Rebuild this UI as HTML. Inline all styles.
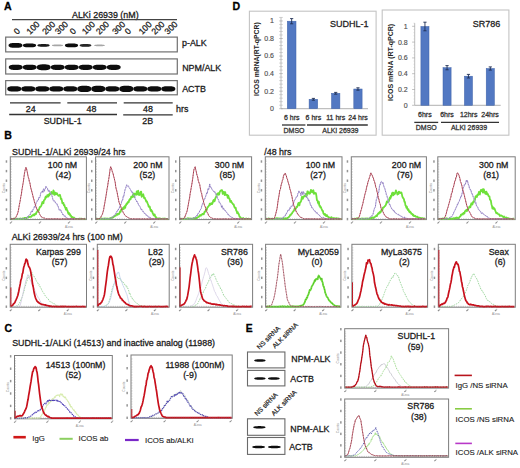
<!DOCTYPE html>
<html><head><meta charset="utf-8"><style>
html,body{margin:0;padding:0;background:#fff;width:520px;height:468px;overflow:hidden}
svg{display:block}
text{font-family:"Liberation Sans",sans-serif}
</style></head><body>
<svg width="520" height="468" viewBox="0 0 520 468">
<defs><filter id="bl" x="-20%" y="-60%" width="140%" height="220%"><feGaussianBlur stdDeviation="0.45"/></filter></defs>
<rect width="520" height="468" fill="#fff"/>
<text x="4.00" y="9.80" font-size="10.6" fill="#000" text-anchor="start" font-weight="bold" stroke="#000" stroke-width="0.28" >A</text>
<text x="72.00" y="17.50" font-size="8.9" fill="#1a1a1a" text-anchor="start" stroke="#1a1a1a" stroke-width="0.28" >ALKi 26939 (nM)</text>
<line x1="12.00" y1="19.60" x2="177.00" y2="19.60" stroke="#444" stroke-width="1.1" />
<text x="17.20" y="35.00" font-size="8.6" fill="#1a1a1a" stroke="#1a1a1a" stroke-width="0.25" transform="rotate(-45 17.20 35.00)">0</text>
<text x="30.00" y="35.00" font-size="8.6" fill="#1a1a1a" stroke="#1a1a1a" stroke-width="0.25" transform="rotate(-45 30.00 35.00)">100</text>
<text x="45.70" y="35.00" font-size="8.6" fill="#1a1a1a" stroke="#1a1a1a" stroke-width="0.25" transform="rotate(-45 45.70 35.00)">200</text>
<text x="58.60" y="35.00" font-size="8.6" fill="#1a1a1a" stroke="#1a1a1a" stroke-width="0.25" transform="rotate(-45 58.60 35.00)">300</text>
<text x="73.30" y="35.00" font-size="8.6" fill="#1a1a1a" stroke="#1a1a1a" stroke-width="0.25" transform="rotate(-45 73.30 35.00)">0</text>
<text x="85.40" y="35.00" font-size="8.6" fill="#1a1a1a" stroke="#1a1a1a" stroke-width="0.25" transform="rotate(-45 85.40 35.00)">100</text>
<text x="99.50" y="35.00" font-size="8.6" fill="#1a1a1a" stroke="#1a1a1a" stroke-width="0.25" transform="rotate(-45 99.50 35.00)">200</text>
<text x="115.70" y="35.00" font-size="8.6" fill="#1a1a1a" stroke="#1a1a1a" stroke-width="0.25" transform="rotate(-45 115.70 35.00)">300</text>
<text x="128.20" y="35.00" font-size="8.6" fill="#1a1a1a" stroke="#1a1a1a" stroke-width="0.25" transform="rotate(-45 128.20 35.00)">0</text>
<text x="142.20" y="35.00" font-size="8.6" fill="#1a1a1a" stroke="#1a1a1a" stroke-width="0.25" transform="rotate(-45 142.20 35.00)">100</text>
<text x="155.00" y="35.00" font-size="8.6" fill="#1a1a1a" stroke="#1a1a1a" stroke-width="0.25" transform="rotate(-45 155.00 35.00)">200</text>
<text x="168.00" y="35.00" font-size="8.6" fill="#1a1a1a" stroke="#1a1a1a" stroke-width="0.25" transform="rotate(-45 168.00 35.00)">300</text>
<rect x="5.70" y="37.10" width="171.60" height="14.80" fill="none" stroke="#707070" stroke-width="1.2" />
<rect x="5.70" y="58.90" width="171.60" height="15.10" fill="none" stroke="#707070" stroke-width="1.2" />
<rect x="5.70" y="80.60" width="171.60" height="14.20" fill="none" stroke="#707070" stroke-width="1.2" />
<polygon points="22.40,45.40 22.35,45.91 22.22,46.27 21.99,46.57 21.68,46.84 21.27,47.07 20.79,47.28 20.21,47.45 19.55,47.59 18.80,47.71 17.94,47.79 16.94,47.83 15.50,47.85 14.06,47.83 13.06,47.79 12.20,47.71 11.45,47.59 10.79,47.45 10.21,47.28 9.73,47.07 9.32,46.84 9.01,46.57 8.78,46.27 8.65,45.91 8.60,45.40 8.65,44.89 8.78,44.53 9.01,44.23 9.32,43.96 9.73,43.73 10.21,43.52 10.79,43.35 11.45,43.21 12.20,43.09 13.06,43.01 14.06,42.97 15.50,42.95 16.94,42.97 17.94,43.01 18.80,43.09 19.55,43.21 20.21,43.35 20.79,43.52 21.27,43.73 21.68,43.96 21.99,44.23 22.22,44.53 22.35,44.89" fill="#0a0a0a" fill-opacity="1.0" filter="url(#bl)"/>
<polygon points="36.05,45.40 36.01,45.81 35.88,46.09 35.66,46.33 35.36,46.54 34.98,46.73 34.52,46.89 33.97,47.03 33.34,47.15 32.63,47.23 31.82,47.30 30.87,47.34 29.50,47.35 28.13,47.34 27.18,47.30 26.37,47.23 25.66,47.15 25.03,47.03 24.48,46.89 24.02,46.73 23.64,46.54 23.34,46.33 23.12,46.09 22.99,45.81 22.95,45.40 22.99,44.99 23.12,44.71 23.34,44.47 23.64,44.26 24.02,44.07 24.48,43.91 25.03,43.77 25.66,43.65 26.37,43.57 27.18,43.50 28.13,43.46 29.50,43.45 30.87,43.46 31.82,43.50 32.63,43.57 33.34,43.65 33.97,43.77 34.52,43.91 34.98,44.07 35.36,44.26 35.66,44.47 35.88,44.71 36.01,44.99" fill="#0a0a0a" fill-opacity="1.0" filter="url(#bl)"/>
<polygon points="49.55,45.40 49.51,45.68 49.39,45.88 49.19,46.04 48.92,46.19 48.56,46.32 48.13,46.43 47.63,46.53 47.05,46.61 46.39,46.67 45.64,46.71 44.76,46.74 43.50,46.75 42.24,46.74 41.36,46.71 40.61,46.67 39.95,46.61 39.37,46.53 38.87,46.43 38.44,46.32 38.08,46.19 37.81,46.04 37.61,45.88 37.49,45.68 37.45,45.40 37.49,45.12 37.61,44.92 37.81,44.76 38.08,44.61 38.44,44.48 38.87,44.37 39.37,44.27 39.95,44.19 40.61,44.13 41.36,44.09 42.24,44.06 43.50,44.05 44.76,44.06 45.64,44.09 46.39,44.13 47.05,44.19 47.63,44.27 48.13,44.37 48.56,44.48 48.92,44.61 49.19,44.76 49.39,44.92 49.51,45.12" fill="#0a0a0a" fill-opacity="0.95" filter="url(#bl)"/>
<polygon points="63.05,45.40 63.01,45.59 62.90,45.72 62.72,45.83 62.47,45.93 62.14,46.01 61.75,46.09 61.29,46.15 60.76,46.21 60.15,46.25 59.46,46.28 58.66,46.29 57.50,46.30 56.34,46.29 55.54,46.28 54.85,46.25 54.24,46.21 53.71,46.15 53.25,46.09 52.86,46.01 52.53,45.93 52.28,45.83 52.10,45.72 51.99,45.59 51.95,45.40 51.99,45.21 52.10,45.08 52.28,44.97 52.53,44.87 52.86,44.79 53.25,44.71 53.71,44.65 54.24,44.59 54.85,44.55 55.54,44.52 56.34,44.51 57.50,44.50 58.66,44.51 59.46,44.52 60.15,44.55 60.76,44.59 61.29,44.65 61.75,44.71 62.14,44.79 62.47,44.87 62.72,44.97 62.90,45.08 63.01,45.21" fill="#0a0a0a" fill-opacity="0.35" filter="url(#bl)"/>
<polygon points="78.05,45.40 78.01,45.81 77.88,46.09 77.66,46.33 77.36,46.54 76.98,46.73 76.52,46.89 75.97,47.03 75.34,47.15 74.63,47.23 73.82,47.30 72.87,47.34 71.50,47.35 70.13,47.34 69.18,47.30 68.37,47.23 67.66,47.15 67.03,47.03 66.48,46.89 66.02,46.73 65.64,46.54 65.34,46.33 65.12,46.09 64.99,45.81 64.95,45.40 64.99,44.99 65.12,44.71 65.34,44.47 65.64,44.26 66.02,44.07 66.48,43.91 67.03,43.77 67.66,43.65 68.37,43.57 69.18,43.50 70.13,43.46 71.50,43.45 72.87,43.46 73.82,43.50 74.63,43.57 75.34,43.65 75.97,43.77 76.52,43.91 76.98,44.07 77.36,44.26 77.66,44.47 77.88,44.71 78.01,44.99" fill="#0a0a0a" fill-opacity="1.0" filter="url(#bl)"/>
<polygon points="91.30,45.40 91.26,45.69 91.15,45.89 90.96,46.07 90.69,46.22 90.35,46.36 89.94,46.47 89.46,46.57 88.90,46.65 88.27,46.72 87.55,46.76 86.71,46.79 85.50,46.80 84.29,46.79 83.45,46.76 82.73,46.72 82.10,46.65 81.54,46.57 81.06,46.47 80.65,46.36 80.31,46.22 80.04,46.07 79.85,45.89 79.74,45.69 79.70,45.40 79.74,45.11 79.85,44.91 80.04,44.73 80.31,44.58 80.65,44.44 81.06,44.33 81.54,44.23 82.10,44.15 82.73,44.08 83.45,44.04 84.29,44.01 85.50,44.00 86.71,44.01 87.55,44.04 88.27,44.08 88.90,44.15 89.46,44.23 89.94,44.33 90.35,44.44 90.69,44.58 90.96,44.73 91.15,44.91 91.26,45.11" fill="#0a0a0a" fill-opacity="0.9" filter="url(#bl)"/>
<polygon points="104.80,45.40 104.77,45.58 104.66,45.70 104.49,45.81 104.24,45.90 103.94,45.98 103.56,46.05 103.12,46.11 102.61,46.16 102.03,46.20 101.37,46.23 100.61,46.24 99.50,46.25 98.39,46.24 97.63,46.23 96.97,46.20 96.39,46.16 95.88,46.11 95.44,46.05 95.06,45.98 94.76,45.90 94.51,45.81 94.34,45.70 94.23,45.58 94.20,45.40 94.23,45.22 94.34,45.10 94.51,44.99 94.76,44.90 95.06,44.82 95.44,44.75 95.88,44.69 96.39,44.64 96.97,44.60 97.63,44.57 98.39,44.56 99.50,44.55 100.61,44.56 101.37,44.57 102.03,44.60 102.61,44.64 103.12,44.69 103.56,44.75 103.94,44.82 104.24,44.90 104.49,44.99 104.66,45.10 104.77,45.22" fill="#0a0a0a" fill-opacity="0.35" filter="url(#bl)"/>
<polygon points="22.60,67.30 22.55,67.85 22.42,68.24 22.19,68.57 21.88,68.85 21.47,69.11 20.99,69.33 20.41,69.52 19.75,69.67 19.00,69.79 18.14,69.88 17.14,69.93 15.70,69.95 14.26,69.93 13.26,69.88 12.40,69.79 11.65,69.67 10.99,69.52 10.41,69.33 9.93,69.11 9.52,68.85 9.21,68.57 8.98,68.24 8.85,67.85 8.80,67.30 8.85,66.75 8.98,66.36 9.21,66.03 9.52,65.75 9.93,65.49 10.41,65.27 10.99,65.08 11.65,64.93 12.40,64.81 13.26,64.72 14.26,64.67 15.70,64.65 17.14,64.67 18.14,64.72 19.00,64.81 19.75,64.93 20.41,65.08 20.99,65.27 21.47,65.49 21.88,65.75 22.19,66.03 22.42,66.36 22.55,66.75" fill="#0a0a0a" fill-opacity="1.0" filter="url(#bl)"/>
<polygon points="36.60,67.30 36.55,67.85 36.42,68.24 36.19,68.57 35.88,68.85 35.47,69.11 34.99,69.33 34.41,69.52 33.75,69.67 33.00,69.79 32.14,69.88 31.14,69.93 29.70,69.95 28.26,69.93 27.26,69.88 26.40,69.79 25.65,69.67 24.99,69.52 24.41,69.33 23.93,69.11 23.52,68.85 23.21,68.57 22.98,68.24 22.85,67.85 22.80,67.30 22.85,66.75 22.98,66.36 23.21,66.03 23.52,65.75 23.93,65.49 24.41,65.27 24.99,65.08 25.65,64.93 26.40,64.81 27.26,64.72 28.26,64.67 29.70,64.65 31.14,64.67 32.14,64.72 33.00,64.81 33.75,64.93 34.41,65.08 34.99,65.27 35.47,65.49 35.88,65.75 36.19,66.03 36.42,66.36 36.55,66.75" fill="#0a0a0a" fill-opacity="1.0" filter="url(#bl)"/>
<polygon points="50.60,67.30 50.55,67.92 50.42,68.34 50.19,68.71 49.88,69.03 49.47,69.31 48.99,69.56 48.41,69.77 47.75,69.94 47.00,70.08 46.14,70.17 45.14,70.23 43.70,70.25 42.26,70.23 41.26,70.17 40.40,70.08 39.65,69.94 38.99,69.77 38.41,69.56 37.93,69.31 37.52,69.03 37.21,68.71 36.98,68.34 36.85,67.92 36.80,67.30 36.85,66.68 36.98,66.26 37.21,65.89 37.52,65.57 37.93,65.29 38.41,65.04 38.99,64.83 39.65,64.66 40.40,64.52 41.26,64.43 42.26,64.37 43.70,64.35 45.14,64.37 46.14,64.43 47.00,64.52 47.75,64.66 48.41,64.83 48.99,65.04 49.47,65.29 49.88,65.57 50.19,65.89 50.42,66.26 50.55,66.68" fill="#0a0a0a" fill-opacity="1.0" filter="url(#bl)"/>
<polygon points="64.60,67.30 64.55,67.85 64.42,68.24 64.19,68.57 63.88,68.85 63.47,69.11 62.99,69.33 62.41,69.52 61.75,69.67 61.00,69.79 60.14,69.88 59.14,69.93 57.70,69.95 56.26,69.93 55.26,69.88 54.40,69.79 53.65,69.67 52.99,69.52 52.41,69.33 51.93,69.11 51.52,68.85 51.21,68.57 50.98,68.24 50.85,67.85 50.80,67.30 50.85,66.75 50.98,66.36 51.21,66.03 51.52,65.75 51.93,65.49 52.41,65.27 52.99,65.08 53.65,64.93 54.40,64.81 55.26,64.72 56.26,64.67 57.70,64.65 59.14,64.67 60.14,64.72 61.00,64.81 61.75,64.93 62.41,65.08 62.99,65.27 63.47,65.49 63.88,65.75 64.19,66.03 64.42,66.36 64.55,66.75" fill="#0a0a0a" fill-opacity="1.0" filter="url(#bl)"/>
<polygon points="78.60,67.30 78.55,67.85 78.42,68.24 78.19,68.57 77.88,68.85 77.47,69.11 76.99,69.33 76.41,69.52 75.75,69.67 75.00,69.79 74.14,69.88 73.14,69.93 71.70,69.95 70.26,69.93 69.26,69.88 68.40,69.79 67.65,69.67 66.99,69.52 66.41,69.33 65.93,69.11 65.52,68.85 65.21,68.57 64.98,68.24 64.85,67.85 64.80,67.30 64.85,66.75 64.98,66.36 65.21,66.03 65.52,65.75 65.93,65.49 66.41,65.27 66.99,65.08 67.65,64.93 68.40,64.81 69.26,64.72 70.26,64.67 71.70,64.65 73.14,64.67 74.14,64.72 75.00,64.81 75.75,64.93 76.41,65.08 76.99,65.27 77.47,65.49 77.88,65.75 78.19,66.03 78.42,66.36 78.55,66.75" fill="#0a0a0a" fill-opacity="1.0" filter="url(#bl)"/>
<polygon points="92.60,67.30 92.55,67.85 92.42,68.24 92.19,68.57 91.88,68.85 91.47,69.11 90.99,69.33 90.41,69.52 89.75,69.67 89.00,69.79 88.14,69.88 87.14,69.93 85.70,69.95 84.26,69.93 83.26,69.88 82.40,69.79 81.65,69.67 80.99,69.52 80.41,69.33 79.93,69.11 79.52,68.85 79.21,68.57 78.98,68.24 78.85,67.85 78.80,67.30 78.85,66.75 78.98,66.36 79.21,66.03 79.52,65.75 79.93,65.49 80.41,65.27 80.99,65.08 81.65,64.93 82.40,64.81 83.26,64.72 84.26,64.67 85.70,64.65 87.14,64.67 88.14,64.72 89.00,64.81 89.75,64.93 90.41,65.08 90.99,65.27 91.47,65.49 91.88,65.75 92.19,66.03 92.42,66.36 92.55,66.75" fill="#0a0a0a" fill-opacity="1.0" filter="url(#bl)"/>
<polygon points="106.60,67.30 106.55,67.85 106.42,68.24 106.19,68.57 105.88,68.85 105.47,69.11 104.99,69.33 104.41,69.52 103.75,69.67 103.00,69.79 102.14,69.88 101.14,69.93 99.70,69.95 98.26,69.93 97.26,69.88 96.40,69.79 95.65,69.67 94.99,69.52 94.41,69.33 93.93,69.11 93.52,68.85 93.21,68.57 92.98,68.24 92.85,67.85 92.80,67.30 92.85,66.75 92.98,66.36 93.21,66.03 93.52,65.75 93.93,65.49 94.41,65.27 94.99,65.08 95.65,64.93 96.40,64.81 97.26,64.72 98.26,64.67 99.70,64.65 101.14,64.67 102.14,64.72 103.00,64.81 103.75,64.93 104.41,65.08 104.99,65.27 105.47,65.49 105.88,65.75 106.19,66.03 106.42,66.36 106.55,66.75" fill="#0a0a0a" fill-opacity="1.0" filter="url(#bl)"/>
<polygon points="120.60,67.30 120.55,67.85 120.42,68.24 120.19,68.57 119.88,68.85 119.47,69.11 118.99,69.33 118.41,69.52 117.75,69.67 117.00,69.79 116.14,69.88 115.14,69.93 113.70,69.95 112.26,69.93 111.26,69.88 110.40,69.79 109.65,69.67 108.99,69.52 108.41,69.33 107.93,69.11 107.52,68.85 107.21,68.57 106.98,68.24 106.85,67.85 106.80,67.30 106.85,66.75 106.98,66.36 107.21,66.03 107.52,65.75 107.93,65.49 108.41,65.27 108.99,65.08 109.65,64.93 110.40,64.81 111.26,64.72 112.26,64.67 113.70,64.65 115.14,64.67 116.14,64.72 117.00,64.81 117.75,64.93 118.41,65.08 118.99,65.27 119.47,65.49 119.88,65.75 120.19,66.03 120.42,66.36 120.55,66.75" fill="#0a0a0a" fill-opacity="1.0" filter="url(#bl)"/>
<polygon points="21.30,88.90 21.25,89.46 21.12,89.85 20.89,90.19 20.57,90.48 20.16,90.74 19.66,90.97 19.08,91.16 18.41,91.32 17.64,91.44 16.77,91.53 15.76,91.58 14.30,91.60 12.84,91.58 11.83,91.53 10.96,91.44 10.19,91.32 9.52,91.16 8.94,90.97 8.44,90.74 8.03,90.48 7.71,90.19 7.48,89.85 7.35,89.46 7.30,88.90 7.35,88.34 7.48,87.95 7.71,87.61 8.03,87.32 8.44,87.06 8.94,86.83 9.52,86.64 10.19,86.48 10.96,86.36 11.83,86.27 12.84,86.22 14.30,86.20 15.76,86.22 16.77,86.27 17.64,86.36 18.41,86.48 19.08,86.64 19.66,86.83 20.16,87.06 20.57,87.32 20.89,87.61 21.12,87.95 21.25,88.34" fill="#0a0a0a" fill-opacity="1.0" filter="url(#bl)"/>
<polygon points="35.30,88.90 35.25,89.46 35.12,89.85 34.89,90.19 34.57,90.48 34.16,90.74 33.66,90.97 33.08,91.16 32.41,91.32 31.64,91.44 30.77,91.53 29.76,91.58 28.30,91.60 26.84,91.58 25.83,91.53 24.96,91.44 24.19,91.32 23.52,91.16 22.94,90.97 22.44,90.74 22.03,90.48 21.71,90.19 21.48,89.85 21.35,89.46 21.30,88.90 21.35,88.34 21.48,87.95 21.71,87.61 22.03,87.32 22.44,87.06 22.94,86.83 23.52,86.64 24.19,86.48 24.96,86.36 25.83,86.27 26.84,86.22 28.30,86.20 29.76,86.22 30.77,86.27 31.64,86.36 32.41,86.48 33.08,86.64 33.66,86.83 34.16,87.06 34.57,87.32 34.89,87.61 35.12,87.95 35.25,88.34" fill="#0a0a0a" fill-opacity="1.0" filter="url(#bl)"/>
<polygon points="49.30,88.90 49.25,89.46 49.12,89.85 48.89,90.19 48.57,90.48 48.16,90.74 47.66,90.97 47.08,91.16 46.41,91.32 45.64,91.44 44.77,91.53 43.76,91.58 42.30,91.60 40.84,91.58 39.83,91.53 38.96,91.44 38.19,91.32 37.52,91.16 36.94,90.97 36.44,90.74 36.03,90.48 35.71,90.19 35.48,89.85 35.35,89.46 35.30,88.90 35.35,88.34 35.48,87.95 35.71,87.61 36.03,87.32 36.44,87.06 36.94,86.83 37.52,86.64 38.19,86.48 38.96,86.36 39.83,86.27 40.84,86.22 42.30,86.20 43.76,86.22 44.77,86.27 45.64,86.36 46.41,86.48 47.08,86.64 47.66,86.83 48.16,87.06 48.57,87.32 48.89,87.61 49.12,87.95 49.25,88.34" fill="#0a0a0a" fill-opacity="1.0" filter="url(#bl)"/>
<polygon points="63.30,88.90 63.25,89.46 63.12,89.85 62.89,90.19 62.57,90.48 62.16,90.74 61.66,90.97 61.08,91.16 60.41,91.32 59.64,91.44 58.77,91.53 57.76,91.58 56.30,91.60 54.84,91.58 53.83,91.53 52.96,91.44 52.19,91.32 51.52,91.16 50.94,90.97 50.44,90.74 50.03,90.48 49.71,90.19 49.48,89.85 49.35,89.46 49.30,88.90 49.35,88.34 49.48,87.95 49.71,87.61 50.03,87.32 50.44,87.06 50.94,86.83 51.52,86.64 52.19,86.48 52.96,86.36 53.83,86.27 54.84,86.22 56.30,86.20 57.76,86.22 58.77,86.27 59.64,86.36 60.41,86.48 61.08,86.64 61.66,86.83 62.16,87.06 62.57,87.32 62.89,87.61 63.12,87.95 63.25,88.34" fill="#0a0a0a" fill-opacity="1.0" filter="url(#bl)"/>
<polygon points="77.30,88.90 77.25,89.46 77.12,89.85 76.89,90.19 76.57,90.48 76.16,90.74 75.66,90.97 75.08,91.16 74.41,91.32 73.64,91.44 72.77,91.53 71.76,91.58 70.30,91.60 68.84,91.58 67.83,91.53 66.96,91.44 66.19,91.32 65.52,91.16 64.94,90.97 64.44,90.74 64.03,90.48 63.71,90.19 63.48,89.85 63.35,89.46 63.30,88.90 63.35,88.34 63.48,87.95 63.71,87.61 64.03,87.32 64.44,87.06 64.94,86.83 65.52,86.64 66.19,86.48 66.96,86.36 67.83,86.27 68.84,86.22 70.30,86.20 71.76,86.22 72.77,86.27 73.64,86.36 74.41,86.48 75.08,86.64 75.66,86.83 76.16,87.06 76.57,87.32 76.89,87.61 77.12,87.95 77.25,88.34" fill="#0a0a0a" fill-opacity="1.0" filter="url(#bl)"/>
<polygon points="91.30,88.90 91.25,89.57 91.12,90.03 90.89,90.43 90.57,90.78 90.16,91.08 89.66,91.35 89.08,91.58 88.41,91.76 87.64,91.91 86.77,92.02 85.76,92.08 84.30,92.10 82.84,92.08 81.83,92.02 80.96,91.91 80.19,91.76 79.52,91.58 78.94,91.35 78.44,91.08 78.03,90.78 77.71,90.43 77.48,90.03 77.35,89.57 77.30,88.90 77.35,88.23 77.48,87.77 77.71,87.37 78.03,87.02 78.44,86.72 78.94,86.45 79.52,86.22 80.19,86.04 80.96,85.89 81.83,85.78 82.84,85.72 84.30,85.70 85.76,85.72 86.77,85.78 87.64,85.89 88.41,86.04 89.08,86.22 89.66,86.45 90.16,86.72 90.57,87.02 90.89,87.37 91.12,87.77 91.25,88.23" fill="#0a0a0a" fill-opacity="1.0" filter="url(#bl)"/>
<polygon points="105.30,88.90 105.25,89.57 105.12,90.03 104.89,90.43 104.57,90.78 104.16,91.08 103.66,91.35 103.08,91.58 102.41,91.76 101.64,91.91 100.77,92.02 99.76,92.08 98.30,92.10 96.84,92.08 95.83,92.02 94.96,91.91 94.19,91.76 93.52,91.58 92.94,91.35 92.44,91.08 92.03,90.78 91.71,90.43 91.48,90.03 91.35,89.57 91.30,88.90 91.35,88.23 91.48,87.77 91.71,87.37 92.03,87.02 92.44,86.72 92.94,86.45 93.52,86.22 94.19,86.04 94.96,85.89 95.83,85.78 96.84,85.72 98.30,85.70 99.76,85.72 100.77,85.78 101.64,85.89 102.41,86.04 103.08,86.22 103.66,86.45 104.16,86.72 104.57,87.02 104.89,87.37 105.12,87.77 105.25,88.23" fill="#0a0a0a" fill-opacity="1.0" filter="url(#bl)"/>
<polygon points="119.30,88.90 119.25,89.46 119.12,89.85 118.89,90.19 118.57,90.48 118.16,90.74 117.66,90.97 117.08,91.16 116.41,91.32 115.64,91.44 114.77,91.53 113.76,91.58 112.30,91.60 110.84,91.58 109.83,91.53 108.96,91.44 108.19,91.32 107.52,91.16 106.94,90.97 106.44,90.74 106.03,90.48 105.71,90.19 105.48,89.85 105.35,89.46 105.30,88.90 105.35,88.34 105.48,87.95 105.71,87.61 106.03,87.32 106.44,87.06 106.94,86.83 107.52,86.64 108.19,86.48 108.96,86.36 109.83,86.27 110.84,86.22 112.30,86.20 113.76,86.22 114.77,86.27 115.64,86.36 116.41,86.48 117.08,86.64 117.66,86.83 118.16,87.06 118.57,87.32 118.89,87.61 119.12,87.95 119.25,88.34" fill="#0a0a0a" fill-opacity="1.0" filter="url(#bl)"/>
<polygon points="133.30,88.90 133.25,89.57 133.12,90.03 132.89,90.43 132.57,90.78 132.16,91.08 131.66,91.35 131.08,91.58 130.41,91.76 129.64,91.91 128.77,92.02 127.76,92.08 126.30,92.10 124.84,92.08 123.83,92.02 122.96,91.91 122.19,91.76 121.52,91.58 120.94,91.35 120.44,91.08 120.03,90.78 119.71,90.43 119.48,90.03 119.35,89.57 119.30,88.90 119.35,88.23 119.48,87.77 119.71,87.37 120.03,87.02 120.44,86.72 120.94,86.45 121.52,86.22 122.19,86.04 122.96,85.89 123.83,85.78 124.84,85.72 126.30,85.70 127.76,85.72 128.77,85.78 129.64,85.89 130.41,86.04 131.08,86.22 131.66,86.45 132.16,86.72 132.57,87.02 132.89,87.37 133.12,87.77 133.25,88.23" fill="#0a0a0a" fill-opacity="1.0" filter="url(#bl)"/>
<polygon points="147.30,88.90 147.25,89.46 147.12,89.85 146.89,90.19 146.57,90.48 146.16,90.74 145.66,90.97 145.08,91.16 144.41,91.32 143.64,91.44 142.77,91.53 141.76,91.58 140.30,91.60 138.84,91.58 137.83,91.53 136.96,91.44 136.19,91.32 135.52,91.16 134.94,90.97 134.44,90.74 134.03,90.48 133.71,90.19 133.48,89.85 133.35,89.46 133.30,88.90 133.35,88.34 133.48,87.95 133.71,87.61 134.03,87.32 134.44,87.06 134.94,86.83 135.52,86.64 136.19,86.48 136.96,86.36 137.83,86.27 138.84,86.22 140.30,86.20 141.76,86.22 142.77,86.27 143.64,86.36 144.41,86.48 145.08,86.64 145.66,86.83 146.16,87.06 146.57,87.32 146.89,87.61 147.12,87.95 147.25,88.34" fill="#0a0a0a" fill-opacity="1.0" filter="url(#bl)"/>
<polygon points="161.30,88.90 161.25,89.46 161.12,89.85 160.89,90.19 160.57,90.48 160.16,90.74 159.66,90.97 159.08,91.16 158.41,91.32 157.64,91.44 156.77,91.53 155.76,91.58 154.30,91.60 152.84,91.58 151.83,91.53 150.96,91.44 150.19,91.32 149.52,91.16 148.94,90.97 148.44,90.74 148.03,90.48 147.71,90.19 147.48,89.85 147.35,89.46 147.30,88.90 147.35,88.34 147.48,87.95 147.71,87.61 148.03,87.32 148.44,87.06 148.94,86.83 149.52,86.64 150.19,86.48 150.96,86.36 151.83,86.27 152.84,86.22 154.30,86.20 155.76,86.22 156.77,86.27 157.64,86.36 158.41,86.48 159.08,86.64 159.66,86.83 160.16,87.06 160.57,87.32 160.89,87.61 161.12,87.95 161.25,88.34" fill="#0a0a0a" fill-opacity="1.0" filter="url(#bl)"/>
<polygon points="175.30,88.90 175.25,89.46 175.12,89.85 174.89,90.19 174.57,90.48 174.16,90.74 173.66,90.97 173.08,91.16 172.41,91.32 171.64,91.44 170.77,91.53 169.76,91.58 168.30,91.60 166.84,91.58 165.83,91.53 164.96,91.44 164.19,91.32 163.52,91.16 162.94,90.97 162.44,90.74 162.03,90.48 161.71,90.19 161.48,89.85 161.35,89.46 161.30,88.90 161.35,88.34 161.48,87.95 161.71,87.61 162.03,87.32 162.44,87.06 162.94,86.83 163.52,86.64 164.19,86.48 164.96,86.36 165.83,86.27 166.84,86.22 168.30,86.20 169.76,86.22 170.77,86.27 171.64,86.36 172.41,86.48 173.08,86.64 173.66,86.83 174.16,87.06 174.57,87.32 174.89,87.61 175.12,87.95 175.25,88.34" fill="#0a0a0a" fill-opacity="1.0" filter="url(#bl)"/>
<text x="182.00" y="46.30" font-size="8.9" fill="#1a1a1a" text-anchor="start" stroke="#1a1a1a" stroke-width="0.28" >p-ALK</text>
<text x="182.20" y="71.30" font-size="8.9" fill="#1a1a1a" text-anchor="start" stroke="#1a1a1a" stroke-width="0.28" >NPM/ALK</text>
<text x="182.20" y="91.90" font-size="8.9" fill="#1a1a1a" text-anchor="start" stroke="#1a1a1a" stroke-width="0.28" >ACTB</text>
<line x1="10.00" y1="102.80" x2="60.60" y2="102.80" stroke="#333" stroke-width="1.3" />
<line x1="67.30" y1="102.80" x2="117.00" y2="102.80" stroke="#333" stroke-width="1.3" />
<line x1="123.70" y1="102.80" x2="172.70" y2="102.80" stroke="#333" stroke-width="1.3" />
<line x1="9.20" y1="114.50" x2="117.00" y2="114.50" stroke="#333" stroke-width="1.3" />
<line x1="123.20" y1="114.80" x2="172.70" y2="114.80" stroke="#333" stroke-width="1.3" />
<text x="30.80" y="112.20" font-size="8.9" fill="#1a1a1a" text-anchor="middle" stroke="#1a1a1a" stroke-width="0.28" >24</text>
<text x="91.50" y="112.20" font-size="8.9" fill="#1a1a1a" text-anchor="middle" stroke="#1a1a1a" stroke-width="0.28" >48</text>
<text x="148.00" y="112.20" font-size="8.9" fill="#1a1a1a" text-anchor="middle" stroke="#1a1a1a" stroke-width="0.28" >48</text>
<text x="176.00" y="112.20" font-size="8.9" fill="#1a1a1a" text-anchor="start" stroke="#1a1a1a" stroke-width="0.28" >hrs</text>
<text x="62.70" y="123.80" font-size="8.9" fill="#1a1a1a" text-anchor="middle" stroke="#1a1a1a" stroke-width="0.28" >SUDHL-1</text>
<text x="147.70" y="123.60" font-size="8.9" fill="#1a1a1a" text-anchor="middle" stroke="#1a1a1a" stroke-width="0.28" >2B</text>
<text x="232.60" y="10.00" font-size="10.6" fill="#000" text-anchor="start" font-weight="bold" stroke="#000" stroke-width="0.28" >D</text>
<rect x="249.40" y="11.20" width="126.70" height="124.00" fill="none" stroke="#c4c4c4" stroke-width="1.1" />
<line x1="281.00" y1="17.44" x2="281.00" y2="108.70" stroke="#a0a0a0" stroke-width="0.7" />
<line x1="279.20" y1="108.70" x2="282.80" y2="108.70" stroke="#9a9a9a" stroke-width="0.6" />
<line x1="279.20" y1="105.19" x2="282.80" y2="105.19" stroke="#b4b4b4" stroke-width="0.6" />
<line x1="279.20" y1="101.68" x2="282.80" y2="101.68" stroke="#b4b4b4" stroke-width="0.6" />
<line x1="279.20" y1="98.17" x2="282.80" y2="98.17" stroke="#b4b4b4" stroke-width="0.6" />
<line x1="279.20" y1="94.66" x2="282.80" y2="94.66" stroke="#b4b4b4" stroke-width="0.6" />
<line x1="279.20" y1="91.15" x2="282.80" y2="91.15" stroke="#9a9a9a" stroke-width="0.6" />
<line x1="279.20" y1="87.64" x2="282.80" y2="87.64" stroke="#b4b4b4" stroke-width="0.6" />
<line x1="279.20" y1="84.13" x2="282.80" y2="84.13" stroke="#b4b4b4" stroke-width="0.6" />
<line x1="279.20" y1="80.62" x2="282.80" y2="80.62" stroke="#b4b4b4" stroke-width="0.6" />
<line x1="279.20" y1="77.11" x2="282.80" y2="77.11" stroke="#b4b4b4" stroke-width="0.6" />
<line x1="279.20" y1="73.60" x2="282.80" y2="73.60" stroke="#9a9a9a" stroke-width="0.6" />
<line x1="279.20" y1="70.09" x2="282.80" y2="70.09" stroke="#b4b4b4" stroke-width="0.6" />
<line x1="279.20" y1="66.58" x2="282.80" y2="66.58" stroke="#b4b4b4" stroke-width="0.6" />
<line x1="279.20" y1="63.07" x2="282.80" y2="63.07" stroke="#b4b4b4" stroke-width="0.6" />
<line x1="279.20" y1="59.56" x2="282.80" y2="59.56" stroke="#b4b4b4" stroke-width="0.6" />
<line x1="279.20" y1="56.05" x2="282.80" y2="56.05" stroke="#9a9a9a" stroke-width="0.6" />
<line x1="279.20" y1="52.54" x2="282.80" y2="52.54" stroke="#b4b4b4" stroke-width="0.6" />
<line x1="279.20" y1="49.03" x2="282.80" y2="49.03" stroke="#b4b4b4" stroke-width="0.6" />
<line x1="279.20" y1="45.52" x2="282.80" y2="45.52" stroke="#b4b4b4" stroke-width="0.6" />
<line x1="279.20" y1="42.01" x2="282.80" y2="42.01" stroke="#b4b4b4" stroke-width="0.6" />
<line x1="279.20" y1="38.50" x2="282.80" y2="38.50" stroke="#9a9a9a" stroke-width="0.6" />
<line x1="279.20" y1="34.99" x2="282.80" y2="34.99" stroke="#b4b4b4" stroke-width="0.6" />
<line x1="279.20" y1="31.48" x2="282.80" y2="31.48" stroke="#b4b4b4" stroke-width="0.6" />
<line x1="279.20" y1="27.97" x2="282.80" y2="27.97" stroke="#b4b4b4" stroke-width="0.6" />
<line x1="279.20" y1="24.46" x2="282.80" y2="24.46" stroke="#b4b4b4" stroke-width="0.6" />
<line x1="279.20" y1="20.95" x2="282.80" y2="20.95" stroke="#9a9a9a" stroke-width="0.6" />
<line x1="279.20" y1="17.44" x2="282.80" y2="17.44" stroke="#b4b4b4" stroke-width="0.6" />
<text x="274.00" y="111.10" font-size="7.0" fill="#505050" text-anchor="end" stroke="#505050" stroke-width="0.15" >0</text>
<text x="274.00" y="93.55" font-size="7.0" fill="#505050" text-anchor="end" stroke="#505050" stroke-width="0.15" >0.2</text>
<text x="274.00" y="76.00" font-size="7.0" fill="#505050" text-anchor="end" stroke="#505050" stroke-width="0.15" >0.4</text>
<text x="274.00" y="58.45" font-size="7.0" fill="#505050" text-anchor="end" stroke="#505050" stroke-width="0.15" >0.6</text>
<text x="274.00" y="40.90" font-size="7.0" fill="#505050" text-anchor="end" stroke="#505050" stroke-width="0.15" >0.8</text>
<text x="274.00" y="23.35" font-size="7.0" fill="#505050" text-anchor="end" stroke="#505050" stroke-width="0.15" >1</text>
<line x1="281.00" y1="108.70" x2="368.00" y2="108.70" stroke="#a8a8a8" stroke-width="0.9" />
<rect x="287.30" y="21.20" width="8.70" height="87.50" fill="#5278c2" stroke="#3f62a8" stroke-width="0.5" />
<line x1="291.65" y1="18.60" x2="291.65" y2="23.80" stroke="#1f2f55" stroke-width="0.9" />
<line x1="290.05" y1="18.60" x2="293.25" y2="18.60" stroke="#1f2f55" stroke-width="0.9" />
<line x1="290.05" y1="23.80" x2="293.25" y2="23.80" stroke="#1f2f55" stroke-width="0.9" />
<rect x="309.10" y="99.30" width="8.60" height="9.40" fill="#5278c2" stroke="#3f62a8" stroke-width="0.5" />
<line x1="313.40" y1="98.40" x2="313.40" y2="100.20" stroke="#1f2f55" stroke-width="0.9" />
<line x1="311.80" y1="98.40" x2="315.00" y2="98.40" stroke="#1f2f55" stroke-width="0.9" />
<line x1="311.80" y1="100.20" x2="315.00" y2="100.20" stroke="#1f2f55" stroke-width="0.9" />
<rect x="331.50" y="93.30" width="8.40" height="15.40" fill="#5278c2" stroke="#3f62a8" stroke-width="0.5" />
<line x1="335.70" y1="92.40" x2="335.70" y2="94.20" stroke="#1f2f55" stroke-width="0.9" />
<line x1="334.10" y1="92.40" x2="337.30" y2="92.40" stroke="#1f2f55" stroke-width="0.9" />
<line x1="334.10" y1="94.20" x2="337.30" y2="94.20" stroke="#1f2f55" stroke-width="0.9" />
<rect x="353.80" y="89.00" width="8.30" height="19.70" fill="#5278c2" stroke="#3f62a8" stroke-width="0.5" />
<line x1="357.95" y1="87.80" x2="357.95" y2="90.20" stroke="#1f2f55" stroke-width="0.9" />
<line x1="356.35" y1="87.80" x2="359.55" y2="87.80" stroke="#1f2f55" stroke-width="0.9" />
<line x1="356.35" y1="90.20" x2="359.55" y2="90.20" stroke="#1f2f55" stroke-width="0.9" />
<text x="291.70" y="119.80" font-size="7.0" fill="#333" text-anchor="middle" stroke="#333" stroke-width="0.28" >6 hrs</text>
<text x="313.40" y="119.80" font-size="7.0" fill="#333" text-anchor="middle" stroke="#333" stroke-width="0.28" >6 hrs</text>
<text x="335.70" y="119.80" font-size="7.0" fill="#333" text-anchor="middle" stroke="#333" stroke-width="0.28" >11 hrs</text>
<text x="358.00" y="119.80" font-size="7.0" fill="#333" text-anchor="middle" stroke="#333" stroke-width="0.28" >24 hrs</text>
<line x1="282.00" y1="125.00" x2="305.40" y2="125.00" stroke="#333" stroke-width="1.3" />
<line x1="307.00" y1="125.00" x2="367.80" y2="125.00" stroke="#333" stroke-width="1.3" />
<text x="294.00" y="132.60" font-size="7.0" fill="#333" text-anchor="middle" stroke="#333" stroke-width="0.28" >DMSO</text>
<text x="340.40" y="132.60" font-size="7.0" fill="#333" text-anchor="middle" stroke="#333" stroke-width="0.28" >ALKi 26939</text>
<text x="259.30" y="96.00" font-size="6.85" font-weight="bold" fill="#222" transform="rotate(-90 259.30 96.00)">ICOS mRNA(RT-qPCR)</text>
<text x="368.40" y="27.30" font-size="9.0" fill="#222" text-anchor="end" stroke="#222" stroke-width="0.28" >SUDHL-1</text>
<rect x="382.20" y="10.00" width="126.70" height="125.20" fill="none" stroke="#c4c4c4" stroke-width="1.1" />
<line x1="414.70" y1="23.14" x2="414.70" y2="105.30" stroke="#a0a0a0" stroke-width="0.7" />
<line x1="412.10" y1="105.30" x2="414.70" y2="105.30" stroke="#999" stroke-width="0.6" />
<line x1="413.50" y1="102.14" x2="414.70" y2="102.14" stroke="#c0c0c0" stroke-width="0.5" />
<line x1="413.50" y1="98.98" x2="414.70" y2="98.98" stroke="#c0c0c0" stroke-width="0.5" />
<line x1="413.50" y1="95.82" x2="414.70" y2="95.82" stroke="#c0c0c0" stroke-width="0.5" />
<line x1="413.50" y1="92.66" x2="414.70" y2="92.66" stroke="#c0c0c0" stroke-width="0.5" />
<line x1="412.10" y1="89.50" x2="414.70" y2="89.50" stroke="#999" stroke-width="0.6" />
<line x1="413.50" y1="86.34" x2="414.70" y2="86.34" stroke="#c0c0c0" stroke-width="0.5" />
<line x1="413.50" y1="83.18" x2="414.70" y2="83.18" stroke="#c0c0c0" stroke-width="0.5" />
<line x1="413.50" y1="80.02" x2="414.70" y2="80.02" stroke="#c0c0c0" stroke-width="0.5" />
<line x1="413.50" y1="76.86" x2="414.70" y2="76.86" stroke="#c0c0c0" stroke-width="0.5" />
<line x1="412.10" y1="73.70" x2="414.70" y2="73.70" stroke="#999" stroke-width="0.6" />
<line x1="413.50" y1="70.54" x2="414.70" y2="70.54" stroke="#c0c0c0" stroke-width="0.5" />
<line x1="413.50" y1="67.38" x2="414.70" y2="67.38" stroke="#c0c0c0" stroke-width="0.5" />
<line x1="413.50" y1="64.22" x2="414.70" y2="64.22" stroke="#c0c0c0" stroke-width="0.5" />
<line x1="413.50" y1="61.06" x2="414.70" y2="61.06" stroke="#c0c0c0" stroke-width="0.5" />
<line x1="412.10" y1="57.90" x2="414.70" y2="57.90" stroke="#999" stroke-width="0.6" />
<line x1="413.50" y1="54.74" x2="414.70" y2="54.74" stroke="#c0c0c0" stroke-width="0.5" />
<line x1="413.50" y1="51.58" x2="414.70" y2="51.58" stroke="#c0c0c0" stroke-width="0.5" />
<line x1="413.50" y1="48.42" x2="414.70" y2="48.42" stroke="#c0c0c0" stroke-width="0.5" />
<line x1="413.50" y1="45.26" x2="414.70" y2="45.26" stroke="#c0c0c0" stroke-width="0.5" />
<line x1="412.10" y1="42.10" x2="414.70" y2="42.10" stroke="#999" stroke-width="0.6" />
<line x1="413.50" y1="38.94" x2="414.70" y2="38.94" stroke="#c0c0c0" stroke-width="0.5" />
<line x1="413.50" y1="35.78" x2="414.70" y2="35.78" stroke="#c0c0c0" stroke-width="0.5" />
<line x1="413.50" y1="32.62" x2="414.70" y2="32.62" stroke="#c0c0c0" stroke-width="0.5" />
<line x1="413.50" y1="29.46" x2="414.70" y2="29.46" stroke="#c0c0c0" stroke-width="0.5" />
<line x1="412.10" y1="26.30" x2="414.70" y2="26.30" stroke="#999" stroke-width="0.6" />
<line x1="413.50" y1="23.14" x2="414.70" y2="23.14" stroke="#c0c0c0" stroke-width="0.5" />
<text x="407.70" y="107.70" font-size="7.0" fill="#505050" text-anchor="end" stroke="#505050" stroke-width="0.15" >0</text>
<text x="407.70" y="91.90" font-size="7.0" fill="#505050" text-anchor="end" stroke="#505050" stroke-width="0.15" >0.2</text>
<text x="407.70" y="76.10" font-size="7.0" fill="#505050" text-anchor="end" stroke="#505050" stroke-width="0.15" >0.4</text>
<text x="407.70" y="60.30" font-size="7.0" fill="#505050" text-anchor="end" stroke="#505050" stroke-width="0.15" >0.6</text>
<text x="407.70" y="44.50" font-size="7.0" fill="#505050" text-anchor="end" stroke="#505050" stroke-width="0.15" >0.8</text>
<text x="407.70" y="28.70" font-size="7.0" fill="#505050" text-anchor="end" stroke="#505050" stroke-width="0.15" >1</text>
<line x1="414.70" y1="105.30" x2="500.70" y2="105.30" stroke="#a8a8a8" stroke-width="0.9" />
<rect x="420.90" y="26.50" width="8.10" height="78.80" fill="#5278c2" stroke="#3f62a8" stroke-width="0.5" />
<line x1="424.95" y1="22.20" x2="424.95" y2="30.80" stroke="#1f2f55" stroke-width="0.9" />
<line x1="423.35" y1="22.20" x2="426.55" y2="22.20" stroke="#1f2f55" stroke-width="0.9" />
<line x1="423.35" y1="30.80" x2="426.55" y2="30.80" stroke="#1f2f55" stroke-width="0.9" />
<rect x="443.00" y="67.70" width="8.10" height="37.60" fill="#5278c2" stroke="#3f62a8" stroke-width="0.5" />
<line x1="447.05" y1="65.60" x2="447.05" y2="69.80" stroke="#1f2f55" stroke-width="0.9" />
<line x1="445.45" y1="65.60" x2="448.65" y2="65.60" stroke="#1f2f55" stroke-width="0.9" />
<line x1="445.45" y1="69.80" x2="448.65" y2="69.80" stroke="#1f2f55" stroke-width="0.9" />
<rect x="464.40" y="76.20" width="8.10" height="29.10" fill="#5278c2" stroke="#3f62a8" stroke-width="0.5" />
<line x1="468.45" y1="74.40" x2="468.45" y2="78.00" stroke="#1f2f55" stroke-width="0.9" />
<line x1="466.85" y1="74.40" x2="470.05" y2="74.40" stroke="#1f2f55" stroke-width="0.9" />
<line x1="466.85" y1="78.00" x2="470.05" y2="78.00" stroke="#1f2f55" stroke-width="0.9" />
<rect x="486.20" y="68.50" width="8.20" height="36.80" fill="#5278c2" stroke="#3f62a8" stroke-width="0.5" />
<line x1="490.30" y1="66.90" x2="490.30" y2="70.10" stroke="#1f2f55" stroke-width="0.9" />
<line x1="488.70" y1="66.90" x2="491.90" y2="66.90" stroke="#1f2f55" stroke-width="0.9" />
<line x1="488.70" y1="70.10" x2="491.90" y2="70.10" stroke="#1f2f55" stroke-width="0.9" />
<text x="424.90" y="117.30" font-size="7.0" fill="#333" text-anchor="middle" stroke="#333" stroke-width="0.28" >6hrs</text>
<text x="447.00" y="117.30" font-size="7.0" fill="#333" text-anchor="middle" stroke="#333" stroke-width="0.28" >6hrs</text>
<text x="468.70" y="117.30" font-size="7.0" fill="#333" text-anchor="middle" stroke="#333" stroke-width="0.28" >12hrs</text>
<text x="490.00" y="117.30" font-size="7.0" fill="#333" text-anchor="middle" stroke="#333" stroke-width="0.28" >24hrs</text>
<line x1="414.30" y1="122.40" x2="438.20" y2="122.40" stroke="#333" stroke-width="1.3" />
<line x1="441.00" y1="122.40" x2="499.00" y2="122.40" stroke="#333" stroke-width="1.3" />
<text x="426.30" y="130.00" font-size="7.0" fill="#333" text-anchor="middle" stroke="#333" stroke-width="0.28" >DMSO</text>
<text x="469.00" y="130.00" font-size="7.0" fill="#333" text-anchor="middle" stroke="#333" stroke-width="0.28" >ALKi 26939</text>
<text x="393.00" y="101.00" font-size="7.0" font-weight="bold" fill="#222" transform="rotate(-90 393.00 101.00)">ICOS  mRNA (RT-qPCR)</text>
<text x="500.30" y="26.90" font-size="9.0" fill="#222" text-anchor="end" stroke="#222" stroke-width="0.28" >SR786</text>
<text x="4.30" y="138.80" font-size="10.6" fill="#000" text-anchor="start" font-weight="bold" stroke="#000" stroke-width="0.28" >B</text>
<text x="12.10" y="154.70" font-size="8.9" fill="#1a1a1a" text-anchor="start" stroke="#1a1a1a" stroke-width="0.28" >SUDHL-1/ALKi 26939/24 hrs</text>
<text x="264.30" y="155.00" font-size="8.9" fill="#1a1a1a" text-anchor="start" stroke="#1a1a1a" stroke-width="0.28" >/48 hrs</text>
<rect x="10.30" y="156.80" width="76.10" height="62.80" fill="#fff" stroke="#7c7c7c" stroke-width="1.0" />
<polyline points="10.90,219.00 11.40,219.00 11.90,219.00 12.40,218.88 12.90,218.98 13.40,218.87 13.90,218.68 14.40,218.65 14.90,218.72 15.40,218.93 15.90,218.99 16.40,218.99 16.90,218.85 17.40,218.76 17.90,218.98 18.40,219.00 18.90,218.60 19.40,219.00 19.90,218.69 20.40,218.51 20.90,218.87 21.40,218.89 21.90,218.78 22.40,218.36 22.90,218.56 23.40,219.00 23.90,218.52 24.40,217.98 24.90,217.86 25.40,217.85 25.90,218.03 26.40,218.48 26.90,217.65 27.40,217.67 27.90,217.46 28.40,216.76 28.90,217.18 29.40,217.02 29.90,216.73 30.40,216.88 30.90,216.81 31.40,216.59 31.90,215.59 32.40,215.43 32.90,215.68 33.40,214.52 33.90,214.77 34.40,215.37 34.90,213.95 35.40,214.01 35.90,214.18 36.40,212.25 36.90,212.07 37.40,211.34 37.90,209.81 38.40,211.26 38.90,209.78 39.40,208.30 39.90,206.90 40.40,206.89 40.90,206.35 41.40,205.55 41.90,203.74 42.40,202.03 42.90,203.39 43.40,203.23 43.90,200.41 44.40,199.70 44.90,199.63 45.40,197.25 45.90,196.44 46.40,197.51 46.90,196.68 47.40,194.99 47.90,195.71 48.40,196.51 48.90,194.46 49.40,195.18 49.90,193.25 50.40,193.97 50.90,193.22 51.40,191.95 51.90,192.57 52.40,193.22 52.90,193.82 53.40,190.40 53.90,191.37 54.40,194.94 54.90,194.51 55.40,192.55 55.90,194.28 56.40,193.79 56.90,193.11 57.40,194.34 57.90,195.02 58.40,195.81 58.90,195.70 59.40,195.62 59.90,194.77 60.40,196.55 60.90,199.03 61.40,198.77 61.90,200.67 62.40,203.38 62.90,202.91 63.40,202.80 63.90,205.38 64.40,204.92 64.90,207.07 65.40,207.73 65.90,209.65 66.40,207.82 66.90,209.98 67.40,210.42 67.90,212.31 68.40,213.77 68.90,212.75 69.40,214.62 69.90,213.94 70.40,215.62 70.90,215.41 71.40,217.06 71.90,217.83 72.40,217.04 72.90,217.52 73.40,217.68 73.90,217.48 74.40,218.33 74.90,218.62 75.40,218.73 75.90,219.00 76.40,219.00 76.90,218.98 77.40,218.92 77.90,218.80 78.40,219.00 78.90,218.76 79.40,218.55 79.90,218.82 80.40,218.68 80.90,219.00 81.40,218.76 81.90,218.74 82.40,219.00 82.90,219.00 83.40,218.97 83.90,218.95 84.40,218.64 84.90,219.00 85.40,218.64" fill="none" stroke="#6ee03a" stroke-width="1.8" stroke-opacity="1.0" stroke-linejoin="round"/>
<polyline points="10.90,219.00 11.40,218.78 11.90,218.74 12.40,218.92 12.90,218.90 13.40,219.00 13.90,219.00 14.40,219.00 14.90,219.00 15.40,218.76 15.90,218.93 16.40,218.89 16.90,219.00 17.40,219.00 17.90,219.00 18.40,219.00 18.90,218.77 19.40,218.87 19.90,218.95 20.40,218.90 20.90,219.00 21.40,218.61 21.90,219.00 22.40,218.82 22.90,218.41 23.40,219.00 23.90,219.00 24.40,218.75 24.90,218.37 25.40,218.58 25.90,218.00 26.40,217.73 26.90,217.45 27.40,217.95 27.90,216.71 28.40,215.81 28.90,215.48 29.40,215.19 29.90,214.41 30.40,214.60 30.90,212.42 31.40,211.14 31.90,210.81 32.40,212.04 32.90,209.89 33.40,208.95 33.90,208.38 34.40,206.52 34.90,207.35 35.40,205.69 35.90,203.78 36.40,202.48 36.90,202.07 37.40,200.39 37.90,199.79 38.40,200.06 38.90,197.13 39.40,197.63 39.90,197.61 40.40,194.81 40.90,192.56 41.40,192.32 41.90,191.27 42.40,191.03 42.90,192.72 43.40,188.98 43.90,188.95 44.40,191.23 44.90,188.76 45.40,188.52 45.90,186.29 46.40,187.37 46.90,187.61 47.40,188.16 47.90,190.22 48.40,191.35 48.90,189.98 49.40,191.13 49.90,191.82 50.40,192.95 50.90,194.25 51.40,194.30 51.90,195.63 52.40,197.33 52.90,199.39 53.40,200.92 53.90,200.95 54.40,200.91 54.90,201.06 55.40,202.93 55.90,202.95 56.40,203.42 56.90,203.41 57.40,205.65 57.90,205.67 58.40,207.29 58.90,208.99 59.40,210.37 59.90,209.64 60.40,210.05 60.90,209.94 61.40,212.26 61.90,212.38 62.40,213.35 62.90,215.02 63.40,214.51 63.90,215.41 64.40,216.27 64.90,215.66 65.40,216.85 65.90,216.93 66.40,217.55 66.90,218.07 67.40,218.33 67.90,218.45 68.40,218.90 68.90,219.00 69.40,218.48 69.90,218.74 70.40,219.00 70.90,218.85 71.40,219.00 71.90,218.86 72.40,218.69 72.90,219.00 73.40,218.70 73.90,218.72 74.40,218.92 74.90,218.86 75.40,218.94 75.90,218.97 76.40,219.00 76.90,218.60 77.40,219.00 77.90,218.89 78.40,218.96 78.90,218.84 79.40,218.83 79.90,219.00 80.40,218.87 80.90,218.99 81.40,219.00 81.90,218.73 82.40,218.75 82.90,219.00 83.40,219.00 83.90,219.00 84.40,219.00 84.90,219.00 85.40,218.90" fill="none" stroke="#b0a0de" stroke-width="1.0" stroke-opacity="1.0" stroke-linejoin="round"/>
<polyline points="10.90,219.00 11.40,218.78 11.90,218.74 12.40,218.92 12.90,218.90 13.40,219.00 13.90,219.00 14.40,219.00 14.90,219.00 15.40,218.76 15.90,218.93 16.40,218.89 16.90,219.00 17.40,219.00 17.90,219.00 18.40,219.00 18.90,218.77 19.40,218.87 19.90,218.95 20.40,218.90 20.90,219.00 21.40,218.61 21.90,219.00 22.40,218.82 22.90,218.41 23.40,219.00 23.90,219.00 24.40,218.75 24.90,218.37 25.40,218.58 25.90,218.00 26.40,217.73 26.90,217.45 27.40,217.95 27.90,216.71 28.40,215.81 28.90,215.48 29.40,215.19 29.90,214.41 30.40,214.60 30.90,212.42 31.40,211.14 31.90,210.81 32.40,212.04 32.90,209.89 33.40,208.95 33.90,208.38 34.40,206.52 34.90,207.35 35.40,205.69 35.90,203.78 36.40,202.48 36.90,202.07 37.40,200.39 37.90,199.79 38.40,200.06 38.90,197.13 39.40,197.63 39.90,197.61 40.40,194.81 40.90,192.56 41.40,192.32 41.90,191.27 42.40,191.03 42.90,192.72 43.40,188.98 43.90,188.95 44.40,191.23 44.90,188.76 45.40,188.52 45.90,186.29 46.40,187.37 46.90,187.61 47.40,188.16 47.90,190.22 48.40,191.35 48.90,189.98 49.40,191.13 49.90,191.82 50.40,192.95 50.90,194.25 51.40,194.30 51.90,195.63 52.40,197.33 52.90,199.39 53.40,200.92 53.90,200.95 54.40,200.91 54.90,201.06 55.40,202.93 55.90,202.95 56.40,203.42 56.90,203.41 57.40,205.65 57.90,205.67 58.40,207.29 58.90,208.99 59.40,210.37 59.90,209.64 60.40,210.05 60.90,209.94 61.40,212.26 61.90,212.38 62.40,213.35 62.90,215.02 63.40,214.51 63.90,215.41 64.40,216.27 64.90,215.66 65.40,216.85 65.90,216.93 66.40,217.55 66.90,218.07 67.40,218.33 67.90,218.45 68.40,218.90 68.90,219.00 69.40,218.48 69.90,218.74 70.40,219.00 70.90,218.85 71.40,219.00 71.90,218.86 72.40,218.69 72.90,219.00 73.40,218.70 73.90,218.72 74.40,218.92 74.90,218.86 75.40,218.94 75.90,218.97 76.40,219.00 76.90,218.60 77.40,219.00 77.90,218.89 78.40,218.96 78.90,218.84 79.40,218.83 79.90,219.00 80.40,218.87 80.90,218.99 81.40,219.00 81.90,218.73 82.40,218.75 82.90,219.00 83.40,219.00 83.90,219.00 84.40,219.00 84.90,219.00 85.40,218.90" fill="none" stroke="#5e5080" stroke-width="0.7" stroke-opacity="0.55" stroke-dasharray="1.3 1.5"/>
<polyline points="10.90,218.82 11.40,218.86 11.90,218.99 12.40,218.85 12.90,218.80 13.40,218.45 13.90,218.77 14.40,218.43 14.90,218.44 15.40,217.91 15.90,217.25 16.40,216.19 16.90,215.14 17.40,214.14 17.90,212.57 18.40,210.47 18.90,207.52 19.40,204.47 19.90,202.26 20.40,199.46 20.90,196.30 21.40,194.12 21.90,190.10 22.40,187.29 22.90,184.25 23.40,181.45 23.90,177.50 24.40,173.83 24.90,171.23 25.40,168.78 25.90,167.42 26.40,168.01 26.90,170.54 27.40,172.56 27.90,175.49 28.40,177.56 28.90,178.93 29.40,181.80 29.90,182.77 30.40,186.04 30.90,188.27 31.40,189.96 31.90,191.90 32.40,193.86 32.90,195.84 33.40,198.04 33.90,199.48 34.40,201.73 34.90,203.24 35.40,204.90 35.90,206.39 36.40,207.77 36.90,209.29 37.40,209.97 37.90,210.85 38.40,211.95 38.90,212.07 39.40,213.46 39.90,214.60 40.40,215.47 40.90,216.13 41.40,217.03 41.90,217.04 42.40,217.51 42.90,217.50 43.40,217.95 43.90,217.93 44.40,218.02 44.90,218.29 45.40,218.76 45.90,218.70 46.40,218.82 46.90,218.67 47.40,218.76 47.90,218.60 48.40,218.79 48.90,218.93 49.40,218.91 49.90,218.68 50.40,218.93 50.90,218.80 51.40,218.59 51.90,218.83 52.40,218.92 52.90,218.74 53.40,218.79 53.90,218.96 54.40,218.75 54.90,218.82 55.40,218.77 55.90,218.92 56.40,218.72 56.90,218.91 57.40,218.72 57.90,218.98 58.40,218.82 58.90,218.82 59.40,219.00 59.90,219.00 60.40,218.94 60.90,218.96 61.40,218.94 61.90,218.89 62.40,218.64 62.90,218.86 63.40,218.71 63.90,218.85 64.40,218.77 64.90,218.83 65.40,218.89 65.90,218.84 66.40,218.66 66.90,219.00 67.40,218.88 67.90,218.84 68.40,219.00 68.90,218.85 69.40,218.89 69.90,218.78 70.40,218.85 70.90,218.92 71.40,218.89 71.90,219.00 72.40,218.71 72.90,218.91 73.40,219.00 73.90,219.00 74.40,218.96 74.90,219.00 75.40,218.93 75.90,219.00 76.40,218.90 76.90,219.00 77.40,218.97 77.90,219.00 78.40,219.00 78.90,218.98 79.40,219.00 79.90,219.00 80.40,219.00 80.90,219.00 81.40,218.87 81.90,219.00 82.40,218.81 82.90,218.89 83.40,218.94 83.90,219.00 84.40,219.00 84.90,218.83 85.40,218.79" fill="none" stroke="#c85a6c" stroke-width="1.0" stroke-opacity="1.0" stroke-linejoin="round"/>
<polyline points="10.90,218.82 11.40,218.86 11.90,218.99 12.40,218.85 12.90,218.80 13.40,218.45 13.90,218.77 14.40,218.43 14.90,218.44 15.40,217.91 15.90,217.25 16.40,216.19 16.90,215.14 17.40,214.14 17.90,212.57 18.40,210.47 18.90,207.52 19.40,204.47 19.90,202.26 20.40,199.46 20.90,196.30 21.40,194.12 21.90,190.10 22.40,187.29 22.90,184.25 23.40,181.45 23.90,177.50 24.40,173.83 24.90,171.23 25.40,168.78 25.90,167.42 26.40,168.01 26.90,170.54 27.40,172.56 27.90,175.49 28.40,177.56 28.90,178.93 29.40,181.80 29.90,182.77 30.40,186.04 30.90,188.27 31.40,189.96 31.90,191.90 32.40,193.86 32.90,195.84 33.40,198.04 33.90,199.48 34.40,201.73 34.90,203.24 35.40,204.90 35.90,206.39 36.40,207.77 36.90,209.29 37.40,209.97 37.90,210.85 38.40,211.95 38.90,212.07 39.40,213.46 39.90,214.60 40.40,215.47 40.90,216.13 41.40,217.03 41.90,217.04 42.40,217.51 42.90,217.50 43.40,217.95 43.90,217.93 44.40,218.02 44.90,218.29 45.40,218.76 45.90,218.70 46.40,218.82 46.90,218.67 47.40,218.76 47.90,218.60 48.40,218.79 48.90,218.93 49.40,218.91 49.90,218.68 50.40,218.93 50.90,218.80 51.40,218.59 51.90,218.83 52.40,218.92 52.90,218.74 53.40,218.79 53.90,218.96 54.40,218.75 54.90,218.82 55.40,218.77 55.90,218.92 56.40,218.72 56.90,218.91 57.40,218.72 57.90,218.98 58.40,218.82 58.90,218.82 59.40,219.00 59.90,219.00 60.40,218.94 60.90,218.96 61.40,218.94 61.90,218.89 62.40,218.64 62.90,218.86 63.40,218.71 63.90,218.85 64.40,218.77 64.90,218.83 65.40,218.89 65.90,218.84 66.40,218.66 66.90,219.00 67.40,218.88 67.90,218.84 68.40,219.00 68.90,218.85 69.40,218.89 69.90,218.78 70.40,218.85 70.90,218.92 71.40,218.89 71.90,219.00 72.40,218.71 72.90,218.91 73.40,219.00 73.90,219.00 74.40,218.96 74.90,219.00 75.40,218.93 75.90,219.00 76.40,218.90 76.90,219.00 77.40,218.97 77.90,219.00 78.40,219.00 78.90,218.98 79.40,219.00 79.90,219.00 80.40,219.00 80.90,219.00 81.40,218.87 81.90,219.00 82.40,218.81 82.90,218.89 83.40,218.94 83.90,219.00 84.40,219.00 84.90,218.83 85.40,218.79" fill="none" stroke="#5a2a34" stroke-width="0.7" stroke-opacity="0.65" stroke-dasharray="1.3 1.5"/>
<line x1="11.20" y1="159.80" x2="11.20" y2="219.60" stroke="#808080" stroke-width="0.6" stroke-dasharray="0.5 1.1"/>
<line x1="10.30" y1="218.70" x2="86.40" y2="218.70" stroke="#777" stroke-width="0.6" stroke-dasharray="0.5 1.3"/>
<rect x="5.70" y="160.30" width="1.50" height="2.40" fill="#959595" stroke="none" stroke-width="1.0" />
<rect x="5.70" y="169.90" width="1.50" height="2.40" fill="#959595" stroke="none" stroke-width="1.0" />
<rect x="5.70" y="179.50" width="1.50" height="2.40" fill="#959595" stroke="none" stroke-width="1.0" />
<rect x="5.70" y="189.10" width="1.50" height="2.40" fill="#959595" stroke="none" stroke-width="1.0" />
<rect x="5.70" y="198.70" width="1.50" height="2.40" fill="#959595" stroke="none" stroke-width="1.0" />
<rect x="5.70" y="208.30" width="1.50" height="2.40" fill="#959595" stroke="none" stroke-width="1.0" />
<rect x="5.70" y="217.90" width="1.50" height="2.40" fill="#959595" stroke="none" stroke-width="1.0" />
<text x="4.70" y="193.20" font-size="3.2" fill="#8a8a8a" transform="rotate(-90 4.70 193.20)">Counts</text>
<line x1="9.90" y1="223.40" x2="11.50" y2="222.20" stroke="#8c8c8c" stroke-width="1.1" />
<rect x="11.30" y="221.20" width="0.90" height="0.90" fill="#a0a0a0" stroke="none" stroke-width="1.0" />
<line x1="38.90" y1="223.40" x2="40.50" y2="222.20" stroke="#8c8c8c" stroke-width="1.1" />
<rect x="40.30" y="221.20" width="0.90" height="0.90" fill="#a0a0a0" stroke="none" stroke-width="1.0" />
<line x1="67.90" y1="223.40" x2="69.50" y2="222.20" stroke="#8c8c8c" stroke-width="1.1" />
<rect x="69.30" y="221.20" width="0.90" height="0.90" fill="#a0a0a0" stroke="none" stroke-width="1.0" />
<text x="68.90" y="227.60" font-size="2.8" fill="#8a8a8a" text-anchor="middle">ALexa</text>
<text x="77.20" y="168.30" font-size="8.8" fill="#1a1a1a" text-anchor="end" stroke="#1a1a1a" stroke-width="0.28" >100 nM</text>
<text x="63.40" y="177.80" font-size="8.8" fill="#1a1a1a" text-anchor="middle" stroke="#1a1a1a" stroke-width="0.28" >(42)</text>
<rect x="95.60" y="156.80" width="73.40" height="62.80" fill="#fff" stroke="#7c7c7c" stroke-width="1.0" />
<polyline points="96.20,218.99 96.70,218.67 97.20,218.68 97.70,219.00 98.20,219.00 98.70,219.00 99.20,218.76 99.70,218.89 100.20,218.68 100.70,219.00 101.20,218.44 101.70,218.84 102.20,218.62 102.70,218.81 103.20,218.86 103.70,218.63 104.20,218.51 104.70,218.77 105.20,218.74 105.70,218.50 106.20,218.90 106.70,219.00 107.20,218.52 107.70,218.78 108.20,219.00 108.70,218.68 109.20,218.48 109.70,218.60 110.20,218.60 110.70,217.99 111.20,217.58 111.70,217.87 112.20,217.94 112.70,217.38 113.20,217.01 113.70,217.10 114.20,216.35 114.70,215.73 115.20,215.95 115.70,215.90 116.20,214.91 116.70,214.58 117.20,213.70 117.70,214.76 118.20,214.01 118.70,213.74 119.20,213.91 119.70,212.15 120.20,211.32 120.70,211.71 121.20,209.56 121.70,209.43 122.20,209.03 122.70,208.66 123.20,207.64 123.70,209.07 124.20,206.82 124.70,206.25 125.20,207.83 125.70,205.17 126.20,205.04 126.70,203.31 127.20,203.83 127.70,202.69 128.20,201.60 128.70,202.21 129.20,199.89 129.70,199.96 130.20,198.57 130.70,199.08 131.20,196.60 131.70,196.68 132.20,197.18 132.70,195.77 133.20,194.56 133.70,193.46 134.20,197.22 134.70,193.71 135.20,193.80 135.70,194.08 136.20,194.83 136.70,191.46 137.20,194.36 137.70,191.70 138.20,190.78 138.70,194.83 139.20,193.40 139.70,194.98 140.20,193.25 140.70,191.92 141.20,191.67 141.70,196.95 142.20,195.92 142.70,194.83 143.20,194.26 143.70,196.20 144.20,198.16 144.70,197.62 145.20,198.84 145.70,199.98 146.20,201.50 146.70,201.21 147.20,202.24 147.70,203.60 148.20,204.68 148.70,206.68 149.20,206.95 149.70,206.51 150.20,208.80 150.70,210.87 151.20,209.77 151.70,211.40 152.20,211.21 152.70,213.26 153.20,214.18 153.70,215.32 154.20,214.33 154.70,214.32 155.20,216.61 155.70,217.08 156.20,217.15 156.70,218.23 157.20,218.46 157.70,218.67 158.20,218.58 158.70,218.36 159.20,218.66 159.70,218.44 160.20,218.82 160.70,218.64 161.20,219.00 161.70,219.00 162.20,218.57 162.70,218.94 163.20,218.67 163.70,218.70 164.20,218.52 164.70,218.67 165.20,218.64 165.70,218.93 166.20,219.00 166.70,219.00 167.20,219.00 167.70,219.00 168.20,219.00" fill="none" stroke="#6ee03a" stroke-width="1.8" stroke-opacity="1.0" stroke-linejoin="round"/>
<polyline points="96.20,218.94 96.70,218.73 97.20,219.00 97.70,218.68 98.20,218.98 98.70,219.00 99.20,219.00 99.70,219.00 100.20,218.98 100.70,218.79 101.20,218.82 101.70,218.81 102.20,219.00 102.70,219.00 103.20,218.62 103.70,218.71 104.20,218.49 104.70,218.66 105.20,219.00 105.70,218.63 106.20,218.74 106.70,218.81 107.20,218.99 107.70,218.83 108.20,218.85 108.70,218.65 109.20,218.78 109.70,218.44 110.20,218.74 110.70,218.17 111.20,217.80 111.70,217.79 112.20,217.53 112.70,216.51 113.20,216.29 113.70,216.13 114.20,215.52 114.70,215.36 115.20,214.29 115.70,213.88 116.20,212.74 116.70,211.57 117.20,211.43 117.70,209.99 118.20,210.13 118.70,208.76 119.20,208.42 119.70,206.66 120.20,205.55 120.70,204.73 121.20,203.77 121.70,201.49 122.20,199.93 122.70,200.12 123.20,196.24 123.70,196.67 124.20,193.85 124.70,191.36 125.20,189.10 125.70,188.27 126.20,186.34 126.70,184.79 127.20,185.82 127.70,186.44 128.20,185.87 128.70,186.30 129.20,187.89 129.70,188.42 130.20,189.07 130.70,190.13 131.20,190.96 131.70,192.36 132.20,191.82 132.70,193.47 133.20,194.52 133.70,195.23 134.20,195.96 134.70,196.24 135.20,198.62 135.70,199.71 136.20,200.25 136.70,202.02 137.20,201.49 137.70,202.75 138.20,203.89 138.70,205.31 139.20,205.53 139.70,206.08 140.20,207.15 140.70,208.34 141.20,209.86 141.70,209.10 142.20,210.53 142.70,211.47 143.20,211.21 143.70,212.03 144.20,213.36 144.70,213.24 145.20,213.82 145.70,213.79 146.20,215.45 146.70,215.34 147.20,215.72 147.70,215.60 148.20,216.78 148.70,217.66 149.20,217.47 149.70,217.30 150.20,217.47 150.70,217.57 151.20,218.21 151.70,218.73 152.20,218.57 152.70,218.80 153.20,218.85 153.70,218.82 154.20,218.59 154.70,219.00 155.20,219.00 155.70,218.86 156.20,218.86 156.70,219.00 157.20,219.00 157.70,218.80 158.20,218.63 158.70,218.75 159.20,218.76 159.70,218.67 160.20,219.00 160.70,219.00 161.20,219.00 161.70,219.00 162.20,219.00 162.70,218.92 163.20,219.00 163.70,219.00 164.20,219.00 164.70,219.00 165.20,218.72 165.70,219.00 166.20,218.92 166.70,218.86 167.20,219.00 167.70,218.89 168.20,218.96" fill="none" stroke="#b0a0de" stroke-width="1.0" stroke-opacity="1.0" stroke-linejoin="round"/>
<polyline points="96.20,218.94 96.70,218.73 97.20,219.00 97.70,218.68 98.20,218.98 98.70,219.00 99.20,219.00 99.70,219.00 100.20,218.98 100.70,218.79 101.20,218.82 101.70,218.81 102.20,219.00 102.70,219.00 103.20,218.62 103.70,218.71 104.20,218.49 104.70,218.66 105.20,219.00 105.70,218.63 106.20,218.74 106.70,218.81 107.20,218.99 107.70,218.83 108.20,218.85 108.70,218.65 109.20,218.78 109.70,218.44 110.20,218.74 110.70,218.17 111.20,217.80 111.70,217.79 112.20,217.53 112.70,216.51 113.20,216.29 113.70,216.13 114.20,215.52 114.70,215.36 115.20,214.29 115.70,213.88 116.20,212.74 116.70,211.57 117.20,211.43 117.70,209.99 118.20,210.13 118.70,208.76 119.20,208.42 119.70,206.66 120.20,205.55 120.70,204.73 121.20,203.77 121.70,201.49 122.20,199.93 122.70,200.12 123.20,196.24 123.70,196.67 124.20,193.85 124.70,191.36 125.20,189.10 125.70,188.27 126.20,186.34 126.70,184.79 127.20,185.82 127.70,186.44 128.20,185.87 128.70,186.30 129.20,187.89 129.70,188.42 130.20,189.07 130.70,190.13 131.20,190.96 131.70,192.36 132.20,191.82 132.70,193.47 133.20,194.52 133.70,195.23 134.20,195.96 134.70,196.24 135.20,198.62 135.70,199.71 136.20,200.25 136.70,202.02 137.20,201.49 137.70,202.75 138.20,203.89 138.70,205.31 139.20,205.53 139.70,206.08 140.20,207.15 140.70,208.34 141.20,209.86 141.70,209.10 142.20,210.53 142.70,211.47 143.20,211.21 143.70,212.03 144.20,213.36 144.70,213.24 145.20,213.82 145.70,213.79 146.20,215.45 146.70,215.34 147.20,215.72 147.70,215.60 148.20,216.78 148.70,217.66 149.20,217.47 149.70,217.30 150.20,217.47 150.70,217.57 151.20,218.21 151.70,218.73 152.20,218.57 152.70,218.80 153.20,218.85 153.70,218.82 154.20,218.59 154.70,219.00 155.20,219.00 155.70,218.86 156.20,218.86 156.70,219.00 157.20,219.00 157.70,218.80 158.20,218.63 158.70,218.75 159.20,218.76 159.70,218.67 160.20,219.00 160.70,219.00 161.20,219.00 161.70,219.00 162.20,219.00 162.70,218.92 163.20,219.00 163.70,219.00 164.20,219.00 164.70,219.00 165.20,218.72 165.70,219.00 166.20,218.92 166.70,218.86 167.20,219.00 167.70,218.89 168.20,218.96" fill="none" stroke="#5e5080" stroke-width="0.7" stroke-opacity="0.55" stroke-dasharray="1.3 1.5"/>
<polyline points="96.20,219.00 96.70,218.91 97.20,218.81 97.70,218.92 98.20,218.67 98.70,218.66 99.20,218.54 99.70,218.50 100.20,218.09 100.70,217.67 101.20,216.30 101.70,215.38 102.20,214.69 102.70,213.17 103.20,211.37 103.70,209.48 104.20,206.01 104.70,203.57 105.20,200.62 105.70,197.88 106.20,194.83 106.70,191.48 107.20,188.27 107.70,185.89 108.20,182.05 108.70,179.40 109.20,176.14 109.70,172.37 110.20,168.57 110.70,166.74 111.20,167.71 111.70,169.33 112.20,171.25 112.70,172.58 113.20,174.03 113.70,176.46 114.20,178.08 114.70,180.46 115.20,182.25 115.70,186.49 116.20,189.01 116.70,190.59 117.20,192.72 117.70,195.67 118.20,197.81 118.70,200.76 119.20,202.74 119.70,204.08 120.20,204.92 120.70,206.32 121.20,208.07 121.70,209.09 122.20,210.45 122.70,211.27 123.20,212.47 123.70,213.13 124.20,214.18 124.70,214.87 125.20,215.63 125.70,216.09 126.20,216.27 126.70,216.68 127.20,216.95 127.70,217.35 128.20,217.52 128.70,218.05 129.20,218.17 129.70,218.40 130.20,218.76 130.70,218.60 131.20,218.58 131.70,218.76 132.20,218.96 132.70,218.99 133.20,218.84 133.70,218.62 134.20,218.76 134.70,218.74 135.20,218.85 135.70,218.91 136.20,218.79 136.70,218.96 137.20,218.86 137.70,218.78 138.20,218.84 138.70,218.79 139.20,218.90 139.70,218.79 140.20,218.81 140.70,219.00 141.20,218.97 141.70,218.94 142.20,218.79 142.70,218.83 143.20,218.84 143.70,218.85 144.20,218.81 144.70,218.77 145.20,218.94 145.70,219.00 146.20,218.81 146.70,218.91 147.20,218.88 147.70,218.91 148.20,219.00 148.70,219.00 149.20,218.80 149.70,218.79 150.20,218.81 150.70,218.89 151.20,218.88 151.70,218.96 152.20,218.91 152.70,218.96 153.20,218.98 153.70,218.90 154.20,218.75 154.70,219.00 155.20,218.87 155.70,218.86 156.20,219.00 156.70,218.91 157.20,218.93 157.70,218.99 158.20,219.00 158.70,219.00 159.20,218.77 159.70,218.71 160.20,218.79 160.70,218.99 161.20,218.93 161.70,218.93 162.20,219.00 162.70,219.00 163.20,218.92 163.70,219.00 164.20,219.00 164.70,219.00 165.20,218.96 165.70,219.00 166.20,219.00 166.70,218.85 167.20,218.98 167.70,219.00 168.20,219.00" fill="none" stroke="#c85a6c" stroke-width="1.0" stroke-opacity="1.0" stroke-linejoin="round"/>
<polyline points="96.20,219.00 96.70,218.91 97.20,218.81 97.70,218.92 98.20,218.67 98.70,218.66 99.20,218.54 99.70,218.50 100.20,218.09 100.70,217.67 101.20,216.30 101.70,215.38 102.20,214.69 102.70,213.17 103.20,211.37 103.70,209.48 104.20,206.01 104.70,203.57 105.20,200.62 105.70,197.88 106.20,194.83 106.70,191.48 107.20,188.27 107.70,185.89 108.20,182.05 108.70,179.40 109.20,176.14 109.70,172.37 110.20,168.57 110.70,166.74 111.20,167.71 111.70,169.33 112.20,171.25 112.70,172.58 113.20,174.03 113.70,176.46 114.20,178.08 114.70,180.46 115.20,182.25 115.70,186.49 116.20,189.01 116.70,190.59 117.20,192.72 117.70,195.67 118.20,197.81 118.70,200.76 119.20,202.74 119.70,204.08 120.20,204.92 120.70,206.32 121.20,208.07 121.70,209.09 122.20,210.45 122.70,211.27 123.20,212.47 123.70,213.13 124.20,214.18 124.70,214.87 125.20,215.63 125.70,216.09 126.20,216.27 126.70,216.68 127.20,216.95 127.70,217.35 128.20,217.52 128.70,218.05 129.20,218.17 129.70,218.40 130.20,218.76 130.70,218.60 131.20,218.58 131.70,218.76 132.20,218.96 132.70,218.99 133.20,218.84 133.70,218.62 134.20,218.76 134.70,218.74 135.20,218.85 135.70,218.91 136.20,218.79 136.70,218.96 137.20,218.86 137.70,218.78 138.20,218.84 138.70,218.79 139.20,218.90 139.70,218.79 140.20,218.81 140.70,219.00 141.20,218.97 141.70,218.94 142.20,218.79 142.70,218.83 143.20,218.84 143.70,218.85 144.20,218.81 144.70,218.77 145.20,218.94 145.70,219.00 146.20,218.81 146.70,218.91 147.20,218.88 147.70,218.91 148.20,219.00 148.70,219.00 149.20,218.80 149.70,218.79 150.20,218.81 150.70,218.89 151.20,218.88 151.70,218.96 152.20,218.91 152.70,218.96 153.20,218.98 153.70,218.90 154.20,218.75 154.70,219.00 155.20,218.87 155.70,218.86 156.20,219.00 156.70,218.91 157.20,218.93 157.70,218.99 158.20,219.00 158.70,219.00 159.20,218.77 159.70,218.71 160.20,218.79 160.70,218.99 161.20,218.93 161.70,218.93 162.20,219.00 162.70,219.00 163.20,218.92 163.70,219.00 164.20,219.00 164.70,219.00 165.20,218.96 165.70,219.00 166.20,219.00 166.70,218.85 167.20,218.98 167.70,219.00 168.20,219.00" fill="none" stroke="#5a2a34" stroke-width="0.7" stroke-opacity="0.65" stroke-dasharray="1.3 1.5"/>
<line x1="96.50" y1="159.80" x2="96.50" y2="219.60" stroke="#808080" stroke-width="0.6" stroke-dasharray="0.5 1.1"/>
<line x1="95.60" y1="218.70" x2="169.00" y2="218.70" stroke="#777" stroke-width="0.6" stroke-dasharray="0.5 1.3"/>
<rect x="91.00" y="160.30" width="1.50" height="2.40" fill="#959595" stroke="none" stroke-width="1.0" />
<rect x="91.00" y="169.90" width="1.50" height="2.40" fill="#959595" stroke="none" stroke-width="1.0" />
<rect x="91.00" y="179.50" width="1.50" height="2.40" fill="#959595" stroke="none" stroke-width="1.0" />
<rect x="91.00" y="189.10" width="1.50" height="2.40" fill="#959595" stroke="none" stroke-width="1.0" />
<rect x="91.00" y="198.70" width="1.50" height="2.40" fill="#959595" stroke="none" stroke-width="1.0" />
<rect x="91.00" y="208.30" width="1.50" height="2.40" fill="#959595" stroke="none" stroke-width="1.0" />
<rect x="91.00" y="217.90" width="1.50" height="2.40" fill="#959595" stroke="none" stroke-width="1.0" />
<text x="90.00" y="193.20" font-size="3.2" fill="#8a8a8a" transform="rotate(-90 90.00 193.20)">Counts</text>
<line x1="95.20" y1="223.40" x2="96.80" y2="222.20" stroke="#8c8c8c" stroke-width="1.1" />
<rect x="96.60" y="221.20" width="0.90" height="0.90" fill="#a0a0a0" stroke="none" stroke-width="1.0" />
<line x1="124.20" y1="223.40" x2="125.80" y2="222.20" stroke="#8c8c8c" stroke-width="1.1" />
<rect x="125.60" y="221.20" width="0.90" height="0.90" fill="#a0a0a0" stroke="none" stroke-width="1.0" />
<line x1="153.20" y1="223.40" x2="154.80" y2="222.20" stroke="#8c8c8c" stroke-width="1.1" />
<rect x="154.60" y="221.20" width="0.90" height="0.90" fill="#a0a0a0" stroke="none" stroke-width="1.0" />
<text x="154.20" y="227.60" font-size="2.8" fill="#8a8a8a" text-anchor="middle">ALexa</text>
<text x="162.60" y="168.30" font-size="8.8" fill="#1a1a1a" text-anchor="end" stroke="#1a1a1a" stroke-width="0.28" >200 nM</text>
<text x="147.40" y="177.80" font-size="8.8" fill="#1a1a1a" text-anchor="middle" stroke="#1a1a1a" stroke-width="0.28" >(52)</text>
<rect x="179.60" y="156.80" width="72.00" height="62.80" fill="#fff" stroke="#7c7c7c" stroke-width="1.0" />
<polyline points="180.20,219.00 180.70,218.74 181.20,218.80 181.70,218.78 182.20,218.55 182.70,219.00 183.20,219.00 183.70,219.00 184.20,218.89 184.70,218.60 185.20,218.84 185.70,218.69 186.20,219.00 186.70,218.74 187.20,218.99 187.70,218.29 188.20,218.50 188.70,218.46 189.20,218.71 189.70,218.52 190.20,218.49 190.70,218.74 191.20,218.76 191.70,218.63 192.20,218.71 192.70,218.63 193.20,218.44 193.70,218.49 194.20,217.92 194.70,218.58 195.20,217.68 195.70,218.08 196.20,217.95 196.70,218.15 197.20,217.58 197.70,217.42 198.20,216.97 198.70,216.97 199.20,216.38 199.70,215.23 200.20,215.58 200.70,215.76 201.20,214.64 201.70,214.90 202.20,214.17 202.70,213.79 203.20,213.94 203.70,214.38 204.20,212.79 204.70,211.58 205.20,211.63 205.70,210.43 206.20,209.41 206.70,209.99 207.20,207.96 207.70,207.00 208.20,206.80 208.70,206.04 209.20,205.41 209.70,203.65 210.20,204.89 210.70,204.40 211.20,203.14 211.70,203.98 212.20,204.00 212.70,202.66 213.20,200.67 213.70,199.87 214.20,201.38 214.70,201.07 215.20,198.56 215.70,197.67 216.20,196.76 216.70,195.14 217.20,193.70 217.70,194.21 218.20,193.11 218.70,194.74 219.20,194.39 219.70,192.12 220.20,191.09 220.70,190.56 221.20,190.38 221.70,190.05 222.20,190.26 222.70,193.98 223.20,193.04 223.70,191.89 224.20,192.11 224.70,195.20 225.20,192.25 225.70,194.75 226.20,194.99 226.70,194.87 227.20,194.79 227.70,197.91 228.20,195.53 228.70,197.16 229.20,198.78 229.70,198.96 230.20,201.88 230.70,200.97 231.20,200.88 231.70,202.63 232.20,203.04 232.70,203.69 233.20,204.39 233.70,204.45 234.20,206.42 234.70,207.63 235.20,207.95 235.70,207.75 236.20,210.64 236.70,210.94 237.20,213.25 237.70,212.16 238.20,213.47 238.70,213.97 239.20,215.59 239.70,216.88 240.20,216.88 240.70,217.71 241.20,218.69 241.70,219.00 242.20,218.53 242.70,218.71 243.20,218.00 243.70,218.87 244.20,218.86 244.70,218.78 245.20,219.00 245.70,219.00 246.20,218.40 246.70,218.86 247.20,219.00 247.70,219.00 248.20,218.75 248.70,218.75 249.20,218.87 249.70,219.00 250.20,218.90 250.70,218.89" fill="none" stroke="#6ee03a" stroke-width="1.8" stroke-opacity="1.0" stroke-linejoin="round"/>
<polyline points="180.20,219.00 180.70,219.00 181.20,219.00 181.70,219.00 182.20,218.71 182.70,219.00 183.20,218.78 183.70,218.72 184.20,219.00 184.70,219.00 185.20,218.83 185.70,218.69 186.20,218.51 186.70,218.73 187.20,218.59 187.70,218.96 188.20,219.00 188.70,219.00 189.20,219.00 189.70,218.91 190.20,218.79 190.70,219.00 191.20,218.66 191.70,218.79 192.20,218.79 192.70,218.64 193.20,217.80 193.70,217.99 194.20,218.04 194.70,217.84 195.20,216.83 195.70,217.22 196.20,216.19 196.70,215.40 197.20,216.02 197.70,213.80 198.20,213.67 198.70,213.30 199.20,212.29 199.70,210.95 200.20,210.20 200.70,209.18 201.20,208.71 201.70,206.27 202.20,204.87 202.70,203.38 203.20,202.69 203.70,200.79 204.20,199.37 204.70,199.13 205.20,197.57 205.70,196.26 206.20,194.68 206.70,192.79 207.20,193.53 207.70,190.69 208.20,188.34 208.70,189.38 209.20,187.50 209.70,183.96 210.20,187.02 210.70,187.16 211.20,187.13 211.70,188.72 212.20,189.81 212.70,190.17 213.20,190.79 213.70,191.65 214.20,191.74 214.70,191.34 215.20,193.38 215.70,193.20 216.20,194.90 216.70,195.77 217.20,196.99 217.70,198.76 218.20,199.27 218.70,200.45 219.20,202.58 219.70,202.26 220.20,203.31 220.70,204.25 221.20,205.60 221.70,207.66 222.20,205.75 222.70,207.44 223.20,209.42 223.70,208.47 224.20,209.94 224.70,209.85 225.20,210.91 225.70,210.89 226.20,211.96 226.70,212.56 227.20,213.23 227.70,213.39 228.20,215.04 228.70,214.64 229.20,215.32 229.70,216.15 230.20,216.29 230.70,216.76 231.20,216.93 231.70,217.01 232.20,217.79 232.70,217.76 233.20,218.05 233.70,218.42 234.20,218.43 234.70,218.81 235.20,218.68 235.70,218.35 236.20,218.82 236.70,218.86 237.20,218.84 237.70,218.73 238.20,218.96 238.70,218.90 239.20,219.00 239.70,219.00 240.20,219.00 240.70,219.00 241.20,218.97 241.70,218.76 242.20,218.97 242.70,219.00 243.20,218.86 243.70,218.88 244.20,219.00 244.70,218.90 245.20,219.00 245.70,219.00 246.20,219.00 246.70,218.80 247.20,219.00 247.70,219.00 248.20,218.94 248.70,218.79 249.20,218.77 249.70,219.00 250.20,218.78 250.70,218.94" fill="none" stroke="#b0a0de" stroke-width="1.0" stroke-opacity="1.0" stroke-linejoin="round"/>
<polyline points="180.20,219.00 180.70,219.00 181.20,219.00 181.70,219.00 182.20,218.71 182.70,219.00 183.20,218.78 183.70,218.72 184.20,219.00 184.70,219.00 185.20,218.83 185.70,218.69 186.20,218.51 186.70,218.73 187.20,218.59 187.70,218.96 188.20,219.00 188.70,219.00 189.20,219.00 189.70,218.91 190.20,218.79 190.70,219.00 191.20,218.66 191.70,218.79 192.20,218.79 192.70,218.64 193.20,217.80 193.70,217.99 194.20,218.04 194.70,217.84 195.20,216.83 195.70,217.22 196.20,216.19 196.70,215.40 197.20,216.02 197.70,213.80 198.20,213.67 198.70,213.30 199.20,212.29 199.70,210.95 200.20,210.20 200.70,209.18 201.20,208.71 201.70,206.27 202.20,204.87 202.70,203.38 203.20,202.69 203.70,200.79 204.20,199.37 204.70,199.13 205.20,197.57 205.70,196.26 206.20,194.68 206.70,192.79 207.20,193.53 207.70,190.69 208.20,188.34 208.70,189.38 209.20,187.50 209.70,183.96 210.20,187.02 210.70,187.16 211.20,187.13 211.70,188.72 212.20,189.81 212.70,190.17 213.20,190.79 213.70,191.65 214.20,191.74 214.70,191.34 215.20,193.38 215.70,193.20 216.20,194.90 216.70,195.77 217.20,196.99 217.70,198.76 218.20,199.27 218.70,200.45 219.20,202.58 219.70,202.26 220.20,203.31 220.70,204.25 221.20,205.60 221.70,207.66 222.20,205.75 222.70,207.44 223.20,209.42 223.70,208.47 224.20,209.94 224.70,209.85 225.20,210.91 225.70,210.89 226.20,211.96 226.70,212.56 227.20,213.23 227.70,213.39 228.20,215.04 228.70,214.64 229.20,215.32 229.70,216.15 230.20,216.29 230.70,216.76 231.20,216.93 231.70,217.01 232.20,217.79 232.70,217.76 233.20,218.05 233.70,218.42 234.20,218.43 234.70,218.81 235.20,218.68 235.70,218.35 236.20,218.82 236.70,218.86 237.20,218.84 237.70,218.73 238.20,218.96 238.70,218.90 239.20,219.00 239.70,219.00 240.20,219.00 240.70,219.00 241.20,218.97 241.70,218.76 242.20,218.97 242.70,219.00 243.20,218.86 243.70,218.88 244.20,219.00 244.70,218.90 245.20,219.00 245.70,219.00 246.20,219.00 246.70,218.80 247.20,219.00 247.70,219.00 248.20,218.94 248.70,218.79 249.20,218.77 249.70,219.00 250.20,218.78 250.70,218.94" fill="none" stroke="#5e5080" stroke-width="0.7" stroke-opacity="0.55" stroke-dasharray="1.3 1.5"/>
<polyline points="180.20,218.88 180.70,218.85 181.20,218.87 181.70,218.73 182.20,218.81 182.70,218.88 183.20,218.39 183.70,218.33 184.20,218.14 184.70,217.13 185.20,216.01 185.70,214.75 186.20,213.41 186.70,212.31 187.20,210.62 187.70,207.85 188.20,205.27 188.70,202.30 189.20,199.79 189.70,197.17 190.20,193.21 190.70,190.94 191.20,187.74 191.70,185.09 192.20,182.01 192.70,178.69 193.20,174.72 193.70,170.98 194.20,168.56 194.70,168.08 195.20,166.78 195.70,169.54 196.20,171.25 196.70,173.96 197.20,175.67 197.70,177.09 198.20,180.31 198.70,181.80 199.20,183.27 199.70,184.36 200.20,187.45 200.70,190.24 201.20,192.45 201.70,193.66 202.20,196.61 202.70,198.60 203.20,199.84 203.70,202.43 204.20,204.20 204.70,205.85 205.20,206.69 205.70,208.21 206.20,210.21 206.70,211.66 207.20,212.42 207.70,213.09 208.20,214.30 208.70,215.62 209.20,216.22 209.70,216.79 210.20,217.26 210.70,217.45 211.20,217.68 211.70,217.95 212.20,218.17 212.70,218.45 213.20,218.62 213.70,218.85 214.20,218.71 214.70,218.75 215.20,218.80 215.70,218.76 216.20,218.81 216.70,218.90 217.20,218.80 217.70,218.86 218.20,218.85 218.70,219.00 219.20,218.89 219.70,218.79 220.20,218.88 220.70,218.93 221.20,219.00 221.70,218.92 222.20,218.69 222.70,218.92 223.20,218.74 223.70,218.91 224.20,218.74 224.70,218.92 225.20,218.82 225.70,218.80 226.20,218.80 226.70,218.97 227.20,218.91 227.70,218.97 228.20,218.89 228.70,218.92 229.20,218.91 229.70,218.82 230.20,219.00 230.70,218.98 231.20,218.96 231.70,218.92 232.20,218.99 232.70,218.85 233.20,219.00 233.70,218.72 234.20,218.90 234.70,218.79 235.20,219.00 235.70,218.95 236.20,218.91 236.70,218.73 237.20,218.91 237.70,218.77 238.20,219.00 238.70,218.77 239.20,219.00 239.70,219.00 240.20,219.00 240.70,218.92 241.20,218.97 241.70,218.92 242.20,218.96 242.70,218.90 243.20,218.78 243.70,218.98 244.20,218.93 244.70,219.00 245.20,219.00 245.70,219.00 246.20,218.81 246.70,219.00 247.20,218.73 247.70,218.92 248.20,218.93 248.70,218.88 249.20,218.98 249.70,218.98 250.20,218.85 250.70,219.00" fill="none" stroke="#c85a6c" stroke-width="1.0" stroke-opacity="1.0" stroke-linejoin="round"/>
<polyline points="180.20,218.88 180.70,218.85 181.20,218.87 181.70,218.73 182.20,218.81 182.70,218.88 183.20,218.39 183.70,218.33 184.20,218.14 184.70,217.13 185.20,216.01 185.70,214.75 186.20,213.41 186.70,212.31 187.20,210.62 187.70,207.85 188.20,205.27 188.70,202.30 189.20,199.79 189.70,197.17 190.20,193.21 190.70,190.94 191.20,187.74 191.70,185.09 192.20,182.01 192.70,178.69 193.20,174.72 193.70,170.98 194.20,168.56 194.70,168.08 195.20,166.78 195.70,169.54 196.20,171.25 196.70,173.96 197.20,175.67 197.70,177.09 198.20,180.31 198.70,181.80 199.20,183.27 199.70,184.36 200.20,187.45 200.70,190.24 201.20,192.45 201.70,193.66 202.20,196.61 202.70,198.60 203.20,199.84 203.70,202.43 204.20,204.20 204.70,205.85 205.20,206.69 205.70,208.21 206.20,210.21 206.70,211.66 207.20,212.42 207.70,213.09 208.20,214.30 208.70,215.62 209.20,216.22 209.70,216.79 210.20,217.26 210.70,217.45 211.20,217.68 211.70,217.95 212.20,218.17 212.70,218.45 213.20,218.62 213.70,218.85 214.20,218.71 214.70,218.75 215.20,218.80 215.70,218.76 216.20,218.81 216.70,218.90 217.20,218.80 217.70,218.86 218.20,218.85 218.70,219.00 219.20,218.89 219.70,218.79 220.20,218.88 220.70,218.93 221.20,219.00 221.70,218.92 222.20,218.69 222.70,218.92 223.20,218.74 223.70,218.91 224.20,218.74 224.70,218.92 225.20,218.82 225.70,218.80 226.20,218.80 226.70,218.97 227.20,218.91 227.70,218.97 228.20,218.89 228.70,218.92 229.20,218.91 229.70,218.82 230.20,219.00 230.70,218.98 231.20,218.96 231.70,218.92 232.20,218.99 232.70,218.85 233.20,219.00 233.70,218.72 234.20,218.90 234.70,218.79 235.20,219.00 235.70,218.95 236.20,218.91 236.70,218.73 237.20,218.91 237.70,218.77 238.20,219.00 238.70,218.77 239.20,219.00 239.70,219.00 240.20,219.00 240.70,218.92 241.20,218.97 241.70,218.92 242.20,218.96 242.70,218.90 243.20,218.78 243.70,218.98 244.20,218.93 244.70,219.00 245.20,219.00 245.70,219.00 246.20,218.81 246.70,219.00 247.20,218.73 247.70,218.92 248.20,218.93 248.70,218.88 249.20,218.98 249.70,218.98 250.20,218.85 250.70,219.00" fill="none" stroke="#5a2a34" stroke-width="0.7" stroke-opacity="0.65" stroke-dasharray="1.3 1.5"/>
<line x1="180.50" y1="159.80" x2="180.50" y2="219.60" stroke="#808080" stroke-width="0.6" stroke-dasharray="0.5 1.1"/>
<line x1="179.60" y1="218.70" x2="251.60" y2="218.70" stroke="#777" stroke-width="0.6" stroke-dasharray="0.5 1.3"/>
<rect x="175.00" y="160.30" width="1.50" height="2.40" fill="#959595" stroke="none" stroke-width="1.0" />
<rect x="175.00" y="169.90" width="1.50" height="2.40" fill="#959595" stroke="none" stroke-width="1.0" />
<rect x="175.00" y="179.50" width="1.50" height="2.40" fill="#959595" stroke="none" stroke-width="1.0" />
<rect x="175.00" y="189.10" width="1.50" height="2.40" fill="#959595" stroke="none" stroke-width="1.0" />
<rect x="175.00" y="198.70" width="1.50" height="2.40" fill="#959595" stroke="none" stroke-width="1.0" />
<rect x="175.00" y="208.30" width="1.50" height="2.40" fill="#959595" stroke="none" stroke-width="1.0" />
<rect x="175.00" y="217.90" width="1.50" height="2.40" fill="#959595" stroke="none" stroke-width="1.0" />
<text x="174.00" y="193.20" font-size="3.2" fill="#8a8a8a" transform="rotate(-90 174.00 193.20)">Counts</text>
<line x1="179.20" y1="223.40" x2="180.80" y2="222.20" stroke="#8c8c8c" stroke-width="1.1" />
<rect x="180.60" y="221.20" width="0.90" height="0.90" fill="#a0a0a0" stroke="none" stroke-width="1.0" />
<line x1="208.20" y1="223.40" x2="209.80" y2="222.20" stroke="#8c8c8c" stroke-width="1.1" />
<rect x="209.60" y="221.20" width="0.90" height="0.90" fill="#a0a0a0" stroke="none" stroke-width="1.0" />
<line x1="237.20" y1="223.40" x2="238.80" y2="222.20" stroke="#8c8c8c" stroke-width="1.1" />
<rect x="238.60" y="221.20" width="0.90" height="0.90" fill="#a0a0a0" stroke="none" stroke-width="1.0" />
<text x="238.20" y="227.60" font-size="2.8" fill="#8a8a8a" text-anchor="middle">ALexa</text>
<text x="244.20" y="168.30" font-size="8.8" fill="#1a1a1a" text-anchor="end" stroke="#1a1a1a" stroke-width="0.28" >300 nM</text>
<text x="227.30" y="177.80" font-size="8.8" fill="#1a1a1a" text-anchor="middle" stroke="#1a1a1a" stroke-width="0.28" >(85)</text>
<rect x="265.30" y="156.80" width="76.70" height="62.80" fill="#fff" stroke="#7c7c7c" stroke-width="1.0" />
<polyline points="265.90,218.58 266.40,219.00 266.90,218.76 267.40,218.95 267.90,218.65 268.40,218.85 268.90,218.50 269.40,218.91 269.90,219.00 270.40,218.76 270.90,218.78 271.40,218.96 271.90,218.92 272.40,218.67 272.90,218.66 273.40,218.95 273.90,218.90 274.40,219.00 274.90,218.37 275.40,218.83 275.90,218.42 276.40,218.65 276.90,218.24 277.40,218.33 277.90,218.64 278.40,218.32 278.90,218.95 279.40,218.35 279.90,219.00 280.40,218.57 280.90,218.36 281.40,218.58 281.90,218.73 282.40,218.83 282.90,218.68 283.40,218.25 283.90,218.24 284.40,218.51 284.90,218.75 285.40,218.11 285.90,218.70 286.40,218.36 286.90,218.37 287.40,217.81 287.90,217.80 288.40,217.33 288.90,216.88 289.40,216.76 289.90,215.62 290.40,214.59 290.90,214.80 291.40,213.85 291.90,213.74 292.40,212.40 292.90,211.95 293.40,211.07 293.90,210.72 294.40,208.99 294.90,209.82 295.40,209.09 295.90,208.60 296.40,206.82 296.90,207.19 297.40,206.44 297.90,204.34 298.40,203.08 298.90,202.83 299.40,205.39 299.90,202.80 300.40,202.15 300.90,201.56 301.40,200.03 301.90,196.90 302.40,198.76 302.90,198.69 303.40,196.43 303.90,196.60 304.40,195.96 304.90,196.38 305.40,194.95 305.90,193.82 306.40,196.22 306.90,195.30 307.40,191.34 307.90,191.39 308.40,193.04 308.90,193.64 309.40,192.47 309.90,193.73 310.40,192.54 310.90,189.86 311.40,191.86 311.90,190.51 312.40,192.36 312.90,191.61 313.40,190.29 313.90,193.91 314.40,192.68 314.90,192.82 315.40,193.30 315.90,193.22 316.40,195.95 316.90,200.14 317.40,200.32 317.90,202.46 318.40,203.69 318.90,201.77 319.40,205.83 319.90,205.58 320.40,207.45 320.90,207.05 321.40,208.51 321.90,209.70 322.40,210.86 322.90,210.99 323.40,213.40 323.90,214.09 324.40,214.90 324.90,213.91 325.40,215.21 325.90,215.97 326.40,216.01 326.90,214.98 327.40,216.59 327.90,216.50 328.40,216.90 328.90,217.26 329.40,217.67 329.90,217.67 330.40,217.81 330.90,218.60 331.40,217.07 331.90,217.74 332.40,218.08 332.90,218.25 333.40,218.50 333.90,218.03 334.40,218.44 334.90,218.31 335.40,218.91 335.90,218.47 336.40,218.08 336.90,218.74 337.40,218.49 337.90,218.73 338.40,218.50 338.90,218.55 339.40,218.84 339.90,219.00 340.40,218.86 340.90,218.95 341.40,219.00" fill="none" stroke="#6ee03a" stroke-width="1.8" stroke-opacity="1.0" stroke-linejoin="round"/>
<polyline points="265.90,218.90 266.40,218.96 266.90,219.00 267.40,219.00 267.90,218.90 268.40,219.00 268.90,218.80 269.40,218.85 269.90,218.80 270.40,218.80 270.90,218.88 271.40,219.00 271.90,218.98 272.40,218.65 272.90,219.00 273.40,218.95 273.90,219.00 274.40,218.99 274.90,218.94 275.40,218.83 275.90,218.93 276.40,218.94 276.90,218.98 277.40,218.84 277.90,219.00 278.40,218.83 278.90,218.59 279.40,218.98 279.90,218.83 280.40,218.28 280.90,219.00 281.40,219.00 281.90,218.75 282.40,217.88 282.90,217.25 283.40,217.63 283.90,216.52 284.40,216.15 284.90,215.80 285.40,215.73 285.90,213.73 286.40,213.89 286.90,212.60 287.40,211.99 287.90,210.27 288.40,209.91 288.90,210.56 289.40,209.29 289.90,207.70 290.40,208.49 290.90,207.09 291.40,205.88 291.90,206.45 292.40,205.41 292.90,205.02 293.40,202.70 293.90,202.55 294.40,200.41 294.90,200.10 295.40,198.70 295.90,198.27 296.40,196.52 296.90,196.36 297.40,196.35 297.90,193.52 298.40,192.95 298.90,190.91 299.40,192.57 299.90,192.46 300.40,193.14 300.90,195.62 301.40,193.14 301.90,191.43 302.40,192.93 302.90,194.76 303.40,191.65 303.90,192.99 304.40,193.05 304.90,193.74 305.40,194.29 305.90,194.62 306.40,197.60 306.90,197.12 307.40,198.34 307.90,197.96 308.40,200.98 308.90,199.92 309.40,201.95 309.90,202.33 310.40,205.16 310.90,204.90 311.40,205.94 311.90,207.90 312.40,207.71 312.90,208.50 313.40,209.48 313.90,210.00 314.40,211.05 314.90,211.09 315.40,211.20 315.90,212.32 316.40,213.21 316.90,212.37 317.40,213.58 317.90,213.89 318.40,214.50 318.90,215.13 319.40,215.16 319.90,216.10 320.40,216.38 320.90,217.29 321.40,217.63 321.90,217.44 322.40,216.95 322.90,217.63 323.40,217.35 323.90,217.93 324.40,218.11 324.90,218.54 325.40,218.58 325.90,218.36 326.40,218.56 326.90,218.93 327.40,218.91 327.90,218.57 328.40,218.93 328.90,218.66 329.40,219.00 329.90,218.73 330.40,218.57 330.90,218.71 331.40,218.82 331.90,218.85 332.40,218.90 332.90,218.89 333.40,218.68 333.90,218.69 334.40,218.83 334.90,219.00 335.40,219.00 335.90,218.87 336.40,218.93 336.90,219.00 337.40,218.83 337.90,218.49 338.40,219.00 338.90,218.96 339.40,218.69 339.90,219.00 340.40,219.00 340.90,218.96 341.40,218.90" fill="none" stroke="#b0a0de" stroke-width="1.0" stroke-opacity="1.0" stroke-linejoin="round"/>
<polyline points="265.90,218.90 266.40,218.96 266.90,219.00 267.40,219.00 267.90,218.90 268.40,219.00 268.90,218.80 269.40,218.85 269.90,218.80 270.40,218.80 270.90,218.88 271.40,219.00 271.90,218.98 272.40,218.65 272.90,219.00 273.40,218.95 273.90,219.00 274.40,218.99 274.90,218.94 275.40,218.83 275.90,218.93 276.40,218.94 276.90,218.98 277.40,218.84 277.90,219.00 278.40,218.83 278.90,218.59 279.40,218.98 279.90,218.83 280.40,218.28 280.90,219.00 281.40,219.00 281.90,218.75 282.40,217.88 282.90,217.25 283.40,217.63 283.90,216.52 284.40,216.15 284.90,215.80 285.40,215.73 285.90,213.73 286.40,213.89 286.90,212.60 287.40,211.99 287.90,210.27 288.40,209.91 288.90,210.56 289.40,209.29 289.90,207.70 290.40,208.49 290.90,207.09 291.40,205.88 291.90,206.45 292.40,205.41 292.90,205.02 293.40,202.70 293.90,202.55 294.40,200.41 294.90,200.10 295.40,198.70 295.90,198.27 296.40,196.52 296.90,196.36 297.40,196.35 297.90,193.52 298.40,192.95 298.90,190.91 299.40,192.57 299.90,192.46 300.40,193.14 300.90,195.62 301.40,193.14 301.90,191.43 302.40,192.93 302.90,194.76 303.40,191.65 303.90,192.99 304.40,193.05 304.90,193.74 305.40,194.29 305.90,194.62 306.40,197.60 306.90,197.12 307.40,198.34 307.90,197.96 308.40,200.98 308.90,199.92 309.40,201.95 309.90,202.33 310.40,205.16 310.90,204.90 311.40,205.94 311.90,207.90 312.40,207.71 312.90,208.50 313.40,209.48 313.90,210.00 314.40,211.05 314.90,211.09 315.40,211.20 315.90,212.32 316.40,213.21 316.90,212.37 317.40,213.58 317.90,213.89 318.40,214.50 318.90,215.13 319.40,215.16 319.90,216.10 320.40,216.38 320.90,217.29 321.40,217.63 321.90,217.44 322.40,216.95 322.90,217.63 323.40,217.35 323.90,217.93 324.40,218.11 324.90,218.54 325.40,218.58 325.90,218.36 326.40,218.56 326.90,218.93 327.40,218.91 327.90,218.57 328.40,218.93 328.90,218.66 329.40,219.00 329.90,218.73 330.40,218.57 330.90,218.71 331.40,218.82 331.90,218.85 332.40,218.90 332.90,218.89 333.40,218.68 333.90,218.69 334.40,218.83 334.90,219.00 335.40,219.00 335.90,218.87 336.40,218.93 336.90,219.00 337.40,218.83 337.90,218.49 338.40,219.00 338.90,218.96 339.40,218.69 339.90,219.00 340.40,219.00 340.90,218.96 341.40,218.90" fill="none" stroke="#5e5080" stroke-width="0.7" stroke-opacity="0.55" stroke-dasharray="1.3 1.5"/>
<polyline points="265.90,218.95 266.40,219.00 266.90,218.88 267.40,218.91 267.90,219.00 268.40,218.75 268.90,218.84 269.40,218.73 269.90,218.56 270.40,218.71 270.90,218.83 271.40,218.76 271.90,218.53 272.40,218.79 272.90,218.56 273.40,218.52 273.90,218.61 274.40,217.99 274.90,216.71 275.40,215.22 275.90,213.29 276.40,211.08 276.90,209.31 277.40,206.23 277.90,202.10 278.40,198.87 278.90,196.26 279.40,192.98 279.90,189.83 280.40,189.42 280.90,186.16 281.40,184.11 281.90,182.62 282.40,180.37 282.90,179.39 283.40,176.44 283.90,174.65 284.40,174.64 284.90,173.30 285.40,173.43 285.90,175.11 286.40,176.00 286.90,178.38 287.40,179.14 287.90,181.41 288.40,183.07 288.90,184.60 289.40,186.22 289.90,189.11 290.40,190.22 290.90,192.19 291.40,194.66 291.90,196.04 292.40,199.25 292.90,201.49 293.40,203.47 293.90,205.92 294.40,206.79 294.90,208.38 295.40,209.03 295.90,210.91 296.40,211.93 296.90,212.34 297.40,213.74 297.90,213.96 298.40,215.03 298.90,215.48 299.40,215.97 299.90,216.76 300.40,217.32 300.90,217.48 301.40,217.46 301.90,217.83 302.40,217.98 302.90,218.29 303.40,218.49 303.90,218.72 304.40,218.89 304.90,218.74 305.40,218.79 305.90,219.00 306.40,218.81 306.90,218.71 307.40,218.60 307.90,218.97 308.40,218.81 308.90,218.76 309.40,218.74 309.90,218.91 310.40,218.78 310.90,218.88 311.40,218.84 311.90,218.90 312.40,218.81 312.90,218.89 313.40,218.82 313.90,218.86 314.40,218.76 314.90,218.67 315.40,218.87 315.90,218.94 316.40,218.89 316.90,218.93 317.40,219.00 317.90,218.87 318.40,218.93 318.90,218.78 319.40,218.90 319.90,218.78 320.40,218.80 320.90,218.94 321.40,218.93 321.90,218.95 322.40,218.95 322.90,218.81 323.40,218.96 323.90,218.95 324.40,219.00 324.90,218.76 325.40,218.95 325.90,218.93 326.40,219.00 326.90,218.90 327.40,219.00 327.90,219.00 328.40,219.00 328.90,219.00 329.40,218.92 329.90,218.86 330.40,219.00 330.90,218.93 331.40,218.93 331.90,218.63 332.40,219.00 332.90,219.00 333.40,219.00 333.90,218.88 334.40,218.86 334.90,219.00 335.40,218.81 335.90,218.75 336.40,219.00 336.90,218.92 337.40,219.00 337.90,219.00 338.40,219.00 338.90,219.00 339.40,219.00 339.90,219.00 340.40,218.91 340.90,219.00 341.40,219.00" fill="none" stroke="#c85a6c" stroke-width="1.0" stroke-opacity="1.0" stroke-linejoin="round"/>
<polyline points="265.90,218.95 266.40,219.00 266.90,218.88 267.40,218.91 267.90,219.00 268.40,218.75 268.90,218.84 269.40,218.73 269.90,218.56 270.40,218.71 270.90,218.83 271.40,218.76 271.90,218.53 272.40,218.79 272.90,218.56 273.40,218.52 273.90,218.61 274.40,217.99 274.90,216.71 275.40,215.22 275.90,213.29 276.40,211.08 276.90,209.31 277.40,206.23 277.90,202.10 278.40,198.87 278.90,196.26 279.40,192.98 279.90,189.83 280.40,189.42 280.90,186.16 281.40,184.11 281.90,182.62 282.40,180.37 282.90,179.39 283.40,176.44 283.90,174.65 284.40,174.64 284.90,173.30 285.40,173.43 285.90,175.11 286.40,176.00 286.90,178.38 287.40,179.14 287.90,181.41 288.40,183.07 288.90,184.60 289.40,186.22 289.90,189.11 290.40,190.22 290.90,192.19 291.40,194.66 291.90,196.04 292.40,199.25 292.90,201.49 293.40,203.47 293.90,205.92 294.40,206.79 294.90,208.38 295.40,209.03 295.90,210.91 296.40,211.93 296.90,212.34 297.40,213.74 297.90,213.96 298.40,215.03 298.90,215.48 299.40,215.97 299.90,216.76 300.40,217.32 300.90,217.48 301.40,217.46 301.90,217.83 302.40,217.98 302.90,218.29 303.40,218.49 303.90,218.72 304.40,218.89 304.90,218.74 305.40,218.79 305.90,219.00 306.40,218.81 306.90,218.71 307.40,218.60 307.90,218.97 308.40,218.81 308.90,218.76 309.40,218.74 309.90,218.91 310.40,218.78 310.90,218.88 311.40,218.84 311.90,218.90 312.40,218.81 312.90,218.89 313.40,218.82 313.90,218.86 314.40,218.76 314.90,218.67 315.40,218.87 315.90,218.94 316.40,218.89 316.90,218.93 317.40,219.00 317.90,218.87 318.40,218.93 318.90,218.78 319.40,218.90 319.90,218.78 320.40,218.80 320.90,218.94 321.40,218.93 321.90,218.95 322.40,218.95 322.90,218.81 323.40,218.96 323.90,218.95 324.40,219.00 324.90,218.76 325.40,218.95 325.90,218.93 326.40,219.00 326.90,218.90 327.40,219.00 327.90,219.00 328.40,219.00 328.90,219.00 329.40,218.92 329.90,218.86 330.40,219.00 330.90,218.93 331.40,218.93 331.90,218.63 332.40,219.00 332.90,219.00 333.40,219.00 333.90,218.88 334.40,218.86 334.90,219.00 335.40,218.81 335.90,218.75 336.40,219.00 336.90,218.92 337.40,219.00 337.90,219.00 338.40,219.00 338.90,219.00 339.40,219.00 339.90,219.00 340.40,218.91 340.90,219.00 341.40,219.00" fill="none" stroke="#5a2a34" stroke-width="0.7" stroke-opacity="0.65" stroke-dasharray="1.3 1.5"/>
<line x1="266.20" y1="159.80" x2="266.20" y2="219.60" stroke="#808080" stroke-width="0.6" stroke-dasharray="0.5 1.1"/>
<line x1="265.30" y1="218.70" x2="342.00" y2="218.70" stroke="#777" stroke-width="0.6" stroke-dasharray="0.5 1.3"/>
<rect x="260.70" y="160.30" width="1.50" height="2.40" fill="#959595" stroke="none" stroke-width="1.0" />
<rect x="260.70" y="169.90" width="1.50" height="2.40" fill="#959595" stroke="none" stroke-width="1.0" />
<rect x="260.70" y="179.50" width="1.50" height="2.40" fill="#959595" stroke="none" stroke-width="1.0" />
<rect x="260.70" y="189.10" width="1.50" height="2.40" fill="#959595" stroke="none" stroke-width="1.0" />
<rect x="260.70" y="198.70" width="1.50" height="2.40" fill="#959595" stroke="none" stroke-width="1.0" />
<rect x="260.70" y="208.30" width="1.50" height="2.40" fill="#959595" stroke="none" stroke-width="1.0" />
<rect x="260.70" y="217.90" width="1.50" height="2.40" fill="#959595" stroke="none" stroke-width="1.0" />
<text x="259.70" y="193.20" font-size="3.2" fill="#8a8a8a" transform="rotate(-90 259.70 193.20)">Counts</text>
<line x1="264.90" y1="223.40" x2="266.50" y2="222.20" stroke="#8c8c8c" stroke-width="1.1" />
<rect x="266.30" y="221.20" width="0.90" height="0.90" fill="#a0a0a0" stroke="none" stroke-width="1.0" />
<line x1="293.90" y1="223.40" x2="295.50" y2="222.20" stroke="#8c8c8c" stroke-width="1.1" />
<rect x="295.30" y="221.20" width="0.90" height="0.90" fill="#a0a0a0" stroke="none" stroke-width="1.0" />
<line x1="322.90" y1="223.40" x2="324.50" y2="222.20" stroke="#8c8c8c" stroke-width="1.1" />
<rect x="324.30" y="221.20" width="0.90" height="0.90" fill="#a0a0a0" stroke="none" stroke-width="1.0" />
<text x="323.90" y="227.60" font-size="2.8" fill="#8a8a8a" text-anchor="middle">ALexa</text>
<text x="335.00" y="168.30" font-size="8.8" fill="#1a1a1a" text-anchor="end" stroke="#1a1a1a" stroke-width="0.28" >100 nM</text>
<text x="318.00" y="177.80" font-size="8.8" fill="#1a1a1a" text-anchor="middle" stroke="#1a1a1a" stroke-width="0.28" >(27)</text>
<rect x="351.30" y="156.80" width="75.10" height="62.80" fill="#fff" stroke="#7c7c7c" stroke-width="1.0" />
<polyline points="351.90,218.84 352.40,219.00 352.90,219.00 353.40,219.00 353.90,219.00 354.40,218.65 354.90,218.93 355.40,218.80 355.90,218.67 356.40,219.00 356.90,218.25 357.40,219.00 357.90,218.78 358.40,218.19 358.90,218.87 359.40,218.81 359.90,218.95 360.40,218.73 360.90,219.00 361.40,218.95 361.90,218.35 362.40,218.71 362.90,218.82 363.40,218.65 363.90,218.63 364.40,218.68 364.90,218.56 365.40,219.00 365.90,218.53 366.40,218.86 366.90,218.46 367.40,218.66 367.90,218.92 368.40,218.65 368.90,218.90 369.40,218.33 369.90,218.57 370.40,218.22 370.90,218.68 371.40,217.68 371.90,218.15 372.40,217.43 372.90,217.45 373.40,218.02 373.90,217.34 374.40,217.53 374.90,216.99 375.40,216.31 375.90,216.20 376.40,215.47 376.90,216.06 377.40,214.78 377.90,214.12 378.40,213.11 378.90,213.62 379.40,212.28 379.90,211.80 380.40,212.61 380.90,211.68 381.40,209.95 381.90,210.62 382.40,210.07 382.90,207.70 383.40,207.60 383.90,207.44 384.40,206.48 384.90,206.23 385.40,205.60 385.90,204.75 386.40,203.12 386.90,201.36 387.40,202.44 387.90,201.25 388.40,200.69 388.90,201.15 389.40,198.75 389.90,197.33 390.40,198.59 390.90,195.78 391.40,196.62 391.90,193.62 392.40,192.64 392.90,193.82 393.40,195.26 393.90,192.76 394.40,194.02 394.90,193.88 395.40,192.45 395.90,190.29 396.40,192.17 396.90,192.32 397.40,194.50 397.90,192.91 398.40,194.01 398.90,191.55 399.40,192.99 399.90,192.42 400.40,192.49 400.90,193.08 401.40,192.51 401.90,194.38 402.40,196.74 402.90,197.55 403.40,198.49 403.90,199.01 404.40,201.78 404.90,201.83 405.40,205.16 405.90,205.85 406.40,207.89 406.90,206.68 407.40,209.14 407.90,209.96 408.40,209.30 408.90,211.15 409.40,211.97 409.90,211.34 410.40,212.70 410.90,212.54 411.40,213.95 411.90,213.83 412.40,214.21 412.90,215.24 413.40,214.69 413.90,216.03 414.40,216.13 414.90,216.17 415.40,215.94 415.90,216.72 416.40,216.97 416.90,216.86 417.40,216.64 417.90,217.50 418.40,218.01 418.90,217.73 419.40,217.59 419.90,218.09 420.40,217.95 420.90,218.69 421.40,218.15 421.90,218.21 422.40,218.14 422.90,218.32 423.40,218.28 423.90,218.86 424.40,218.52 424.90,219.00 425.40,219.00" fill="none" stroke="#6ee03a" stroke-width="1.8" stroke-opacity="1.0" stroke-linejoin="round"/>
<polyline points="351.90,218.76 352.40,218.93 352.90,219.00 353.40,219.00 353.90,219.00 354.40,219.00 354.90,218.86 355.40,219.00 355.90,218.78 356.40,219.00 356.90,218.97 357.40,218.77 357.90,218.81 358.40,219.00 358.90,218.60 359.40,218.84 359.90,219.00 360.40,218.89 360.90,219.00 361.40,218.80 361.90,219.00 362.40,218.78 362.90,219.00 363.40,218.66 363.90,218.80 364.40,218.59 364.90,218.97 365.40,219.00 365.90,219.00 366.40,218.87 366.90,218.45 367.40,218.69 367.90,218.45 368.40,218.66 368.90,218.26 369.40,217.86 369.90,217.09 370.40,217.20 370.90,216.76 371.40,215.79 371.90,216.19 372.40,215.23 372.90,214.55 373.40,212.53 373.90,210.33 374.40,208.38 374.90,208.00 375.40,206.71 375.90,202.54 376.40,199.45 376.90,198.89 377.40,195.86 377.90,193.71 378.40,193.21 378.90,191.35 379.40,186.76 379.90,184.31 380.40,184.58 380.90,181.88 381.40,181.42 381.90,181.86 382.40,183.29 382.90,182.21 383.40,184.73 383.90,186.37 384.40,188.03 384.90,188.70 385.40,191.07 385.90,192.19 386.40,194.73 386.90,195.60 387.40,197.84 387.90,198.82 388.40,201.93 388.90,202.91 389.40,204.64 389.90,204.06 390.40,206.31 390.90,206.72 391.40,208.39 391.90,208.64 392.40,209.76 392.90,209.60 393.40,210.75 393.90,210.22 394.40,212.09 394.90,211.84 395.40,212.81 395.90,212.86 396.40,213.77 396.90,213.70 397.40,214.05 397.90,214.59 398.40,214.37 398.90,215.44 399.40,215.24 399.90,215.55 400.40,215.75 400.90,216.45 401.40,216.16 401.90,216.94 402.40,217.12 402.90,217.45 403.40,217.49 403.90,217.49 404.40,217.06 404.90,218.62 405.40,217.97 405.90,218.19 406.40,218.27 406.90,218.68 407.40,218.71 407.90,218.49 408.40,218.81 408.90,218.80 409.40,218.84 409.90,218.76 410.40,218.52 410.90,219.00 411.40,218.64 411.90,219.00 412.40,218.78 412.90,218.95 413.40,218.64 413.90,218.74 414.40,218.75 414.90,218.79 415.40,218.84 415.90,219.00 416.40,218.86 416.90,219.00 417.40,218.73 417.90,219.00 418.40,218.93 418.90,219.00 419.40,218.93 419.90,218.92 420.40,218.87 420.90,219.00 421.40,218.69 421.90,219.00 422.40,219.00 422.90,219.00 423.40,218.94 423.90,218.83 424.40,218.79 424.90,218.92 425.40,218.93" fill="none" stroke="#b0a0de" stroke-width="1.0" stroke-opacity="1.0" stroke-linejoin="round"/>
<polyline points="351.90,218.76 352.40,218.93 352.90,219.00 353.40,219.00 353.90,219.00 354.40,219.00 354.90,218.86 355.40,219.00 355.90,218.78 356.40,219.00 356.90,218.97 357.40,218.77 357.90,218.81 358.40,219.00 358.90,218.60 359.40,218.84 359.90,219.00 360.40,218.89 360.90,219.00 361.40,218.80 361.90,219.00 362.40,218.78 362.90,219.00 363.40,218.66 363.90,218.80 364.40,218.59 364.90,218.97 365.40,219.00 365.90,219.00 366.40,218.87 366.90,218.45 367.40,218.69 367.90,218.45 368.40,218.66 368.90,218.26 369.40,217.86 369.90,217.09 370.40,217.20 370.90,216.76 371.40,215.79 371.90,216.19 372.40,215.23 372.90,214.55 373.40,212.53 373.90,210.33 374.40,208.38 374.90,208.00 375.40,206.71 375.90,202.54 376.40,199.45 376.90,198.89 377.40,195.86 377.90,193.71 378.40,193.21 378.90,191.35 379.40,186.76 379.90,184.31 380.40,184.58 380.90,181.88 381.40,181.42 381.90,181.86 382.40,183.29 382.90,182.21 383.40,184.73 383.90,186.37 384.40,188.03 384.90,188.70 385.40,191.07 385.90,192.19 386.40,194.73 386.90,195.60 387.40,197.84 387.90,198.82 388.40,201.93 388.90,202.91 389.40,204.64 389.90,204.06 390.40,206.31 390.90,206.72 391.40,208.39 391.90,208.64 392.40,209.76 392.90,209.60 393.40,210.75 393.90,210.22 394.40,212.09 394.90,211.84 395.40,212.81 395.90,212.86 396.40,213.77 396.90,213.70 397.40,214.05 397.90,214.59 398.40,214.37 398.90,215.44 399.40,215.24 399.90,215.55 400.40,215.75 400.90,216.45 401.40,216.16 401.90,216.94 402.40,217.12 402.90,217.45 403.40,217.49 403.90,217.49 404.40,217.06 404.90,218.62 405.40,217.97 405.90,218.19 406.40,218.27 406.90,218.68 407.40,218.71 407.90,218.49 408.40,218.81 408.90,218.80 409.40,218.84 409.90,218.76 410.40,218.52 410.90,219.00 411.40,218.64 411.90,219.00 412.40,218.78 412.90,218.95 413.40,218.64 413.90,218.74 414.40,218.75 414.90,218.79 415.40,218.84 415.90,219.00 416.40,218.86 416.90,219.00 417.40,218.73 417.90,219.00 418.40,218.93 418.90,219.00 419.40,218.93 419.90,218.92 420.40,218.87 420.90,219.00 421.40,218.69 421.90,219.00 422.40,219.00 422.90,219.00 423.40,218.94 423.90,218.83 424.40,218.79 424.90,218.92 425.40,218.93" fill="none" stroke="#5e5080" stroke-width="0.7" stroke-opacity="0.55" stroke-dasharray="1.3 1.5"/>
<polyline points="351.90,218.99 352.40,219.00 352.90,218.65 353.40,218.83 353.90,218.77 354.40,218.83 354.90,218.76 355.40,218.69 355.90,218.66 356.40,218.71 356.90,218.49 357.40,218.35 357.90,218.23 358.40,218.05 358.90,217.51 359.40,216.35 359.90,214.45 360.40,212.82 360.90,210.70 361.40,209.40 361.90,207.05 362.40,205.30 362.90,203.46 363.40,200.76 363.90,199.02 364.40,196.66 364.90,194.43 365.40,192.60 365.90,190.98 366.40,188.57 366.90,186.07 367.40,184.84 367.90,182.23 368.40,180.82 368.90,179.28 369.40,177.66 369.90,176.31 370.40,174.26 370.90,172.89 371.40,174.56 371.90,174.67 372.40,175.61 372.90,177.30 373.40,178.00 373.90,180.34 374.40,181.20 374.90,183.03 375.40,185.17 375.90,187.67 376.40,188.35 376.90,191.30 377.40,193.00 377.90,195.76 378.40,197.75 378.90,199.37 379.40,202.04 379.90,203.27 380.40,204.73 380.90,207.64 381.40,208.93 381.90,209.83 382.40,211.09 382.90,211.63 383.40,212.63 383.90,213.89 384.40,214.90 384.90,215.22 385.40,215.82 385.90,216.82 386.40,216.93 386.90,217.65 387.40,217.54 387.90,217.89 388.40,218.10 388.90,218.36 389.40,218.61 389.90,218.71 390.40,218.91 390.90,218.71 391.40,218.94 391.90,218.75 392.40,218.93 392.90,218.97 393.40,218.75 393.90,218.79 394.40,218.82 394.90,218.64 395.40,218.92 395.90,218.73 396.40,218.80 396.90,218.65 397.40,218.96 397.90,218.89 398.40,218.91 398.90,218.95 399.40,219.00 399.90,218.88 400.40,218.89 400.90,218.96 401.40,218.89 401.90,219.00 402.40,218.72 402.90,218.82 403.40,218.86 403.90,218.80 404.40,218.92 404.90,218.96 405.40,218.95 405.90,218.97 406.40,218.94 406.90,218.78 407.40,218.95 407.90,218.75 408.40,218.86 408.90,218.70 409.40,218.97 409.90,218.99 410.40,218.98 410.90,219.00 411.40,218.84 411.90,218.88 412.40,218.91 412.90,218.92 413.40,218.83 413.90,219.00 414.40,218.90 414.90,218.90 415.40,218.86 415.90,218.79 416.40,218.90 416.90,219.00 417.40,218.90 417.90,218.98 418.40,218.95 418.90,219.00 419.40,218.99 419.90,218.97 420.40,219.00 420.90,218.92 421.40,218.78 421.90,218.98 422.40,219.00 422.90,219.00 423.40,218.87 423.90,218.98 424.40,218.89 424.90,218.97 425.40,218.89" fill="none" stroke="#c85a6c" stroke-width="1.0" stroke-opacity="1.0" stroke-linejoin="round"/>
<polyline points="351.90,218.99 352.40,219.00 352.90,218.65 353.40,218.83 353.90,218.77 354.40,218.83 354.90,218.76 355.40,218.69 355.90,218.66 356.40,218.71 356.90,218.49 357.40,218.35 357.90,218.23 358.40,218.05 358.90,217.51 359.40,216.35 359.90,214.45 360.40,212.82 360.90,210.70 361.40,209.40 361.90,207.05 362.40,205.30 362.90,203.46 363.40,200.76 363.90,199.02 364.40,196.66 364.90,194.43 365.40,192.60 365.90,190.98 366.40,188.57 366.90,186.07 367.40,184.84 367.90,182.23 368.40,180.82 368.90,179.28 369.40,177.66 369.90,176.31 370.40,174.26 370.90,172.89 371.40,174.56 371.90,174.67 372.40,175.61 372.90,177.30 373.40,178.00 373.90,180.34 374.40,181.20 374.90,183.03 375.40,185.17 375.90,187.67 376.40,188.35 376.90,191.30 377.40,193.00 377.90,195.76 378.40,197.75 378.90,199.37 379.40,202.04 379.90,203.27 380.40,204.73 380.90,207.64 381.40,208.93 381.90,209.83 382.40,211.09 382.90,211.63 383.40,212.63 383.90,213.89 384.40,214.90 384.90,215.22 385.40,215.82 385.90,216.82 386.40,216.93 386.90,217.65 387.40,217.54 387.90,217.89 388.40,218.10 388.90,218.36 389.40,218.61 389.90,218.71 390.40,218.91 390.90,218.71 391.40,218.94 391.90,218.75 392.40,218.93 392.90,218.97 393.40,218.75 393.90,218.79 394.40,218.82 394.90,218.64 395.40,218.92 395.90,218.73 396.40,218.80 396.90,218.65 397.40,218.96 397.90,218.89 398.40,218.91 398.90,218.95 399.40,219.00 399.90,218.88 400.40,218.89 400.90,218.96 401.40,218.89 401.90,219.00 402.40,218.72 402.90,218.82 403.40,218.86 403.90,218.80 404.40,218.92 404.90,218.96 405.40,218.95 405.90,218.97 406.40,218.94 406.90,218.78 407.40,218.95 407.90,218.75 408.40,218.86 408.90,218.70 409.40,218.97 409.90,218.99 410.40,218.98 410.90,219.00 411.40,218.84 411.90,218.88 412.40,218.91 412.90,218.92 413.40,218.83 413.90,219.00 414.40,218.90 414.90,218.90 415.40,218.86 415.90,218.79 416.40,218.90 416.90,219.00 417.40,218.90 417.90,218.98 418.40,218.95 418.90,219.00 419.40,218.99 419.90,218.97 420.40,219.00 420.90,218.92 421.40,218.78 421.90,218.98 422.40,219.00 422.90,219.00 423.40,218.87 423.90,218.98 424.40,218.89 424.90,218.97 425.40,218.89" fill="none" stroke="#5a2a34" stroke-width="0.7" stroke-opacity="0.65" stroke-dasharray="1.3 1.5"/>
<line x1="352.20" y1="159.80" x2="352.20" y2="219.60" stroke="#808080" stroke-width="0.6" stroke-dasharray="0.5 1.1"/>
<line x1="351.30" y1="218.70" x2="426.40" y2="218.70" stroke="#777" stroke-width="0.6" stroke-dasharray="0.5 1.3"/>
<rect x="346.70" y="160.30" width="1.50" height="2.40" fill="#959595" stroke="none" stroke-width="1.0" />
<rect x="346.70" y="169.90" width="1.50" height="2.40" fill="#959595" stroke="none" stroke-width="1.0" />
<rect x="346.70" y="179.50" width="1.50" height="2.40" fill="#959595" stroke="none" stroke-width="1.0" />
<rect x="346.70" y="189.10" width="1.50" height="2.40" fill="#959595" stroke="none" stroke-width="1.0" />
<rect x="346.70" y="198.70" width="1.50" height="2.40" fill="#959595" stroke="none" stroke-width="1.0" />
<rect x="346.70" y="208.30" width="1.50" height="2.40" fill="#959595" stroke="none" stroke-width="1.0" />
<rect x="346.70" y="217.90" width="1.50" height="2.40" fill="#959595" stroke="none" stroke-width="1.0" />
<text x="345.70" y="193.20" font-size="3.2" fill="#8a8a8a" transform="rotate(-90 345.70 193.20)">Counts</text>
<line x1="350.90" y1="223.40" x2="352.50" y2="222.20" stroke="#8c8c8c" stroke-width="1.1" />
<rect x="352.30" y="221.20" width="0.90" height="0.90" fill="#a0a0a0" stroke="none" stroke-width="1.0" />
<line x1="379.90" y1="223.40" x2="381.50" y2="222.20" stroke="#8c8c8c" stroke-width="1.1" />
<rect x="381.30" y="221.20" width="0.90" height="0.90" fill="#a0a0a0" stroke="none" stroke-width="1.0" />
<line x1="408.90" y1="223.40" x2="410.50" y2="222.20" stroke="#8c8c8c" stroke-width="1.1" />
<rect x="410.30" y="221.20" width="0.90" height="0.90" fill="#a0a0a0" stroke="none" stroke-width="1.0" />
<text x="409.90" y="227.60" font-size="2.8" fill="#8a8a8a" text-anchor="middle">ALexa</text>
<text x="421.20" y="168.30" font-size="8.8" fill="#1a1a1a" text-anchor="end" stroke="#1a1a1a" stroke-width="0.28" >200 nM</text>
<text x="404.80" y="177.80" font-size="8.8" fill="#1a1a1a" text-anchor="middle" stroke="#1a1a1a" stroke-width="0.28" >(76)</text>
<rect x="437.80" y="156.80" width="77.40" height="62.80" fill="#fff" stroke="#7c7c7c" stroke-width="1.0" />
<polyline points="438.40,219.00 438.90,219.00 439.40,218.88 439.90,219.00 440.40,218.82 440.90,218.74 441.40,219.00 441.90,218.65 442.40,219.00 442.90,218.36 443.40,218.67 443.90,218.97 444.40,218.77 444.90,218.75 445.40,218.71 445.90,218.43 446.40,218.63 446.90,218.32 447.40,218.57 447.90,218.77 448.40,219.00 448.90,219.00 449.40,218.62 449.90,218.48 450.40,218.26 450.90,218.80 451.40,218.59 451.90,218.81 452.40,218.66 452.90,219.00 453.40,218.20 453.90,218.57 454.40,218.31 454.90,218.08 455.40,218.05 455.90,218.52 456.40,217.52 456.90,217.70 457.40,217.72 457.90,218.05 458.40,218.25 458.90,218.01 459.40,217.06 459.90,216.47 460.40,216.45 460.90,214.75 461.40,215.08 461.90,214.25 462.40,213.85 462.90,214.60 463.40,212.89 463.90,212.78 464.40,213.45 464.90,211.60 465.40,210.83 465.90,210.38 466.40,209.80 466.90,211.20 467.40,209.80 467.90,209.55 468.40,208.55 468.90,208.01 469.40,206.61 469.90,206.41 470.40,207.24 470.90,204.87 471.40,203.25 471.90,203.59 472.40,204.52 472.90,202.72 473.40,201.31 473.90,202.02 474.40,199.53 474.90,200.03 475.40,196.83 475.90,196.15 476.40,196.31 476.90,197.09 477.40,194.56 477.90,195.13 478.40,194.61 478.90,191.80 479.40,193.87 479.90,194.46 480.40,191.45 480.90,189.99 481.40,190.11 481.90,191.15 482.40,189.38 482.90,192.56 483.40,189.18 483.90,189.27 484.40,192.53 484.90,191.61 485.40,193.93 485.90,193.67 486.40,191.70 486.90,194.31 487.40,193.34 487.90,194.18 488.40,195.83 488.90,196.09 489.40,196.24 489.90,199.55 490.40,199.97 490.90,200.82 491.40,204.17 491.90,205.69 492.40,208.59 492.90,207.18 493.40,207.64 493.90,208.97 494.40,208.44 494.90,209.68 495.40,210.98 495.90,212.25 496.40,213.29 496.90,213.01 497.40,213.10 497.90,213.79 498.40,214.26 498.90,214.64 499.40,214.36 499.90,216.01 500.40,215.55 500.90,215.60 501.40,215.51 501.90,215.72 502.40,216.38 502.90,216.74 503.40,217.20 503.90,216.39 504.40,216.86 504.90,217.22 505.40,217.79 505.90,218.13 506.40,217.53 506.90,218.14 507.40,218.19 507.90,217.99 508.40,219.00 508.90,218.85 509.40,218.58 509.90,218.54 510.40,219.00 510.90,218.79 511.40,218.95 511.90,218.97 512.40,218.77 512.90,218.84 513.40,218.64 513.90,218.81 514.40,218.63" fill="none" stroke="#6ee03a" stroke-width="1.8" stroke-opacity="1.0" stroke-linejoin="round"/>
<polyline points="438.40,218.94 438.90,218.99 439.40,219.00 439.90,219.00 440.40,218.96 440.90,218.78 441.40,218.75 441.90,219.00 442.40,218.52 442.90,218.56 443.40,218.94 443.90,218.91 444.40,218.70 444.90,218.91 445.40,218.81 445.90,218.62 446.40,218.61 446.90,218.92 447.40,218.89 447.90,218.81 448.40,218.48 448.90,218.12 449.40,217.87 449.90,217.20 450.40,217.03 450.90,216.67 451.40,216.93 451.90,216.38 452.40,215.64 452.90,214.45 453.40,213.95 453.90,211.85 454.40,211.42 454.90,210.30 455.40,209.31 455.90,208.05 456.40,206.73 456.90,206.53 457.40,204.12 457.90,204.51 458.40,202.54 458.90,201.92 459.40,200.79 459.90,199.06 460.40,198.29 460.90,196.06 461.40,196.45 461.90,194.07 462.40,192.26 462.90,189.11 463.40,187.72 463.90,186.86 464.40,184.49 464.90,183.97 465.40,184.33 465.90,182.04 466.40,180.17 466.90,181.73 467.40,180.38 467.90,182.72 468.40,184.91 468.90,185.08 469.40,188.22 469.90,188.59 470.40,190.11 470.90,189.92 471.40,192.46 471.90,194.14 472.40,193.89 472.90,195.91 473.40,197.49 473.90,198.78 474.40,199.01 474.90,201.20 475.40,203.43 475.90,202.72 476.40,205.62 476.90,205.81 477.40,207.09 477.90,207.60 478.40,209.51 478.90,210.00 479.40,210.04 479.90,211.07 480.40,211.65 480.90,211.78 481.40,213.75 481.90,213.24 482.40,212.79 482.90,213.96 483.40,214.08 483.90,214.28 484.40,214.65 484.90,214.99 485.40,215.77 485.90,215.68 486.40,216.36 486.90,216.04 487.40,217.08 487.90,217.19 488.40,217.68 488.90,217.72 489.40,218.32 489.90,218.49 490.40,218.88 490.90,218.88 491.40,218.99 491.90,218.85 492.40,218.87 492.90,219.00 493.40,219.00 493.90,218.80 494.40,218.87 494.90,218.97 495.40,219.00 495.90,219.00 496.40,218.83 496.90,218.95 497.40,218.98 497.90,218.97 498.40,218.95 498.90,218.93 499.40,218.86 499.90,219.00 500.40,218.93 500.90,219.00 501.40,218.96 501.90,218.67 502.40,219.00 502.90,219.00 503.40,219.00 503.90,219.00 504.40,218.49 504.90,219.00 505.40,218.64 505.90,218.94 506.40,218.72 506.90,218.79 507.40,219.00 507.90,218.86 508.40,219.00 508.90,219.00 509.40,218.70 509.90,219.00 510.40,219.00 510.90,218.52 511.40,219.00 511.90,218.93 512.40,218.70 512.90,219.00 513.40,219.00 513.90,218.68 514.40,219.00" fill="none" stroke="#b0a0de" stroke-width="1.0" stroke-opacity="1.0" stroke-linejoin="round"/>
<polyline points="438.40,218.94 438.90,218.99 439.40,219.00 439.90,219.00 440.40,218.96 440.90,218.78 441.40,218.75 441.90,219.00 442.40,218.52 442.90,218.56 443.40,218.94 443.90,218.91 444.40,218.70 444.90,218.91 445.40,218.81 445.90,218.62 446.40,218.61 446.90,218.92 447.40,218.89 447.90,218.81 448.40,218.48 448.90,218.12 449.40,217.87 449.90,217.20 450.40,217.03 450.90,216.67 451.40,216.93 451.90,216.38 452.40,215.64 452.90,214.45 453.40,213.95 453.90,211.85 454.40,211.42 454.90,210.30 455.40,209.31 455.90,208.05 456.40,206.73 456.90,206.53 457.40,204.12 457.90,204.51 458.40,202.54 458.90,201.92 459.40,200.79 459.90,199.06 460.40,198.29 460.90,196.06 461.40,196.45 461.90,194.07 462.40,192.26 462.90,189.11 463.40,187.72 463.90,186.86 464.40,184.49 464.90,183.97 465.40,184.33 465.90,182.04 466.40,180.17 466.90,181.73 467.40,180.38 467.90,182.72 468.40,184.91 468.90,185.08 469.40,188.22 469.90,188.59 470.40,190.11 470.90,189.92 471.40,192.46 471.90,194.14 472.40,193.89 472.90,195.91 473.40,197.49 473.90,198.78 474.40,199.01 474.90,201.20 475.40,203.43 475.90,202.72 476.40,205.62 476.90,205.81 477.40,207.09 477.90,207.60 478.40,209.51 478.90,210.00 479.40,210.04 479.90,211.07 480.40,211.65 480.90,211.78 481.40,213.75 481.90,213.24 482.40,212.79 482.90,213.96 483.40,214.08 483.90,214.28 484.40,214.65 484.90,214.99 485.40,215.77 485.90,215.68 486.40,216.36 486.90,216.04 487.40,217.08 487.90,217.19 488.40,217.68 488.90,217.72 489.40,218.32 489.90,218.49 490.40,218.88 490.90,218.88 491.40,218.99 491.90,218.85 492.40,218.87 492.90,219.00 493.40,219.00 493.90,218.80 494.40,218.87 494.90,218.97 495.40,219.00 495.90,219.00 496.40,218.83 496.90,218.95 497.40,218.98 497.90,218.97 498.40,218.95 498.90,218.93 499.40,218.86 499.90,219.00 500.40,218.93 500.90,219.00 501.40,218.96 501.90,218.67 502.40,219.00 502.90,219.00 503.40,219.00 503.90,219.00 504.40,218.49 504.90,219.00 505.40,218.64 505.90,218.94 506.40,218.72 506.90,218.79 507.40,219.00 507.90,218.86 508.40,219.00 508.90,219.00 509.40,218.70 509.90,219.00 510.40,219.00 510.90,218.52 511.40,219.00 511.90,218.93 512.40,218.70 512.90,219.00 513.40,219.00 513.90,218.68 514.40,219.00" fill="none" stroke="#5e5080" stroke-width="0.7" stroke-opacity="0.55" stroke-dasharray="1.3 1.5"/>
<polyline points="438.40,219.00 438.90,218.87 439.40,218.79 439.90,218.79 440.40,218.67 440.90,218.78 441.40,218.90 441.90,218.70 442.40,218.59 442.90,218.51 443.40,218.49 443.90,218.48 444.40,217.66 444.90,217.38 445.40,216.08 445.90,214.65 446.40,212.93 446.90,210.77 447.40,208.87 447.90,207.65 448.40,205.72 448.90,203.95 449.40,202.28 449.90,200.37 450.40,198.25 450.90,197.12 451.40,193.54 451.90,193.33 452.40,190.99 452.90,188.06 453.40,187.30 453.90,185.21 454.40,183.08 454.90,180.72 455.40,180.46 455.90,177.39 456.40,177.22 456.90,173.79 457.40,172.91 457.90,172.94 458.40,174.41 458.90,174.82 459.40,176.86 459.90,178.31 460.40,181.44 460.90,182.44 461.40,184.06 461.90,185.72 462.40,188.67 462.90,190.48 463.40,191.37 463.90,193.78 464.40,195.49 464.90,198.07 465.40,199.55 465.90,201.94 466.40,204.03 466.90,205.97 467.40,207.23 467.90,209.21 468.40,210.31 468.90,211.04 469.40,211.73 469.90,212.65 470.40,213.65 470.90,214.60 471.40,215.88 471.90,216.68 472.40,216.86 472.90,217.42 473.40,217.59 473.90,217.99 474.40,218.02 474.90,218.47 475.40,218.58 475.90,218.73 476.40,218.81 476.90,218.74 477.40,218.73 477.90,218.71 478.40,218.81 478.90,218.89 479.40,218.83 479.90,218.88 480.40,218.92 480.90,218.65 481.40,218.97 481.90,218.76 482.40,218.89 482.90,219.00 483.40,218.62 483.90,218.90 484.40,218.98 484.90,218.60 485.40,218.89 485.90,218.85 486.40,218.69 486.90,218.98 487.40,218.98 487.90,218.79 488.40,218.83 488.90,218.97 489.40,219.00 489.90,219.00 490.40,218.83 490.90,218.74 491.40,218.75 491.90,218.84 492.40,218.84 492.90,219.00 493.40,218.90 493.90,218.95 494.40,218.75 494.90,218.92 495.40,218.89 495.90,218.88 496.40,218.86 496.90,218.85 497.40,218.68 497.90,218.75 498.40,218.87 498.90,219.00 499.40,218.73 499.90,218.83 500.40,218.91 500.90,218.98 501.40,219.00 501.90,218.82 502.40,218.82 502.90,218.93 503.40,218.94 503.90,218.75 504.40,218.89 504.90,218.96 505.40,219.00 505.90,218.85 506.40,218.86 506.90,219.00 507.40,219.00 507.90,218.89 508.40,218.89 508.90,218.85 509.40,218.89 509.90,219.00 510.40,218.86 510.90,219.00 511.40,218.82 511.90,218.95 512.40,219.00 512.90,219.00 513.40,219.00 513.90,218.95 514.40,219.00" fill="none" stroke="#c85a6c" stroke-width="1.0" stroke-opacity="1.0" stroke-linejoin="round"/>
<polyline points="438.40,219.00 438.90,218.87 439.40,218.79 439.90,218.79 440.40,218.67 440.90,218.78 441.40,218.90 441.90,218.70 442.40,218.59 442.90,218.51 443.40,218.49 443.90,218.48 444.40,217.66 444.90,217.38 445.40,216.08 445.90,214.65 446.40,212.93 446.90,210.77 447.40,208.87 447.90,207.65 448.40,205.72 448.90,203.95 449.40,202.28 449.90,200.37 450.40,198.25 450.90,197.12 451.40,193.54 451.90,193.33 452.40,190.99 452.90,188.06 453.40,187.30 453.90,185.21 454.40,183.08 454.90,180.72 455.40,180.46 455.90,177.39 456.40,177.22 456.90,173.79 457.40,172.91 457.90,172.94 458.40,174.41 458.90,174.82 459.40,176.86 459.90,178.31 460.40,181.44 460.90,182.44 461.40,184.06 461.90,185.72 462.40,188.67 462.90,190.48 463.40,191.37 463.90,193.78 464.40,195.49 464.90,198.07 465.40,199.55 465.90,201.94 466.40,204.03 466.90,205.97 467.40,207.23 467.90,209.21 468.40,210.31 468.90,211.04 469.40,211.73 469.90,212.65 470.40,213.65 470.90,214.60 471.40,215.88 471.90,216.68 472.40,216.86 472.90,217.42 473.40,217.59 473.90,217.99 474.40,218.02 474.90,218.47 475.40,218.58 475.90,218.73 476.40,218.81 476.90,218.74 477.40,218.73 477.90,218.71 478.40,218.81 478.90,218.89 479.40,218.83 479.90,218.88 480.40,218.92 480.90,218.65 481.40,218.97 481.90,218.76 482.40,218.89 482.90,219.00 483.40,218.62 483.90,218.90 484.40,218.98 484.90,218.60 485.40,218.89 485.90,218.85 486.40,218.69 486.90,218.98 487.40,218.98 487.90,218.79 488.40,218.83 488.90,218.97 489.40,219.00 489.90,219.00 490.40,218.83 490.90,218.74 491.40,218.75 491.90,218.84 492.40,218.84 492.90,219.00 493.40,218.90 493.90,218.95 494.40,218.75 494.90,218.92 495.40,218.89 495.90,218.88 496.40,218.86 496.90,218.85 497.40,218.68 497.90,218.75 498.40,218.87 498.90,219.00 499.40,218.73 499.90,218.83 500.40,218.91 500.90,218.98 501.40,219.00 501.90,218.82 502.40,218.82 502.90,218.93 503.40,218.94 503.90,218.75 504.40,218.89 504.90,218.96 505.40,219.00 505.90,218.85 506.40,218.86 506.90,219.00 507.40,219.00 507.90,218.89 508.40,218.89 508.90,218.85 509.40,218.89 509.90,219.00 510.40,218.86 510.90,219.00 511.40,218.82 511.90,218.95 512.40,219.00 512.90,219.00 513.40,219.00 513.90,218.95 514.40,219.00" fill="none" stroke="#5a2a34" stroke-width="0.7" stroke-opacity="0.65" stroke-dasharray="1.3 1.5"/>
<line x1="438.70" y1="159.80" x2="438.70" y2="219.60" stroke="#808080" stroke-width="0.6" stroke-dasharray="0.5 1.1"/>
<line x1="437.80" y1="218.70" x2="515.20" y2="218.70" stroke="#777" stroke-width="0.6" stroke-dasharray="0.5 1.3"/>
<rect x="433.20" y="160.30" width="1.50" height="2.40" fill="#959595" stroke="none" stroke-width="1.0" />
<rect x="433.20" y="169.90" width="1.50" height="2.40" fill="#959595" stroke="none" stroke-width="1.0" />
<rect x="433.20" y="179.50" width="1.50" height="2.40" fill="#959595" stroke="none" stroke-width="1.0" />
<rect x="433.20" y="189.10" width="1.50" height="2.40" fill="#959595" stroke="none" stroke-width="1.0" />
<rect x="433.20" y="198.70" width="1.50" height="2.40" fill="#959595" stroke="none" stroke-width="1.0" />
<rect x="433.20" y="208.30" width="1.50" height="2.40" fill="#959595" stroke="none" stroke-width="1.0" />
<rect x="433.20" y="217.90" width="1.50" height="2.40" fill="#959595" stroke="none" stroke-width="1.0" />
<text x="432.20" y="193.20" font-size="3.2" fill="#8a8a8a" transform="rotate(-90 432.20 193.20)">Counts</text>
<line x1="437.40" y1="223.40" x2="439.00" y2="222.20" stroke="#8c8c8c" stroke-width="1.1" />
<rect x="438.80" y="221.20" width="0.90" height="0.90" fill="#a0a0a0" stroke="none" stroke-width="1.0" />
<line x1="466.40" y1="223.40" x2="468.00" y2="222.20" stroke="#8c8c8c" stroke-width="1.1" />
<rect x="467.80" y="221.20" width="0.90" height="0.90" fill="#a0a0a0" stroke="none" stroke-width="1.0" />
<line x1="495.40" y1="223.40" x2="497.00" y2="222.20" stroke="#8c8c8c" stroke-width="1.1" />
<rect x="496.80" y="221.20" width="0.90" height="0.90" fill="#a0a0a0" stroke="none" stroke-width="1.0" />
<text x="496.40" y="227.60" font-size="2.8" fill="#8a8a8a" text-anchor="middle">ALexa</text>
<text x="508.40" y="168.30" font-size="8.8" fill="#1a1a1a" text-anchor="end" stroke="#1a1a1a" stroke-width="0.28" >300 nM</text>
<text x="491.20" y="177.80" font-size="8.8" fill="#1a1a1a" text-anchor="middle" stroke="#1a1a1a" stroke-width="0.28" >(81)</text>
<text x="11.70" y="240.20" font-size="8.9" fill="#1a1a1a" text-anchor="start" stroke="#1a1a1a" stroke-width="0.28" >ALKi 26939/24 hrs (100 nM)</text>
<rect x="10.20" y="244.30" width="76.30" height="62.90" fill="#fff" stroke="#7c7c7c" stroke-width="1.0" />
<polyline points="10.80,306.60 11.30,306.52 11.80,306.52 12.30,306.41 12.80,306.60 13.30,306.24 13.80,306.34 14.30,306.47 14.80,306.46 15.30,306.41 15.80,306.29 16.30,305.97 16.80,305.97 17.30,306.12 17.80,305.89 18.30,304.85 18.80,304.09 19.30,303.46 19.80,302.24 20.30,301.28 20.80,300.04 21.30,298.72 21.80,298.06 22.30,296.61 22.80,295.04 23.30,293.20 23.80,292.04 24.30,290.01 24.80,287.01 25.30,286.34 25.80,284.38 26.30,282.32 26.80,281.30 27.30,279.90 27.80,277.59 28.30,276.98 28.80,277.74 29.30,276.12 29.80,276.22 30.30,275.57 30.80,273.71 31.30,272.09 31.80,273.29 32.30,272.77 32.80,275.32 33.30,275.29 33.80,276.13 34.30,276.92 34.80,277.12 35.30,278.21 35.80,279.73 36.30,281.04 36.80,281.33 37.30,281.79 37.80,282.91 38.30,284.29 38.80,285.25 39.30,284.66 39.80,285.96 40.30,287.42 40.80,287.86 41.30,288.84 41.80,290.21 42.30,291.31 42.80,291.54 43.30,292.63 43.80,293.17 44.30,294.05 44.80,295.01 45.30,295.94 45.80,296.51 46.30,297.23 46.80,297.60 47.30,298.17 47.80,298.46 48.30,299.04 48.80,300.12 49.30,300.56 49.80,301.49 50.30,301.68 50.80,302.10 51.30,302.04 51.80,302.53 52.30,302.89 52.80,302.99 53.30,303.75 53.80,303.60 54.30,303.77 54.80,303.90 55.30,304.73 55.80,304.87 56.30,305.47 56.80,305.10 57.30,305.57 57.80,305.62 58.30,306.01 58.80,305.90 59.30,306.06 59.80,306.25 60.30,306.34 60.80,306.40 61.30,306.48 61.80,306.60 62.30,306.32 62.80,306.51 63.30,306.50 63.80,306.50 64.30,306.55 64.80,306.54 65.30,306.46 65.80,306.57 66.30,306.37 66.80,306.56 67.30,306.39 67.80,306.60 68.30,306.51 68.80,306.46 69.30,306.38 69.80,306.38 70.30,306.60 70.80,306.60 71.30,306.36 71.80,306.60 72.30,306.60 72.80,306.42 73.30,306.49 73.80,306.60 74.30,306.60 74.80,306.41 75.30,306.60 75.80,306.60 76.30,306.60 76.80,306.42 77.30,306.60 77.80,306.54 78.30,306.58 78.80,306.54 79.30,306.51 79.80,306.60 80.30,306.53 80.80,306.55 81.30,306.44 81.80,306.60 82.30,306.60 82.80,306.60 83.30,306.60 83.80,306.44 84.30,306.55 84.80,306.60 85.30,306.60 85.80,306.53" fill="none" stroke="#9fd8a0" stroke-width="1.0" stroke-opacity="1.0" stroke-linejoin="round" stroke-dasharray="1.6 1.0"/>
<polyline points="10.80,306.57 11.30,306.60 11.80,306.52 12.30,306.50 12.80,306.60 13.30,306.60 13.80,306.56 14.30,306.59 14.80,306.56 15.30,306.60 15.80,306.47 16.30,306.47 16.80,306.53 17.30,306.43 17.80,306.48 18.30,306.60 18.80,306.48 19.30,306.54 19.80,305.95 20.30,304.86 20.80,303.00 21.30,300.97 21.80,298.30 22.30,296.48 22.80,294.39 23.30,292.19 23.80,289.72 24.30,287.68 24.80,285.63 25.30,283.61 25.80,280.83 26.30,279.99 26.80,278.07 27.30,276.43 27.80,274.74 28.30,274.87 28.80,276.58 29.30,278.13 29.80,279.31 30.30,279.82 30.80,280.98 31.30,282.27 31.80,283.98 32.30,284.77 32.80,285.99 33.30,287.11 33.80,288.03 34.30,289.45 34.80,290.45 35.30,291.84 35.80,292.87 36.30,293.77 36.80,295.36 37.30,295.87 37.80,296.79 38.30,297.71 38.80,298.47 39.30,298.89 39.80,300.36 40.30,300.80 40.80,302.26 41.30,302.83 41.80,303.50 42.30,304.00 42.80,304.38 43.30,304.70 43.80,305.17 44.30,305.50 44.80,305.65 45.30,306.08 45.80,306.44 46.30,306.56 46.80,306.58 47.30,306.46 47.80,306.49 48.30,306.44 48.80,306.55 49.30,306.49 49.80,306.45 50.30,306.54 50.80,306.47 51.30,306.57 51.80,306.55 52.30,306.55 52.80,306.60 53.30,306.47 53.80,306.56 54.30,306.52 54.80,306.48 55.30,306.48 55.80,306.46 56.30,306.53 56.80,306.57 57.30,306.54 57.80,306.60 58.30,306.60 58.80,306.60 59.30,306.60 59.80,306.50 60.30,306.60 60.80,306.57 61.30,306.42 61.80,306.57 62.30,306.48 62.80,306.60 63.30,306.56 63.80,306.60 64.30,306.58 64.80,306.47 65.30,306.60 65.80,306.51 66.30,306.53 66.80,306.60 67.30,306.60 67.80,306.55 68.30,306.60 68.80,306.54 69.30,306.56 69.80,306.42 70.30,306.58 70.80,306.60 71.30,306.55 71.80,306.55 72.30,306.45 72.80,306.49 73.30,306.54 73.80,306.44 74.30,306.60 74.80,306.60 75.30,306.60 75.80,306.60 76.30,306.60 76.80,306.52 77.30,306.60 77.80,306.60 78.30,306.60 78.80,306.55 79.30,306.51 79.80,306.41 80.30,306.33 80.80,306.55 81.30,306.60 81.80,306.60 82.30,306.57 82.80,306.60 83.30,306.60 83.80,306.60 84.30,306.60 84.80,306.50 85.30,306.58 85.80,306.60" fill="none" stroke="#cfc6e0" stroke-width="0.8" stroke-opacity="1.0" stroke-linejoin="round"/>
<polyline points="10.80,306.43 11.30,306.04 11.80,305.75 12.30,305.33 12.80,305.02 13.30,304.03 13.80,303.70 14.30,303.14 14.80,302.70 15.30,301.37 15.80,300.26 16.30,299.28 16.80,298.15 17.30,296.82 17.80,295.49 18.30,293.30 18.80,291.20 19.30,288.27 19.80,286.15 20.30,283.66 20.80,280.36 21.30,279.03 21.80,277.17 22.30,273.96 22.80,272.99 23.30,269.52 23.80,266.94 24.30,265.42 24.80,263.57 25.30,262.97 25.80,259.79 26.30,259.13 26.80,260.73 27.30,260.26 27.80,263.61 28.30,265.33 28.80,266.80 29.30,267.12 29.80,268.29 30.30,269.71 30.80,272.16 31.30,275.34 31.80,277.92 32.30,282.06 32.80,285.29 33.30,287.25 33.80,290.69 34.30,293.30 34.80,295.35 35.30,297.27 35.80,298.60 36.30,299.57 36.80,300.91 37.30,301.33 37.80,301.86 38.30,302.49 38.80,302.44 39.30,303.29 39.80,303.39 40.30,303.77 40.80,303.81 41.30,304.39 41.80,304.42 42.30,304.47 42.80,304.55 43.30,304.56 43.80,304.78 44.30,304.95 44.80,304.92 45.30,304.89 45.80,305.52 46.30,305.44 46.80,305.45 47.30,305.63 47.80,305.55 48.30,305.87 48.80,306.05 49.30,305.90 49.80,306.44 50.30,306.25 50.80,306.01 51.30,306.37 51.80,306.41 52.30,306.59 52.80,306.50 53.30,306.52 53.80,306.31 54.30,306.60 54.80,306.60 55.30,306.47 55.80,306.35 56.30,306.59 56.80,306.60 57.30,306.60 57.80,306.47 58.30,306.58 58.80,306.52 59.30,306.60 59.80,306.58 60.30,306.44 60.80,306.55 61.30,306.60 61.80,306.42 62.30,306.43 62.80,306.58 63.30,306.60 63.80,306.40 64.30,306.59 64.80,306.56 65.30,306.35 65.80,306.52 66.30,306.59 66.80,306.60 67.30,306.54 67.80,306.56 68.30,306.60 68.80,306.45 69.30,306.60 69.80,306.60 70.30,306.60 70.80,306.56 71.30,306.60 71.80,306.60 72.30,306.60 72.80,306.57 73.30,306.60 73.80,306.47 74.30,306.60 74.80,306.53 75.30,306.60 75.80,306.53 76.30,306.37 76.80,306.59 77.30,306.56 77.80,306.50 78.30,306.60 78.80,306.52 79.30,306.50 79.80,306.60 80.30,306.52 80.80,306.58 81.30,306.60 81.80,306.60 82.30,306.50 82.80,306.41 83.30,306.60 83.80,306.56 84.30,306.60 84.80,306.60 85.30,306.60 85.80,306.60" fill="none" stroke="#c8101c" stroke-width="1.7" stroke-opacity="1.0" stroke-linejoin="round"/>
<line x1="10.90" y1="306.60" x2="10.90" y2="287.50" stroke="#c8101c" stroke-width="1.0" />
<line x1="11.10" y1="247.30" x2="11.10" y2="307.20" stroke="#808080" stroke-width="0.6" stroke-dasharray="0.5 1.1"/>
<line x1="10.20" y1="306.30" x2="86.50" y2="306.30" stroke="#777" stroke-width="0.6" stroke-dasharray="0.5 1.3"/>
<rect x="5.60" y="247.80" width="1.50" height="2.40" fill="#959595" stroke="none" stroke-width="1.0" />
<rect x="5.60" y="257.42" width="1.50" height="2.40" fill="#959595" stroke="none" stroke-width="1.0" />
<rect x="5.60" y="267.03" width="1.50" height="2.40" fill="#959595" stroke="none" stroke-width="1.0" />
<rect x="5.60" y="276.65" width="1.50" height="2.40" fill="#959595" stroke="none" stroke-width="1.0" />
<rect x="5.60" y="286.27" width="1.50" height="2.40" fill="#959595" stroke="none" stroke-width="1.0" />
<rect x="5.60" y="295.88" width="1.50" height="2.40" fill="#959595" stroke="none" stroke-width="1.0" />
<rect x="5.60" y="305.50" width="1.50" height="2.40" fill="#959595" stroke="none" stroke-width="1.0" />
<text x="4.60" y="280.75" font-size="3.2" fill="#8a8a8a" transform="rotate(-90 4.60 280.75)">Counts</text>
<line x1="9.80" y1="311.00" x2="11.40" y2="309.80" stroke="#8c8c8c" stroke-width="1.1" />
<rect x="11.20" y="308.80" width="0.90" height="0.90" fill="#a0a0a0" stroke="none" stroke-width="1.0" />
<line x1="38.30" y1="311.00" x2="39.90" y2="309.80" stroke="#8c8c8c" stroke-width="1.1" />
<rect x="39.70" y="308.80" width="0.90" height="0.90" fill="#a0a0a0" stroke="none" stroke-width="1.0" />
<line x1="66.80" y1="311.00" x2="68.40" y2="309.80" stroke="#8c8c8c" stroke-width="1.1" />
<rect x="68.20" y="308.80" width="0.90" height="0.90" fill="#a0a0a0" stroke="none" stroke-width="1.0" />
<text x="67.80" y="315.20" font-size="2.8" fill="#8a8a8a" text-anchor="middle">ALexa</text>
<text x="80.90" y="255.40" font-size="8.8" fill="#1a1a1a" text-anchor="end" stroke="#1a1a1a" stroke-width="0.28" >Karpas 299</text>
<text x="59.60" y="265.20" font-size="8.8" fill="#1a1a1a" text-anchor="middle" stroke="#1a1a1a" stroke-width="0.28" >(57)</text>
<rect x="97.30" y="244.30" width="71.90" height="62.90" fill="#fff" stroke="#7c7c7c" stroke-width="1.0" />
<polyline points="97.90,306.42 98.40,306.58 98.90,306.54 99.40,306.44 99.90,306.47 100.40,306.49 100.90,306.60 101.40,306.60 101.90,306.49 102.40,306.59 102.90,306.41 103.40,306.47 103.90,306.53 104.40,306.21 104.90,305.89 105.40,305.69 105.90,305.59 106.40,305.11 106.90,304.81 107.40,304.43 107.90,304.11 108.40,303.83 108.90,302.38 109.40,300.17 109.90,299.06 110.40,296.06 110.90,294.79 111.40,292.61 111.90,289.63 112.40,288.47 112.90,286.84 113.40,285.12 113.90,284.27 114.40,283.60 114.90,282.04 115.40,279.78 115.90,279.58 116.40,278.90 116.90,278.07 117.40,277.03 117.90,277.10 118.40,278.52 118.90,278.05 119.40,278.86 119.90,278.22 120.40,280.04 120.90,279.55 121.40,281.67 121.90,281.19 122.40,282.37 122.90,282.97 123.40,282.39 123.90,284.03 124.40,283.99 124.90,284.84 125.40,284.66 125.90,285.25 126.40,287.38 126.90,286.59 127.40,288.45 127.90,288.15 128.40,289.96 128.90,291.11 129.40,293.94 129.90,293.09 130.40,295.05 130.90,296.70 131.40,296.85 131.90,297.17 132.40,298.97 132.90,298.63 133.40,299.81 133.90,300.55 134.40,301.16 134.90,301.93 135.40,302.21 135.90,302.66 136.40,302.81 136.90,303.07 137.40,303.84 137.90,303.84 138.40,304.69 138.90,304.63 139.40,305.30 139.90,305.48 140.40,305.47 140.90,305.84 141.40,305.77 141.90,306.20 142.40,306.20 142.90,306.15 143.40,306.14 143.90,306.59 144.40,306.29 144.90,306.47 145.40,306.22 145.90,306.54 146.40,306.57 146.90,306.47 147.40,306.60 147.90,306.50 148.40,306.52 148.90,306.36 149.40,306.48 149.90,306.60 150.40,306.60 150.90,306.60 151.40,306.60 151.90,306.60 152.40,306.27 152.90,306.60 153.40,306.38 153.90,306.60 154.40,306.59 154.90,306.60 155.40,306.39 155.90,306.60 156.40,306.35 156.90,306.60 157.40,306.40 157.90,306.37 158.40,306.60 158.90,306.50 159.40,306.60 159.90,306.60 160.40,306.55 160.90,306.47 161.40,306.41 161.90,306.60 162.40,306.45 162.90,306.51 163.40,306.58 163.90,306.60 164.40,306.58 164.90,306.16 165.40,306.60 165.90,306.60 166.40,306.60 166.90,306.43 167.40,306.38 167.90,306.44 168.40,306.36" fill="none" stroke="#9fd8a0" stroke-width="1.0" stroke-opacity="1.0" stroke-linejoin="round" stroke-dasharray="1.6 1.0"/>
<polyline points="97.90,306.60 98.40,306.60 98.90,306.58 99.40,306.51 99.90,306.59 100.40,306.55 100.90,306.52 101.40,306.50 101.90,306.60 102.40,306.50 102.90,306.54 103.40,306.59 103.90,306.59 104.40,306.54 104.90,306.60 105.40,306.60 105.90,306.32 106.40,305.80 106.90,305.29 107.40,304.46 107.90,303.95 108.40,303.38 108.90,302.80 109.40,301.95 109.90,300.42 110.40,299.18 110.90,297.59 111.40,294.93 111.90,292.89 112.40,290.77 112.90,288.67 113.40,286.60 113.90,284.28 114.40,282.92 114.90,280.96 115.40,279.14 115.90,277.22 116.40,275.96 116.90,273.88 117.40,272.82 117.90,273.30 118.40,271.92 118.90,272.68 119.40,274.57 119.90,277.17 120.40,278.05 120.90,279.85 121.40,280.90 121.90,282.07 122.40,283.62 122.90,285.52 123.40,285.96 123.90,287.43 124.40,288.23 124.90,289.88 125.40,290.87 125.90,292.14 126.40,293.50 126.90,294.50 127.40,296.41 127.90,298.30 128.40,300.48 128.90,302.01 129.40,303.32 129.90,304.19 130.40,305.13 130.90,305.30 131.40,306.01 131.90,306.39 132.40,306.36 132.90,306.56 133.40,306.48 133.90,306.42 134.40,306.46 134.90,306.60 135.40,306.57 135.90,306.57 136.40,306.48 136.90,306.49 137.40,306.42 137.90,306.48 138.40,306.44 138.90,306.54 139.40,306.56 139.90,306.60 140.40,306.59 140.90,306.60 141.40,306.60 141.90,306.40 142.40,306.51 142.90,306.53 143.40,306.55 143.90,306.58 144.40,306.55 144.90,306.45 145.40,306.60 145.90,306.60 146.40,306.60 146.90,306.58 147.40,306.31 147.90,306.38 148.40,306.37 148.90,306.60 149.40,306.60 149.90,306.47 150.40,306.60 150.90,306.53 151.40,306.60 151.90,306.45 152.40,306.57 152.90,306.59 153.40,306.31 153.90,306.54 154.40,306.60 154.90,306.60 155.40,306.46 155.90,306.60 156.40,306.43 156.90,306.60 157.40,306.56 157.90,306.60 158.40,306.49 158.90,306.48 159.40,306.54 159.90,306.60 160.40,306.60 160.90,306.60 161.40,306.60 161.90,306.60 162.40,306.48 162.90,306.60 163.40,306.60 163.90,306.48 164.40,306.57 164.90,306.60 165.40,306.51 165.90,306.56 166.40,306.57 166.90,306.59 167.40,306.48 167.90,306.46 168.40,306.60" fill="none" stroke="#bccbea" stroke-width="0.8" stroke-opacity="1.0" stroke-linejoin="round"/>
<polyline points="97.90,306.19 98.40,305.00 98.90,304.33 99.40,303.73 99.90,303.87 100.40,303.66 100.90,302.96 101.40,302.46 101.90,301.70 102.40,300.73 102.90,299.49 103.40,298.08 103.90,296.57 104.40,294.66 104.90,291.49 105.40,287.14 105.90,283.53 106.40,279.77 106.90,275.21 107.40,271.02 107.90,267.91 108.40,265.39 108.90,261.56 109.40,258.66 109.90,256.65 110.40,257.21 110.90,256.18 111.40,256.90 111.90,258.03 112.40,260.69 112.90,264.39 113.40,265.83 113.90,269.43 114.40,272.42 114.90,275.83 115.40,278.83 115.90,281.34 116.40,285.17 116.90,286.86 117.40,289.49 117.90,291.42 118.40,293.21 118.90,294.79 119.40,295.60 119.90,296.43 120.40,297.97 120.90,298.01 121.40,298.81 121.90,299.02 122.40,300.40 122.90,300.41 123.40,301.01 123.90,301.54 124.40,302.31 124.90,302.45 125.40,302.95 125.90,303.60 126.40,303.99 126.90,304.05 127.40,304.47 127.90,304.54 128.40,304.63 128.90,305.19 129.40,305.42 129.90,305.79 130.40,305.97 130.90,305.85 131.40,306.02 131.90,305.96 132.40,306.03 132.90,306.28 133.40,306.33 133.90,306.55 134.40,306.46 134.90,306.60 135.40,306.47 135.90,306.40 136.40,306.60 136.90,306.60 137.40,306.46 137.90,306.48 138.40,306.48 138.90,306.60 139.40,306.37 139.90,306.48 140.40,306.50 140.90,306.44 141.40,306.46 141.90,306.46 142.40,306.54 142.90,306.56 143.40,306.60 143.90,306.44 144.40,306.36 144.90,306.60 145.40,306.49 145.90,306.55 146.40,306.60 146.90,306.60 147.40,306.60 147.90,306.47 148.40,306.57 148.90,306.50 149.40,306.41 149.90,306.50 150.40,306.60 150.90,306.43 151.40,306.56 151.90,306.55 152.40,306.60 152.90,306.56 153.40,306.60 153.90,306.60 154.40,306.60 154.90,306.45 155.40,306.46 155.90,306.60 156.40,306.60 156.90,306.55 157.40,306.60 157.90,306.60 158.40,306.51 158.90,306.38 159.40,306.52 159.90,306.57 160.40,306.55 160.90,306.56 161.40,306.60 161.90,306.55 162.40,306.59 162.90,306.53 163.40,306.58 163.90,306.47 164.40,306.52 164.90,306.56 165.40,306.60 165.90,306.42 166.40,306.41 166.90,306.46 167.40,306.50 167.90,306.60 168.40,306.59" fill="none" stroke="#c8101c" stroke-width="1.7" stroke-opacity="1.0" stroke-linejoin="round"/>
<line x1="97.90" y1="306.60" x2="97.90" y2="250.00" stroke="#c8101c" stroke-width="1.0" />
<line x1="98.20" y1="247.30" x2="98.20" y2="307.20" stroke="#808080" stroke-width="0.6" stroke-dasharray="0.5 1.1"/>
<line x1="97.30" y1="306.30" x2="169.20" y2="306.30" stroke="#777" stroke-width="0.6" stroke-dasharray="0.5 1.3"/>
<rect x="92.70" y="247.80" width="1.50" height="2.40" fill="#959595" stroke="none" stroke-width="1.0" />
<rect x="92.70" y="257.42" width="1.50" height="2.40" fill="#959595" stroke="none" stroke-width="1.0" />
<rect x="92.70" y="267.03" width="1.50" height="2.40" fill="#959595" stroke="none" stroke-width="1.0" />
<rect x="92.70" y="276.65" width="1.50" height="2.40" fill="#959595" stroke="none" stroke-width="1.0" />
<rect x="92.70" y="286.27" width="1.50" height="2.40" fill="#959595" stroke="none" stroke-width="1.0" />
<rect x="92.70" y="295.88" width="1.50" height="2.40" fill="#959595" stroke="none" stroke-width="1.0" />
<rect x="92.70" y="305.50" width="1.50" height="2.40" fill="#959595" stroke="none" stroke-width="1.0" />
<text x="91.70" y="280.75" font-size="3.2" fill="#8a8a8a" transform="rotate(-90 91.70 280.75)">Counts</text>
<line x1="96.90" y1="311.00" x2="98.50" y2="309.80" stroke="#8c8c8c" stroke-width="1.1" />
<rect x="98.30" y="308.80" width="0.90" height="0.90" fill="#a0a0a0" stroke="none" stroke-width="1.0" />
<line x1="125.40" y1="311.00" x2="127.00" y2="309.80" stroke="#8c8c8c" stroke-width="1.1" />
<rect x="126.80" y="308.80" width="0.90" height="0.90" fill="#a0a0a0" stroke="none" stroke-width="1.0" />
<line x1="153.90" y1="311.00" x2="155.50" y2="309.80" stroke="#8c8c8c" stroke-width="1.1" />
<rect x="155.30" y="308.80" width="0.90" height="0.90" fill="#a0a0a0" stroke="none" stroke-width="1.0" />
<text x="154.90" y="315.20" font-size="2.8" fill="#8a8a8a" text-anchor="middle">ALexa</text>
<text x="162.80" y="255.40" font-size="8.8" fill="#1a1a1a" text-anchor="end" stroke="#1a1a1a" stroke-width="0.28" >L82</text>
<text x="156.60" y="265.20" font-size="8.8" fill="#1a1a1a" text-anchor="middle" stroke="#1a1a1a" stroke-width="0.28" >(29)</text>
<rect x="179.50" y="244.30" width="73.10" height="62.90" fill="#fff" stroke="#7c7c7c" stroke-width="1.0" />
<polyline points="180.10,306.60 180.60,306.58 181.10,306.60 181.60,306.60 182.10,306.60 182.60,306.60 183.10,306.60 183.60,306.60 184.10,306.59 184.60,306.60 185.10,306.56 185.60,306.48 186.10,306.52 186.60,306.44 187.10,306.32 187.60,306.60 188.10,306.34 188.60,306.60 189.10,306.54 189.60,306.40 190.10,306.35 190.60,306.43 191.10,306.42 191.60,306.34 192.10,306.49 192.60,306.39 193.10,306.47 193.60,306.38 194.10,306.23 194.60,305.35 195.10,305.21 195.60,305.16 196.10,304.91 196.60,304.62 197.10,304.43 197.60,303.83 198.10,302.90 198.60,301.50 199.10,300.71 199.60,300.34 200.10,298.39 200.60,297.47 201.10,296.74 201.60,295.78 202.10,294.59 202.60,293.74 203.10,293.16 203.60,290.91 204.10,290.35 204.60,289.59 205.10,289.16 205.60,288.20 206.10,285.91 206.60,285.09 207.10,283.79 207.60,283.56 208.10,281.74 208.60,281.38 209.10,279.75 209.60,278.52 210.10,276.76 210.60,277.46 211.10,277.03 211.60,275.18 212.10,274.35 212.60,275.28 213.10,273.47 213.60,273.46 214.10,275.37 214.60,276.10 215.10,276.76 215.60,277.97 216.10,279.58 216.60,280.79 217.10,281.51 217.60,282.37 218.10,283.85 218.60,285.15 219.10,285.36 219.60,286.27 220.10,287.18 220.60,288.92 221.10,288.91 221.60,289.54 222.10,292.08 222.60,292.55 223.10,293.32 223.60,295.28 224.10,295.33 224.60,296.42 225.10,296.88 225.60,297.94 226.10,298.37 226.60,298.99 227.10,299.80 227.60,300.05 228.10,301.22 228.60,301.69 229.10,302.31 229.60,302.83 230.10,303.11 230.60,303.11 231.10,303.40 231.60,303.53 232.10,304.24 232.60,304.22 233.10,304.58 233.60,304.78 234.10,304.91 234.60,304.99 235.10,305.74 235.60,305.76 236.10,305.56 236.60,305.75 237.10,305.67 237.60,305.88 238.10,306.09 238.60,306.14 239.10,306.03 239.60,306.46 240.10,306.47 240.60,306.60 241.10,306.56 241.60,306.48 242.10,306.54 242.60,306.49 243.10,306.60 243.60,306.57 244.10,306.54 244.60,306.54 245.10,306.36 245.60,306.60 246.10,306.43 246.60,306.47 247.10,306.60 247.60,306.60 248.10,306.51 248.60,306.37 249.10,306.60 249.60,306.60 250.10,306.57 250.60,306.60 251.10,306.55 251.60,306.42" fill="none" stroke="#9fd8a0" stroke-width="1.0" stroke-opacity="1.0" stroke-linejoin="round" stroke-dasharray="1.6 1.0"/>
<polyline points="180.10,306.60 180.60,306.48 181.10,306.57 181.60,306.46 182.10,306.57 182.60,306.60 183.10,306.49 183.60,306.60 184.10,306.52 184.60,306.45 185.10,306.48 185.60,306.51 186.10,306.60 186.60,306.54 187.10,306.60 187.60,306.40 188.10,306.47 188.60,306.44 189.10,306.41 189.60,306.44 190.10,306.41 190.60,306.17 191.10,305.90 191.60,305.69 192.10,305.32 192.60,305.16 193.10,304.76 193.60,304.53 194.10,304.13 194.60,303.10 195.10,302.55 195.60,301.07 196.10,300.26 196.60,298.63 197.10,297.28 197.60,296.18 198.10,295.02 198.60,293.59 199.10,292.16 199.60,290.44 200.10,290.33 200.60,288.27 201.10,286.09 201.60,284.30 202.10,281.98 202.60,280.07 203.10,278.55 203.60,276.57 204.10,275.22 204.60,273.18 205.10,271.48 205.60,268.72 206.10,267.69 206.60,268.10 207.10,268.44 207.60,270.01 208.10,271.78 208.60,273.56 209.10,275.15 209.60,275.56 210.10,278.76 210.60,280.23 211.10,280.23 211.60,282.27 212.10,283.89 212.60,284.96 213.10,286.88 213.60,288.15 214.10,290.09 214.60,291.46 215.10,291.87 215.60,293.19 216.10,294.57 216.60,295.57 217.10,296.06 217.60,297.01 218.10,298.03 218.60,298.92 219.10,300.00 219.60,300.70 220.10,301.59 220.60,302.48 221.10,303.42 221.60,303.81 222.10,304.55 222.60,304.82 223.10,305.05 223.60,305.48 224.10,305.73 224.60,306.04 225.10,306.25 225.60,306.47 226.10,306.53 226.60,306.52 227.10,306.54 227.60,306.58 228.10,306.36 228.60,306.47 229.10,306.39 229.60,306.38 230.10,306.55 230.60,306.53 231.10,306.60 231.60,306.53 232.10,306.59 232.60,306.29 233.10,306.51 233.60,306.60 234.10,306.53 234.60,306.44 235.10,306.50 235.60,306.60 236.10,306.31 236.60,306.49 237.10,306.59 237.60,306.60 238.10,306.60 238.60,306.56 239.10,306.48 239.60,306.48 240.10,306.52 240.60,306.60 241.10,306.45 241.60,306.53 242.10,306.57 242.60,306.60 243.10,306.54 243.60,306.50 244.10,306.48 244.60,306.60 245.10,306.55 245.60,306.58 246.10,306.58 246.60,306.59 247.10,306.58 247.60,306.60 248.10,306.60 248.60,306.60 249.10,306.59 249.60,306.59 250.10,306.60 250.60,306.59 251.10,306.50 251.60,306.60" fill="none" stroke="#d6cee4" stroke-width="0.8" stroke-opacity="1.0" stroke-linejoin="round"/>
<polyline points="180.10,306.35 180.60,305.83 181.10,305.51 181.60,305.43 182.10,304.93 182.60,304.68 183.10,304.54 183.60,304.43 184.10,303.73 184.60,303.45 185.10,302.38 185.60,301.60 186.10,300.27 186.60,299.62 187.10,298.07 187.60,295.68 188.10,292.97 188.60,289.96 189.10,286.80 189.60,282.46 190.10,277.98 190.60,274.48 191.10,270.24 191.60,266.32 192.10,263.37 192.60,261.23 193.10,258.82 193.60,257.70 194.10,255.95 194.60,254.87 195.10,256.64 195.60,256.94 196.10,258.75 196.60,260.11 197.10,263.37 197.60,266.72 198.10,270.72 198.60,273.59 199.10,278.01 199.60,282.71 200.10,287.97 200.60,291.44 201.10,293.49 201.60,295.18 202.10,297.04 202.60,298.81 203.10,299.40 203.60,299.91 204.10,300.69 204.60,300.99 205.10,301.26 205.60,301.51 206.10,302.12 206.60,302.75 207.10,302.69 207.60,302.59 208.10,302.94 208.60,303.10 209.10,303.27 209.60,303.35 210.10,303.45 210.60,303.45 211.10,303.90 211.60,304.02 212.10,304.15 212.60,303.94 213.10,304.09 213.60,304.30 214.10,304.04 214.60,304.11 215.10,304.24 215.60,304.41 216.10,304.78 216.60,304.45 217.10,304.53 217.60,304.79 218.10,304.95 218.60,304.73 219.10,304.94 219.60,304.74 220.10,305.23 220.60,305.19 221.10,305.25 221.60,305.32 222.10,305.40 222.60,305.48 223.10,305.60 223.60,305.97 224.10,305.64 224.60,305.67 225.10,305.76 225.60,305.99 226.10,305.85 226.60,305.75 227.10,305.92 227.60,306.29 228.10,306.27 228.60,306.37 229.10,306.28 229.60,306.43 230.10,306.48 230.60,306.35 231.10,306.40 231.60,306.51 232.10,306.36 232.60,306.60 233.10,306.39 233.60,306.60 234.10,306.33 234.60,306.46 235.10,306.56 235.60,306.54 236.10,306.60 236.60,306.56 237.10,306.49 237.60,306.57 238.10,306.46 238.60,306.54 239.10,306.60 239.60,306.51 240.10,306.60 240.60,306.60 241.10,306.60 241.60,306.51 242.10,306.60 242.60,306.35 243.10,306.57 243.60,306.47 244.10,306.41 244.60,306.60 245.10,306.54 245.60,306.60 246.10,306.59 246.60,306.39 247.10,306.60 247.60,306.60 248.10,306.52 248.60,306.60 249.10,306.60 249.60,306.59 250.10,306.43 250.60,306.58 251.10,306.41 251.60,306.60" fill="none" stroke="#c8101c" stroke-width="1.7" stroke-opacity="1.0" stroke-linejoin="round"/>
<line x1="180.20" y1="306.60" x2="180.20" y2="267.30" stroke="#c8101c" stroke-width="1.0" />
<line x1="180.40" y1="247.30" x2="180.40" y2="307.20" stroke="#808080" stroke-width="0.6" stroke-dasharray="0.5 1.1"/>
<line x1="179.50" y1="306.30" x2="252.60" y2="306.30" stroke="#777" stroke-width="0.6" stroke-dasharray="0.5 1.3"/>
<rect x="174.90" y="247.80" width="1.50" height="2.40" fill="#959595" stroke="none" stroke-width="1.0" />
<rect x="174.90" y="257.42" width="1.50" height="2.40" fill="#959595" stroke="none" stroke-width="1.0" />
<rect x="174.90" y="267.03" width="1.50" height="2.40" fill="#959595" stroke="none" stroke-width="1.0" />
<rect x="174.90" y="276.65" width="1.50" height="2.40" fill="#959595" stroke="none" stroke-width="1.0" />
<rect x="174.90" y="286.27" width="1.50" height="2.40" fill="#959595" stroke="none" stroke-width="1.0" />
<rect x="174.90" y="295.88" width="1.50" height="2.40" fill="#959595" stroke="none" stroke-width="1.0" />
<rect x="174.90" y="305.50" width="1.50" height="2.40" fill="#959595" stroke="none" stroke-width="1.0" />
<text x="173.90" y="280.75" font-size="3.2" fill="#8a8a8a" transform="rotate(-90 173.90 280.75)">Counts</text>
<line x1="179.10" y1="311.00" x2="180.70" y2="309.80" stroke="#8c8c8c" stroke-width="1.1" />
<rect x="180.50" y="308.80" width="0.90" height="0.90" fill="#a0a0a0" stroke="none" stroke-width="1.0" />
<line x1="207.60" y1="311.00" x2="209.20" y2="309.80" stroke="#8c8c8c" stroke-width="1.1" />
<rect x="209.00" y="308.80" width="0.90" height="0.90" fill="#a0a0a0" stroke="none" stroke-width="1.0" />
<line x1="236.10" y1="311.00" x2="237.70" y2="309.80" stroke="#8c8c8c" stroke-width="1.1" />
<rect x="237.50" y="308.80" width="0.90" height="0.90" fill="#a0a0a0" stroke="none" stroke-width="1.0" />
<text x="237.10" y="315.20" font-size="2.8" fill="#8a8a8a" text-anchor="middle">ALexa</text>
<text x="247.80" y="255.40" font-size="8.8" fill="#1a1a1a" text-anchor="end" stroke="#1a1a1a" stroke-width="0.28" >SR786</text>
<text x="235.00" y="265.20" font-size="8.8" fill="#1a1a1a" text-anchor="middle" stroke="#1a1a1a" stroke-width="0.28" >(36)</text>
<rect x="265.60" y="244.30" width="75.30" height="62.90" fill="#fff" stroke="#7c7c7c" stroke-width="1.0" />
<polyline points="266.20,306.52 266.70,306.60 267.20,306.49 267.70,306.60 268.20,306.33 268.70,306.60 269.20,306.51 269.70,306.47 270.20,306.55 270.70,306.56 271.20,306.60 271.70,306.60 272.20,306.60 272.70,306.58 273.20,306.60 273.70,306.60 274.20,306.60 274.70,306.53 275.20,306.60 275.70,306.60 276.20,306.60 276.70,306.60 277.20,306.60 277.70,306.60 278.20,306.60 278.70,306.60 279.20,306.51 279.70,306.60 280.20,306.48 280.70,306.50 281.20,306.48 281.70,306.51 282.20,306.38 282.70,306.23 283.20,306.58 283.70,306.60 284.20,306.49 284.70,306.21 285.20,306.53 285.70,306.57 286.20,306.60 286.70,306.60 287.20,306.60 287.70,306.07 288.20,306.60 288.70,306.60 289.20,306.57 289.70,306.41 290.20,306.60 290.70,306.60 291.20,306.53 291.70,306.39 292.20,306.60 292.70,306.48 293.20,306.22 293.70,306.60 294.20,306.60 294.70,306.46 295.20,306.39 295.70,306.57 296.20,306.51 296.70,306.41 297.20,306.37 297.70,306.48 298.20,306.30 298.70,306.60 299.20,306.22 299.70,306.32 300.20,305.92 300.70,305.93 301.20,305.51 301.70,305.71 302.20,305.59 302.70,305.32 303.20,304.69 303.70,304.14 304.20,303.48 304.70,302.43 305.20,300.86 305.70,299.31 306.20,299.46 306.70,297.67 307.20,297.77 307.70,295.55 308.20,295.07 308.70,293.67 309.20,291.64 309.70,289.92 310.20,290.37 310.70,289.70 311.20,288.48 311.70,286.40 312.20,285.70 312.70,284.94 313.20,284.30 313.70,282.70 314.20,282.27 314.70,280.27 315.20,281.10 315.70,279.22 316.20,279.27 316.70,278.84 317.20,278.62 317.70,279.29 318.20,276.63 318.70,275.51 319.20,276.35 319.70,277.46 320.20,277.95 320.70,278.77 321.20,279.90 321.70,278.66 322.20,281.55 322.70,282.53 323.20,285.77 323.70,286.31 324.20,288.37 324.70,289.91 325.20,292.71 325.70,293.79 326.20,295.27 326.70,296.57 327.20,297.26 327.70,297.61 328.20,298.66 328.70,299.80 329.20,300.62 329.70,300.75 330.20,301.61 330.70,302.01 331.20,302.58 331.70,303.15 332.20,303.25 332.70,303.99 333.20,304.48 333.70,304.77 334.20,305.03 334.70,305.70 335.20,305.76 335.70,306.07 336.20,305.95 336.70,306.17 337.20,306.00 337.70,306.57 338.20,306.48 338.70,306.25 339.20,306.20 339.70,306.60 340.20,306.52" fill="none" stroke="#6ee03a" stroke-width="1.8" stroke-opacity="1.0" stroke-linejoin="round"/>
<polyline points="266.20,306.52 266.70,306.60 267.20,306.49 267.70,306.60 268.20,306.33 268.70,306.60 269.20,306.51 269.70,306.47 270.20,306.55 270.70,306.56 271.20,306.60 271.70,306.60 272.20,306.60 272.70,306.58 273.20,306.60 273.70,306.60 274.20,306.60 274.70,306.53 275.20,306.60 275.70,306.60 276.20,306.60 276.70,306.60 277.20,306.60 277.70,306.60 278.20,306.60 278.70,306.60 279.20,306.51 279.70,306.60 280.20,306.48 280.70,306.50 281.20,306.48 281.70,306.51 282.20,306.38 282.70,306.23 283.20,306.58 283.70,306.60 284.20,306.49 284.70,306.21 285.20,306.53 285.70,306.57 286.20,306.60 286.70,306.60 287.20,306.60 287.70,306.07 288.20,306.60 288.70,306.60 289.20,306.57 289.70,306.41 290.20,306.60 290.70,306.60 291.20,306.53 291.70,306.39 292.20,306.60 292.70,306.48 293.20,306.22 293.70,306.60 294.20,306.60 294.70,306.46 295.20,306.39 295.70,306.57 296.20,306.51 296.70,306.41 297.20,306.37 297.70,306.48 298.20,306.30 298.70,306.60 299.20,306.22 299.70,306.32 300.20,305.92 300.70,305.93 301.20,305.51 301.70,305.71 302.20,305.59 302.70,305.32 303.20,304.69 303.70,304.14 304.20,303.48 304.70,302.43 305.20,300.86 305.70,299.31 306.20,299.46 306.70,297.67 307.20,297.77 307.70,295.55 308.20,295.07 308.70,293.67 309.20,291.64 309.70,289.92 310.20,290.37 310.70,289.70 311.20,288.48 311.70,286.40 312.20,285.70 312.70,284.94 313.20,284.30 313.70,282.70 314.20,282.27 314.70,280.27 315.20,281.10 315.70,279.22 316.20,279.27 316.70,278.84 317.20,278.62 317.70,279.29 318.20,276.63 318.70,275.51 319.20,276.35 319.70,277.46 320.20,277.95 320.70,278.77 321.20,279.90 321.70,278.66 322.20,281.55 322.70,282.53 323.20,285.77 323.70,286.31 324.20,288.37 324.70,289.91 325.20,292.71 325.70,293.79 326.20,295.27 326.70,296.57 327.20,297.26 327.70,297.61 328.20,298.66 328.70,299.80 329.20,300.62 329.70,300.75 330.20,301.61 330.70,302.01 331.20,302.58 331.70,303.15 332.20,303.25 332.70,303.99 333.20,304.48 333.70,304.77 334.20,305.03 334.70,305.70 335.20,305.76 335.70,306.07 336.20,305.95 336.70,306.17 337.20,306.00 337.70,306.57 338.20,306.48 338.70,306.25 339.20,306.20 339.70,306.60 340.20,306.52" fill="none" stroke="#2e6a22" stroke-width="0.7" stroke-opacity="0.55" stroke-dasharray="1.3 1.5"/>
<polyline points="266.20,306.60 266.70,306.60 267.20,306.54 267.70,306.39 268.20,306.45 268.70,306.40 269.20,306.24 269.70,305.83 270.20,305.91 270.70,305.83 271.20,305.41 271.70,304.58 272.20,303.32 272.70,301.57 273.20,300.44 273.70,299.20 274.20,296.78 274.70,294.76 275.20,291.82 275.70,288.91 276.20,285.79 276.70,281.62 277.20,279.33 277.70,275.19 278.20,271.19 278.70,265.79 279.20,262.51 279.70,259.81 280.20,256.34 280.70,254.18 281.20,256.53 281.70,259.04 282.20,261.47 282.70,264.95 283.20,269.48 283.70,273.50 284.20,277.56 284.70,281.44 285.20,286.12 285.70,288.94 286.20,292.36 286.70,295.24 287.20,299.01 287.70,300.31 288.20,301.46 288.70,302.14 289.20,303.58 289.70,304.44 290.20,305.13 290.70,305.54 291.20,305.79 291.70,306.16 292.20,306.01 292.70,306.43 293.20,306.42 293.70,306.41 294.20,306.53 294.70,306.45 295.20,306.60 295.70,306.52 296.20,306.56 296.70,306.60 297.20,306.57 297.70,306.60 298.20,306.42 298.70,306.59 299.20,306.60 299.70,306.53 300.20,306.55 300.70,306.28 301.20,306.35 301.70,306.50 302.20,306.59 302.70,306.31 303.20,306.50 303.70,306.60 304.20,306.49 304.70,306.60 305.20,306.41 305.70,306.49 306.20,306.60 306.70,306.59 307.20,306.60 307.70,306.37 308.20,306.53 308.70,306.47 309.20,306.41 309.70,306.58 310.20,306.59 310.70,306.59 311.20,306.51 311.70,306.60 312.20,306.58 312.70,306.52 313.20,306.53 313.70,306.60 314.20,306.60 314.70,306.60 315.20,306.49 315.70,306.42 316.20,306.44 316.70,306.58 317.20,306.49 317.70,306.52 318.20,306.41 318.70,306.60 319.20,306.44 319.70,306.52 320.20,306.57 320.70,306.32 321.20,306.38 321.70,306.60 322.20,306.55 322.70,306.49 323.20,306.46 323.70,306.60 324.20,306.52 324.70,306.55 325.20,306.60 325.70,306.49 326.20,306.60 326.70,306.58 327.20,306.60 327.70,306.53 328.20,306.53 328.70,306.60 329.20,306.60 329.70,306.58 330.20,306.55 330.70,306.56 331.20,306.60 331.70,306.49 332.20,306.60 332.70,306.58 333.20,306.44 333.70,306.60 334.20,306.58 334.70,306.56 335.20,306.60 335.70,306.60 336.20,306.60 336.70,306.60 337.20,306.59 337.70,306.60 338.20,306.53 338.70,306.42 339.20,306.58 339.70,306.58 340.20,306.55" fill="none" stroke="#c87080" stroke-width="0.8" stroke-opacity="1.0" stroke-linejoin="round"/>
<polyline points="266.20,306.60 266.70,306.60 267.20,306.54 267.70,306.39 268.20,306.45 268.70,306.40 269.20,306.24 269.70,305.83 270.20,305.91 270.70,305.83 271.20,305.41 271.70,304.58 272.20,303.32 272.70,301.57 273.20,300.44 273.70,299.20 274.20,296.78 274.70,294.76 275.20,291.82 275.70,288.91 276.20,285.79 276.70,281.62 277.20,279.33 277.70,275.19 278.20,271.19 278.70,265.79 279.20,262.51 279.70,259.81 280.20,256.34 280.70,254.18 281.20,256.53 281.70,259.04 282.20,261.47 282.70,264.95 283.20,269.48 283.70,273.50 284.20,277.56 284.70,281.44 285.20,286.12 285.70,288.94 286.20,292.36 286.70,295.24 287.20,299.01 287.70,300.31 288.20,301.46 288.70,302.14 289.20,303.58 289.70,304.44 290.20,305.13 290.70,305.54 291.20,305.79 291.70,306.16 292.20,306.01 292.70,306.43 293.20,306.42 293.70,306.41 294.20,306.53 294.70,306.45 295.20,306.60 295.70,306.52 296.20,306.56 296.70,306.60 297.20,306.57 297.70,306.60 298.20,306.42 298.70,306.59 299.20,306.60 299.70,306.53 300.20,306.55 300.70,306.28 301.20,306.35 301.70,306.50 302.20,306.59 302.70,306.31 303.20,306.50 303.70,306.60 304.20,306.49 304.70,306.60 305.20,306.41 305.70,306.49 306.20,306.60 306.70,306.59 307.20,306.60 307.70,306.37 308.20,306.53 308.70,306.47 309.20,306.41 309.70,306.58 310.20,306.59 310.70,306.59 311.20,306.51 311.70,306.60 312.20,306.58 312.70,306.52 313.20,306.53 313.70,306.60 314.20,306.60 314.70,306.60 315.20,306.49 315.70,306.42 316.20,306.44 316.70,306.58 317.20,306.49 317.70,306.52 318.20,306.41 318.70,306.60 319.20,306.44 319.70,306.52 320.20,306.57 320.70,306.32 321.20,306.38 321.70,306.60 322.20,306.55 322.70,306.49 323.20,306.46 323.70,306.60 324.20,306.52 324.70,306.55 325.20,306.60 325.70,306.49 326.20,306.60 326.70,306.58 327.20,306.60 327.70,306.53 328.20,306.53 328.70,306.60 329.20,306.60 329.70,306.58 330.20,306.55 330.70,306.56 331.20,306.60 331.70,306.49 332.20,306.60 332.70,306.58 333.20,306.44 333.70,306.60 334.20,306.58 334.70,306.56 335.20,306.60 335.70,306.60 336.20,306.60 336.70,306.60 337.20,306.59 337.70,306.60 338.20,306.53 338.70,306.42 339.20,306.58 339.70,306.58 340.20,306.55" fill="none" stroke="#5a2a34" stroke-width="0.7" stroke-opacity="0.7" stroke-dasharray="1.3 1.5"/>
<line x1="266.50" y1="247.30" x2="266.50" y2="307.20" stroke="#808080" stroke-width="0.6" stroke-dasharray="0.5 1.1"/>
<line x1="265.60" y1="306.30" x2="340.90" y2="306.30" stroke="#777" stroke-width="0.6" stroke-dasharray="0.5 1.3"/>
<rect x="261.00" y="247.80" width="1.50" height="2.40" fill="#959595" stroke="none" stroke-width="1.0" />
<rect x="261.00" y="257.42" width="1.50" height="2.40" fill="#959595" stroke="none" stroke-width="1.0" />
<rect x="261.00" y="267.03" width="1.50" height="2.40" fill="#959595" stroke="none" stroke-width="1.0" />
<rect x="261.00" y="276.65" width="1.50" height="2.40" fill="#959595" stroke="none" stroke-width="1.0" />
<rect x="261.00" y="286.27" width="1.50" height="2.40" fill="#959595" stroke="none" stroke-width="1.0" />
<rect x="261.00" y="295.88" width="1.50" height="2.40" fill="#959595" stroke="none" stroke-width="1.0" />
<rect x="261.00" y="305.50" width="1.50" height="2.40" fill="#959595" stroke="none" stroke-width="1.0" />
<text x="260.00" y="280.75" font-size="3.2" fill="#8a8a8a" transform="rotate(-90 260.00 280.75)">Counts</text>
<line x1="265.20" y1="311.00" x2="266.80" y2="309.80" stroke="#8c8c8c" stroke-width="1.1" />
<rect x="266.60" y="308.80" width="0.90" height="0.90" fill="#a0a0a0" stroke="none" stroke-width="1.0" />
<line x1="293.70" y1="311.00" x2="295.30" y2="309.80" stroke="#8c8c8c" stroke-width="1.1" />
<rect x="295.10" y="308.80" width="0.90" height="0.90" fill="#a0a0a0" stroke="none" stroke-width="1.0" />
<line x1="322.20" y1="311.00" x2="323.80" y2="309.80" stroke="#8c8c8c" stroke-width="1.1" />
<rect x="323.60" y="308.80" width="0.90" height="0.90" fill="#a0a0a0" stroke="none" stroke-width="1.0" />
<text x="323.20" y="315.20" font-size="2.8" fill="#8a8a8a" text-anchor="middle">ALexa</text>
<text x="338.90" y="255.40" font-size="8.8" fill="#1a1a1a" text-anchor="end" stroke="#1a1a1a" stroke-width="0.28" >MyLa2059</text>
<text x="317.00" y="265.20" font-size="8.8" fill="#1a1a1a" text-anchor="middle" stroke="#1a1a1a" stroke-width="0.28" >(0)</text>
<rect x="351.90" y="244.30" width="75.70" height="62.90" fill="#fff" stroke="#7c7c7c" stroke-width="1.0" />
<polyline points="352.50,306.60 353.00,306.57 353.50,306.60 354.00,306.60 354.50,306.55 355.00,306.51 355.50,306.57 356.00,306.56 356.50,306.60 357.00,306.51 357.50,306.60 358.00,306.46 358.50,306.42 359.00,306.60 359.50,306.41 360.00,306.60 360.50,306.60 361.00,306.60 361.50,306.53 362.00,306.44 362.50,306.21 363.00,306.60 363.50,306.60 364.00,306.51 364.50,306.60 365.00,306.60 365.50,306.58 366.00,306.55 366.50,306.50 367.00,306.59 367.50,306.37 368.00,306.51 368.50,306.44 369.00,306.60 369.50,306.60 370.00,306.43 370.50,306.48 371.00,306.44 371.50,306.51 372.00,306.56 372.50,306.55 373.00,306.39 373.50,306.60 374.00,306.55 374.50,306.52 375.00,306.47 375.50,306.23 376.00,306.57 376.50,306.18 377.00,306.48 377.50,306.47 378.00,306.31 378.50,305.53 379.00,304.59 379.50,304.34 380.00,303.38 380.50,302.63 381.00,301.92 381.50,301.13 382.00,299.49 382.50,298.05 383.00,296.87 383.50,295.86 384.00,294.22 384.50,292.54 385.00,291.43 385.50,289.83 386.00,289.18 386.50,287.56 387.00,286.61 387.50,286.29 388.00,285.05 388.50,284.37 389.00,282.89 389.50,282.07 390.00,280.94 390.50,280.05 391.00,279.56 391.50,278.08 392.00,278.35 392.50,276.83 393.00,277.59 393.50,275.95 394.00,274.00 394.50,273.87 395.00,272.76 395.50,273.14 396.00,273.70 396.50,274.18 397.00,274.50 397.50,275.87 398.00,275.53 398.50,276.57 399.00,278.35 399.50,280.59 400.00,281.26 400.50,282.94 401.00,284.31 401.50,285.51 402.00,286.65 402.50,288.14 403.00,289.36 403.50,291.56 404.00,292.15 404.50,292.68 405.00,293.76 405.50,295.55 406.00,295.90 406.50,296.98 407.00,298.47 407.50,298.96 408.00,299.83 408.50,300.86 409.00,300.97 409.50,302.17 410.00,302.44 410.50,302.88 411.00,303.39 411.50,304.11 412.00,304.40 412.50,304.93 413.00,304.97 413.50,305.39 414.00,305.75 414.50,305.66 415.00,306.14 415.50,306.09 416.00,306.03 416.50,306.60 417.00,306.33 417.50,306.44 418.00,306.59 418.50,306.41 419.00,306.60 419.50,306.41 420.00,306.53 420.50,306.41 421.00,306.60 421.50,306.47 422.00,306.45 422.50,306.60 423.00,306.36 423.50,306.60 424.00,306.31 424.50,306.33 425.00,306.60 425.50,306.38 426.00,306.55 426.50,306.55 427.00,306.55" fill="none" stroke="#9fd8a0" stroke-width="1.0" stroke-opacity="1.0" stroke-linejoin="round" stroke-dasharray="1.6 1.0"/>
<polyline points="352.50,306.45 353.00,306.24 353.50,305.64 354.00,305.54 354.50,305.30 355.00,304.80 355.50,304.41 356.00,304.14 356.50,303.71 357.00,303.12 357.50,302.18 358.00,300.74 358.50,299.48 359.00,298.33 359.50,297.10 360.00,295.08 360.50,292.63 361.00,290.68 361.50,287.89 362.00,285.76 362.50,282.00 363.00,280.04 363.50,278.07 364.00,275.19 364.50,273.26 365.00,271.40 365.50,269.00 366.00,267.08 366.50,262.93 367.00,263.76 367.50,263.35 368.00,260.10 368.50,260.67 369.00,260.71 369.50,259.72 370.00,262.04 370.50,263.34 371.00,263.92 371.50,266.61 372.00,267.76 372.50,270.94 373.00,272.90 373.50,274.87 374.00,277.55 374.50,282.52 375.00,284.67 375.50,287.34 376.00,289.14 376.50,291.65 377.00,293.79 377.50,294.81 378.00,296.29 378.50,297.64 379.00,299.08 379.50,299.34 380.00,300.45 380.50,300.41 381.00,301.56 381.50,302.23 382.00,302.48 382.50,302.73 383.00,303.30 383.50,303.13 384.00,303.37 384.50,304.10 385.00,303.60 385.50,303.92 386.00,304.20 386.50,304.28 387.00,304.69 387.50,304.53 388.00,304.85 388.50,305.05 389.00,304.57 389.50,304.82 390.00,304.99 390.50,305.00 391.00,305.02 391.50,304.92 392.00,305.09 392.50,305.04 393.00,305.39 393.50,305.46 394.00,305.36 394.50,305.38 395.00,305.51 395.50,305.69 396.00,305.68 396.50,305.59 397.00,305.67 397.50,306.01 398.00,305.82 398.50,305.94 399.00,306.02 399.50,306.03 400.00,306.18 400.50,306.08 401.00,306.41 401.50,306.53 402.00,306.44 402.50,306.45 403.00,306.60 403.50,306.45 404.00,306.47 404.50,306.60 405.00,306.54 405.50,306.39 406.00,306.41 406.50,306.60 407.00,306.43 407.50,306.51 408.00,306.29 408.50,306.55 409.00,306.46 409.50,306.60 410.00,306.41 410.50,306.54 411.00,306.59 411.50,306.59 412.00,306.56 412.50,306.60 413.00,306.48 413.50,306.60 414.00,306.58 414.50,306.23 415.00,306.56 415.50,306.50 416.00,306.52 416.50,306.56 417.00,306.55 417.50,306.60 418.00,306.49 418.50,306.54 419.00,306.55 419.50,306.60 420.00,306.47 420.50,306.60 421.00,306.59 421.50,306.60 422.00,306.60 422.50,306.42 423.00,306.43 423.50,306.45 424.00,306.59 424.50,306.60 425.00,306.57 425.50,306.60 426.00,306.60 426.50,306.47 427.00,306.51" fill="none" stroke="#c8101c" stroke-width="1.7" stroke-opacity="1.0" stroke-linejoin="round"/>
<line x1="352.50" y1="306.60" x2="352.50" y2="282.30" stroke="#c8101c" stroke-width="1.0" />
<line x1="352.80" y1="247.30" x2="352.80" y2="307.20" stroke="#808080" stroke-width="0.6" stroke-dasharray="0.5 1.1"/>
<line x1="351.90" y1="306.30" x2="427.60" y2="306.30" stroke="#777" stroke-width="0.6" stroke-dasharray="0.5 1.3"/>
<rect x="347.30" y="247.80" width="1.50" height="2.40" fill="#959595" stroke="none" stroke-width="1.0" />
<rect x="347.30" y="257.42" width="1.50" height="2.40" fill="#959595" stroke="none" stroke-width="1.0" />
<rect x="347.30" y="267.03" width="1.50" height="2.40" fill="#959595" stroke="none" stroke-width="1.0" />
<rect x="347.30" y="276.65" width="1.50" height="2.40" fill="#959595" stroke="none" stroke-width="1.0" />
<rect x="347.30" y="286.27" width="1.50" height="2.40" fill="#959595" stroke="none" stroke-width="1.0" />
<rect x="347.30" y="295.88" width="1.50" height="2.40" fill="#959595" stroke="none" stroke-width="1.0" />
<rect x="347.30" y="305.50" width="1.50" height="2.40" fill="#959595" stroke="none" stroke-width="1.0" />
<text x="346.30" y="280.75" font-size="3.2" fill="#8a8a8a" transform="rotate(-90 346.30 280.75)">Counts</text>
<line x1="351.50" y1="311.00" x2="353.10" y2="309.80" stroke="#8c8c8c" stroke-width="1.1" />
<rect x="352.90" y="308.80" width="0.90" height="0.90" fill="#a0a0a0" stroke="none" stroke-width="1.0" />
<line x1="380.00" y1="311.00" x2="381.60" y2="309.80" stroke="#8c8c8c" stroke-width="1.1" />
<rect x="381.40" y="308.80" width="0.90" height="0.90" fill="#a0a0a0" stroke="none" stroke-width="1.0" />
<line x1="408.50" y1="311.00" x2="410.10" y2="309.80" stroke="#8c8c8c" stroke-width="1.1" />
<rect x="409.90" y="308.80" width="0.90" height="0.90" fill="#a0a0a0" stroke="none" stroke-width="1.0" />
<text x="409.50" y="315.20" font-size="2.8" fill="#8a8a8a" text-anchor="middle">ALexa</text>
<text x="422.00" y="255.40" font-size="8.8" fill="#1a1a1a" text-anchor="end" stroke="#1a1a1a" stroke-width="0.28" >MyLa3675</text>
<text x="404.40" y="265.20" font-size="8.8" fill="#1a1a1a" text-anchor="middle" stroke="#1a1a1a" stroke-width="0.28" >(2)</text>
<rect x="438.30" y="244.30" width="77.00" height="62.90" fill="#fff" stroke="#7c7c7c" stroke-width="1.0" />
<polyline points="438.90,306.60 439.40,306.60 439.90,306.44 440.40,306.38 440.90,306.60 441.40,306.42 441.90,306.60 442.40,306.57 442.90,306.44 443.40,306.60 443.90,306.27 444.40,306.60 444.90,306.59 445.40,306.60 445.90,306.58 446.40,306.53 446.90,306.60 447.40,306.39 447.90,306.60 448.40,306.46 448.90,306.40 449.40,306.60 449.90,306.37 450.40,306.48 450.90,306.55 451.40,306.39 451.90,306.21 452.40,306.03 452.90,305.89 453.40,305.69 453.90,305.44 454.40,304.87 454.90,304.70 455.40,304.53 455.90,304.26 456.40,304.03 456.90,303.68 457.40,303.08 457.90,303.10 458.40,302.79 458.90,302.18 459.40,301.68 459.90,301.08 460.40,299.83 460.90,298.85 461.40,298.88 461.90,298.12 462.40,297.71 462.90,296.79 463.40,296.86 463.90,295.67 464.40,294.31 464.90,294.33 465.40,292.73 465.90,291.40 466.40,290.42 466.90,288.23 467.40,287.45 467.90,285.14 468.40,284.65 468.90,283.70 469.40,282.70 469.90,281.81 470.40,279.52 470.90,279.03 471.40,276.72 471.90,276.70 472.40,275.29 472.90,274.27 473.40,274.92 473.90,273.64 474.40,274.67 474.90,276.21 475.40,276.68 475.90,277.16 476.40,278.13 476.90,279.10 477.40,280.31 477.90,281.01 478.40,283.03 478.90,284.33 479.40,285.46 479.90,286.23 480.40,287.93 480.90,289.35 481.40,290.30 481.90,289.95 482.40,291.38 482.90,291.72 483.40,292.98 483.90,294.07 484.40,294.27 484.90,295.30 485.40,295.86 485.90,298.05 486.40,298.68 486.90,299.10 487.40,300.47 487.90,300.10 488.40,300.95 488.90,301.26 489.40,301.81 489.90,301.53 490.40,302.11 490.90,303.03 491.40,303.50 491.90,303.19 492.40,303.60 492.90,304.30 493.40,304.25 493.90,304.98 494.40,305.34 494.90,305.44 495.40,305.79 495.90,305.97 496.40,305.78 496.90,306.08 497.40,306.18 497.90,306.09 498.40,306.34 498.90,306.60 499.40,306.41 499.90,306.54 500.40,306.51 500.90,306.56 501.40,306.34 501.90,306.52 502.40,306.29 502.90,306.41 503.40,306.54 503.90,306.33 504.40,306.34 504.90,306.53 505.40,306.60 505.90,306.50 506.40,306.54 506.90,306.60 507.40,306.23 507.90,306.60 508.40,306.42 508.90,306.54 509.40,306.56 509.90,306.57 510.40,306.57 510.90,306.60 511.40,306.60 511.90,306.42 512.40,306.60 512.90,306.39 513.40,306.56 513.90,306.60 514.40,306.60" fill="none" stroke="#9fd8a0" stroke-width="1.0" stroke-opacity="1.0" stroke-linejoin="round" stroke-dasharray="1.6 1.0"/>
<polyline points="438.90,306.32 439.40,306.37 439.90,305.50 440.40,304.75 440.90,304.86 441.40,304.44 441.90,304.02 442.40,304.32 442.90,303.80 443.40,303.43 443.90,303.53 444.40,303.10 444.90,303.06 445.40,302.35 445.90,301.11 446.40,300.46 446.90,298.67 447.40,297.79 447.90,296.76 448.40,293.99 448.90,291.74 449.40,289.63 449.90,287.26 450.40,284.33 450.90,282.68 451.40,279.91 451.90,276.05 452.40,273.86 452.90,270.85 453.40,269.32 453.90,266.92 454.40,267.21 454.90,264.62 455.40,263.53 455.90,262.38 456.40,261.78 456.90,263.51 457.40,264.20 457.90,264.06 458.40,265.82 458.90,267.84 459.40,271.41 459.90,271.92 460.40,275.07 460.90,277.34 461.40,281.23 461.90,282.92 462.40,286.73 462.90,288.01 463.40,290.78 463.90,293.07 464.40,295.79 464.90,297.54 465.40,299.36 465.90,300.82 466.40,301.13 466.90,302.00 467.40,303.00 467.90,303.18 468.40,304.12 468.90,304.24 469.40,304.57 469.90,304.65 470.40,304.39 470.90,304.17 471.40,304.78 471.90,304.84 472.40,304.95 472.90,304.85 473.40,304.76 473.90,305.18 474.40,305.37 474.90,305.30 475.40,305.43 475.90,305.64 476.40,305.67 476.90,305.87 477.40,305.81 477.90,306.08 478.40,305.78 478.90,305.86 479.40,306.38 479.90,306.44 480.40,306.37 480.90,306.35 481.40,306.28 481.90,306.51 482.40,306.37 482.90,306.60 483.40,306.54 483.90,306.52 484.40,306.60 484.90,306.60 485.40,306.44 485.90,306.48 486.40,306.41 486.90,306.60 487.40,306.34 487.90,306.31 488.40,306.28 488.90,306.53 489.40,306.60 489.90,306.46 490.40,306.51 490.90,306.42 491.40,306.60 491.90,306.57 492.40,306.51 492.90,306.60 493.40,306.60 493.90,306.34 494.40,306.48 494.90,306.60 495.40,306.35 495.90,306.59 496.40,306.60 496.90,306.60 497.40,306.60 497.90,306.49 498.40,306.56 498.90,306.53 499.40,306.60 499.90,306.49 500.40,306.60 500.90,306.52 501.40,306.60 501.90,306.44 502.40,306.49 502.90,306.59 503.40,306.54 503.90,306.60 504.40,306.60 504.90,306.54 505.40,306.46 505.90,306.60 506.40,306.60 506.90,306.49 507.40,306.60 507.90,306.60 508.40,306.47 508.90,306.60 509.40,306.38 509.90,306.49 510.40,306.57 510.90,306.60 511.40,306.60 511.90,306.60 512.40,306.60 512.90,306.60 513.40,306.60 513.90,306.56 514.40,306.60" fill="none" stroke="#c8101c" stroke-width="1.7" stroke-opacity="1.0" stroke-linejoin="round"/>
<line x1="438.90" y1="306.60" x2="438.90" y2="250.00" stroke="#c8101c" stroke-width="1.0" />
<line x1="439.20" y1="247.30" x2="439.20" y2="307.20" stroke="#808080" stroke-width="0.6" stroke-dasharray="0.5 1.1"/>
<line x1="438.30" y1="306.30" x2="515.30" y2="306.30" stroke="#777" stroke-width="0.6" stroke-dasharray="0.5 1.3"/>
<rect x="433.70" y="247.80" width="1.50" height="2.40" fill="#959595" stroke="none" stroke-width="1.0" />
<rect x="433.70" y="257.42" width="1.50" height="2.40" fill="#959595" stroke="none" stroke-width="1.0" />
<rect x="433.70" y="267.03" width="1.50" height="2.40" fill="#959595" stroke="none" stroke-width="1.0" />
<rect x="433.70" y="276.65" width="1.50" height="2.40" fill="#959595" stroke="none" stroke-width="1.0" />
<rect x="433.70" y="286.27" width="1.50" height="2.40" fill="#959595" stroke="none" stroke-width="1.0" />
<rect x="433.70" y="295.88" width="1.50" height="2.40" fill="#959595" stroke="none" stroke-width="1.0" />
<rect x="433.70" y="305.50" width="1.50" height="2.40" fill="#959595" stroke="none" stroke-width="1.0" />
<text x="432.70" y="280.75" font-size="3.2" fill="#8a8a8a" transform="rotate(-90 432.70 280.75)">Counts</text>
<line x1="437.90" y1="311.00" x2="439.50" y2="309.80" stroke="#8c8c8c" stroke-width="1.1" />
<rect x="439.30" y="308.80" width="0.90" height="0.90" fill="#a0a0a0" stroke="none" stroke-width="1.0" />
<line x1="466.40" y1="311.00" x2="468.00" y2="309.80" stroke="#8c8c8c" stroke-width="1.1" />
<rect x="467.80" y="308.80" width="0.90" height="0.90" fill="#a0a0a0" stroke="none" stroke-width="1.0" />
<line x1="494.90" y1="311.00" x2="496.50" y2="309.80" stroke="#8c8c8c" stroke-width="1.1" />
<rect x="496.30" y="308.80" width="0.90" height="0.90" fill="#a0a0a0" stroke="none" stroke-width="1.0" />
<text x="495.90" y="315.20" font-size="2.8" fill="#8a8a8a" text-anchor="middle">ALexa</text>
<text x="508.80" y="255.40" font-size="8.8" fill="#1a1a1a" text-anchor="end" stroke="#1a1a1a" stroke-width="0.28" >Seax</text>
<text x="500.10" y="265.20" font-size="8.8" fill="#1a1a1a" text-anchor="middle" stroke="#1a1a1a" stroke-width="0.28" >(6)</text>
<text x="4.50" y="331.60" font-size="10.4" fill="#000" text-anchor="start" font-weight="bold" stroke="#000" stroke-width="0.28" >C</text>
<text x="12.20" y="345.60" font-size="8.85" fill="#1a1a1a" text-anchor="start" stroke="#1a1a1a" stroke-width="0.28" >SUDHL-1/ALKi (14513) and inactive analog (11988)</text>
<rect x="14.50" y="355.50" width="97.80" height="63.30" fill="#fff" stroke="#7c7c7c" stroke-width="1.0" />
<polyline points="15.10,418.20 15.60,418.20 16.10,418.06 16.60,418.20 17.10,418.20 17.60,418.10 18.10,418.07 18.60,418.20 19.10,418.20 19.60,417.82 20.10,418.20 20.60,418.20 21.10,418.00 21.60,418.05 22.10,417.94 22.60,418.04 23.10,418.19 23.60,418.12 24.10,418.20 24.60,418.02 25.10,418.05 25.60,418.20 26.10,418.05 26.60,418.20 27.10,418.09 27.60,418.15 28.10,418.06 28.60,418.20 29.10,418.03 29.60,418.20 30.10,417.93 30.60,418.20 31.10,418.14 31.60,418.16 32.10,418.03 32.60,417.92 33.10,418.03 33.60,418.05 34.10,418.03 34.60,418.06 35.10,418.03 35.60,418.13 36.10,418.05 36.60,417.83 37.10,417.87 37.60,418.20 38.10,418.04 38.60,417.98 39.10,418.07 39.60,418.02 40.10,417.62 40.60,416.77 41.10,415.92 41.60,415.33 42.10,414.26 42.60,413.72 43.10,412.71 43.60,412.09 44.10,411.75 44.60,410.53 45.10,409.17 45.60,407.89 46.10,407.36 46.60,405.57 47.10,405.26 47.60,404.92 48.10,404.52 48.60,402.39 49.10,403.19 49.60,403.12 50.10,401.63 50.60,401.61 51.10,400.31 51.60,401.11 52.10,399.10 52.60,398.61 53.10,399.05 53.60,399.02 54.10,397.86 54.60,396.74 55.10,397.50 55.60,396.79 56.10,395.43 56.60,395.40 57.10,395.54 57.60,394.99 58.10,394.96 58.60,395.26 59.10,394.96 59.60,396.63 60.10,394.54 60.60,393.90 61.10,394.08 61.60,395.12 62.10,394.01 62.60,394.63 63.10,396.55 63.60,396.39 64.10,397.07 64.60,397.72 65.10,396.87 65.60,397.35 66.10,399.05 66.60,399.44 67.10,399.89 67.60,401.15 68.10,401.19 68.60,402.38 69.10,403.19 69.60,405.05 70.10,404.37 70.60,406.98 71.10,406.54 71.60,406.63 72.10,407.79 72.60,408.86 73.10,409.34 73.60,410.35 74.10,409.94 74.60,410.94 75.10,412.12 75.60,411.76 76.10,413.25 76.60,413.54 77.10,414.79 77.60,414.75 78.10,415.07 78.60,415.73 79.10,416.46 79.60,416.55 80.10,417.41 80.60,417.26 81.10,417.67 81.60,417.76 82.10,417.79 82.60,417.88 83.10,417.76 83.60,418.09 84.10,418.20 84.60,418.15 85.10,418.20 85.60,418.20 86.10,418.20 86.60,418.19 87.10,418.05 87.60,418.19 88.10,418.20 88.60,418.20 89.10,418.20 89.60,418.20 90.10,418.18 90.60,418.19 91.10,418.11 91.60,418.20 92.10,418.11 92.60,418.12 93.10,418.20 93.60,418.06 94.10,418.20 94.60,418.20 95.10,418.16 95.60,418.20 96.10,418.20 96.60,418.13 97.10,418.07 97.60,418.08 98.10,418.20 98.60,418.20 99.10,418.20 99.60,418.17 100.10,418.11 100.60,418.19 101.10,418.20 101.60,418.20 102.10,418.20 102.60,418.20 103.10,418.20 103.60,418.20 104.10,418.11 104.60,418.20 105.10,418.06 105.60,418.20 106.10,418.13 106.60,418.20 107.10,418.20 107.60,418.17 108.10,418.12 108.60,418.20 109.10,418.18 109.60,418.20 110.10,418.19 110.60,418.20 111.10,418.16 111.60,418.20" fill="none" stroke="#d8ecb0" stroke-width="1.1" stroke-opacity="1.0" stroke-linejoin="round"/>
<polyline points="15.10,418.20 15.60,418.20 16.10,418.20 16.60,418.20 17.10,418.20 17.60,418.20 18.10,418.20 18.60,418.20 19.10,418.20 19.60,418.20 20.10,418.20 20.60,418.20 21.10,418.06 21.60,418.20 22.10,418.20 22.60,418.15 23.10,418.20 23.60,418.20 24.10,418.11 24.60,418.19 25.10,417.66 25.60,417.91 26.10,417.77 26.60,417.72 27.10,417.93 27.60,417.54 28.10,417.58 28.60,417.15 29.10,416.93 29.60,416.60 30.10,416.53 30.60,416.15 31.10,415.75 31.60,415.29 32.10,414.95 32.60,414.32 33.10,414.43 33.60,413.88 34.10,413.19 34.60,413.42 35.10,412.28 35.60,412.69 36.10,412.15 36.60,412.17 37.10,411.38 37.60,411.00 38.10,410.82 38.60,411.35 39.10,410.27 39.60,410.28 40.10,409.65 40.60,409.85 41.10,408.62 41.60,407.48 42.10,407.06 42.60,406.34 43.10,405.23 43.60,404.49 44.10,404.25 44.60,403.63 45.10,403.04 45.60,403.80 46.10,403.88 46.60,402.71 47.10,401.21 47.60,400.58 48.10,401.91 48.60,400.20 49.10,399.78 49.60,401.13 50.10,400.79 50.60,400.56 51.10,399.95 51.60,400.29 52.10,400.32 52.60,400.65 53.10,401.12 53.60,399.63 54.10,400.26 54.60,400.34 55.10,400.34 55.60,400.65 56.10,400.14 56.60,400.75 57.10,401.27 57.60,400.33 58.10,400.55 58.60,400.89 59.10,402.01 59.60,401.80 60.10,401.30 60.60,402.47 61.10,402.76 61.60,402.87 62.10,403.07 62.60,404.65 63.10,404.27 63.60,405.13 64.10,404.96 64.60,405.61 65.10,406.17 65.60,406.93 66.10,407.44 66.60,407.99 67.10,408.55 67.60,409.41 68.10,409.64 68.60,409.79 69.10,411.30 69.60,411.59 70.10,412.32 70.60,412.23 71.10,412.90 71.60,413.47 72.10,414.23 72.60,414.56 73.10,414.94 73.60,415.89 74.10,416.36 74.60,416.38 75.10,416.85 75.60,417.01 76.10,417.31 76.60,417.63 77.10,417.90 77.60,417.89 78.10,418.12 78.60,418.19 79.10,418.15 79.60,418.15 80.10,418.13 80.60,418.20 81.10,418.20 81.60,418.09 82.10,418.20 82.60,418.16 83.10,418.20 83.60,418.19 84.10,417.98 84.60,418.20 85.10,418.04 85.60,418.09 86.10,418.04 86.60,418.07 87.10,418.12 87.60,418.18 88.10,418.20 88.60,418.14 89.10,418.20 89.60,417.99 90.10,418.20 90.60,418.18 91.10,418.14 91.60,418.20 92.10,418.13 92.60,418.15 93.10,418.20 93.60,418.20 94.10,418.13 94.60,418.20 95.10,418.20 95.60,418.20 96.10,418.20 96.60,418.11 97.10,418.20 97.60,418.16 98.10,418.12 98.60,418.20 99.10,418.07 99.60,417.99 100.10,418.20 100.60,418.20 101.10,418.12 101.60,418.10 102.10,418.18 102.60,418.20 103.10,418.14 103.60,418.20 104.10,418.20 104.60,418.20 105.10,418.10 105.60,418.20 106.10,418.20 106.60,418.19 107.10,418.20 107.60,418.20 108.10,418.17 108.60,418.02 109.10,418.08 109.60,418.08 110.10,418.05 110.60,418.10 111.10,418.19 111.60,418.20" fill="none" stroke="#4a3cb4" stroke-width="1.15" stroke-opacity="1.0" stroke-linejoin="round" stroke-dasharray="1.3 0.7"/>
<polyline points="15.10,417.96 15.60,417.40 16.10,417.43 16.60,416.80 17.10,416.33 17.60,416.21 18.10,416.06 18.60,416.16 19.10,415.91 19.60,415.63 20.10,415.78 20.60,415.63 21.10,415.87 21.60,416.00 22.10,415.59 22.60,415.22 23.10,414.25 23.60,413.60 24.10,412.51 24.60,411.54 25.10,410.14 25.60,409.48 26.10,408.49 26.60,406.75 27.10,404.34 27.60,401.42 28.10,399.27 28.60,395.60 29.10,393.00 29.60,390.08 30.10,386.75 30.60,383.87 31.10,381.18 31.60,377.49 32.10,374.76 32.60,371.75 33.10,371.35 33.60,369.30 34.10,367.84 34.60,367.92 35.10,366.61 35.60,367.06 36.10,367.76 36.60,370.74 37.10,372.49 37.60,376.39 38.10,381.28 38.60,384.68 39.10,389.03 39.60,393.70 40.10,397.28 40.60,401.07 41.10,404.37 41.60,406.68 42.10,407.90 42.60,409.52 43.10,411.08 43.60,412.46 44.10,413.32 44.60,414.04 45.10,414.57 45.60,415.04 46.10,415.05 46.60,415.86 47.10,416.16 47.60,416.35 48.10,416.81 48.60,416.46 49.10,416.91 49.60,417.29 50.10,417.56 50.60,417.72 51.10,417.84 51.60,418.14 52.10,418.06 52.60,418.05 53.10,418.20 53.60,418.20 54.10,418.11 54.60,418.20 55.10,418.11 55.60,418.20 56.10,418.20 56.60,418.20 57.10,418.20 57.60,418.13 58.10,418.20 58.60,418.20 59.10,418.20 59.60,418.05 60.10,418.20 60.60,418.20 61.10,418.05 61.60,418.10 62.10,418.20 62.60,418.20 63.10,418.20 63.60,418.20 64.10,418.03 64.60,418.11 65.10,418.20 65.60,418.20 66.10,418.20 66.60,418.20 67.10,417.97 67.60,418.13 68.10,418.05 68.60,418.20 69.10,418.18 69.60,418.20 70.10,418.20 70.60,418.16 71.10,418.20 71.60,418.13 72.10,418.20 72.60,418.20 73.10,418.10 73.60,418.20 74.10,418.11 74.60,418.20 75.10,418.20 75.60,418.20 76.10,418.20 76.60,418.11 77.10,418.19 77.60,418.11 78.10,418.20 78.60,418.11 79.10,418.06 79.60,418.18 80.10,418.16 80.60,418.20 81.10,418.20 81.60,418.19 82.10,418.20 82.60,418.15 83.10,418.13 83.60,418.16 84.10,418.11 84.60,418.20 85.10,418.20 85.60,418.20 86.10,418.05 86.60,418.12 87.10,418.20 87.60,418.17 88.10,418.20 88.60,418.09 89.10,418.20 89.60,418.20 90.10,418.20 90.60,418.20 91.10,418.07 91.60,418.10 92.10,418.20 92.60,418.18 93.10,418.09 93.60,417.97 94.10,418.20 94.60,418.09 95.10,418.20 95.60,418.19 96.10,418.09 96.60,418.20 97.10,418.20 97.60,418.20 98.10,418.10 98.60,418.20 99.10,418.12 99.60,418.20 100.10,418.19 100.60,418.20 101.10,418.15 101.60,418.20 102.10,418.18 102.60,418.20 103.10,418.20 103.60,418.20 104.10,418.20 104.60,418.20 105.10,418.07 105.60,418.17 106.10,418.20 106.60,418.15 107.10,418.07 107.60,418.20 108.10,418.20 108.60,418.20 109.10,418.13 109.60,418.20 110.10,418.20 110.60,418.20 111.10,418.20 111.60,418.19" fill="none" stroke="#c8101c" stroke-width="1.7" stroke-opacity="1.0" stroke-linejoin="round"/>
<line x1="15.20" y1="418.20" x2="15.20" y2="410.70" stroke="#c8101c" stroke-width="1.0" />
<line x1="15.40" y1="358.50" x2="15.40" y2="418.80" stroke="#808080" stroke-width="0.6" stroke-dasharray="0.5 1.1"/>
<line x1="14.50" y1="417.90" x2="112.30" y2="417.90" stroke="#777" stroke-width="0.6" stroke-dasharray="0.5 1.3"/>
<rect x="9.90" y="355.10" width="1.50" height="2.40" fill="#959595" stroke="none" stroke-width="1.0" />
<rect x="9.90" y="367.50" width="1.50" height="2.40" fill="#959595" stroke="none" stroke-width="1.0" />
<rect x="9.90" y="379.90" width="1.50" height="2.40" fill="#959595" stroke="none" stroke-width="1.0" />
<rect x="9.90" y="392.30" width="1.50" height="2.40" fill="#959595" stroke="none" stroke-width="1.0" />
<rect x="9.90" y="404.70" width="1.50" height="2.40" fill="#959595" stroke="none" stroke-width="1.0" />
<rect x="9.90" y="417.10" width="1.50" height="2.40" fill="#959595" stroke="none" stroke-width="1.0" />
<text x="8.90" y="392.15" font-size="3.2" fill="#8a8a8a" transform="rotate(-90 8.90 392.15)">Counts</text>
<line x1="14.10" y1="422.60" x2="15.70" y2="421.40" stroke="#8c8c8c" stroke-width="1.1" />
<rect x="15.50" y="420.40" width="0.90" height="0.90" fill="#a0a0a0" stroke="none" stroke-width="1.0" />
<line x1="46.40" y1="422.60" x2="48.00" y2="421.40" stroke="#8c8c8c" stroke-width="1.1" />
<rect x="47.80" y="420.40" width="0.90" height="0.90" fill="#a0a0a0" stroke="none" stroke-width="1.0" />
<line x1="78.70" y1="422.60" x2="80.30" y2="421.40" stroke="#8c8c8c" stroke-width="1.1" />
<rect x="80.10" y="420.40" width="0.90" height="0.90" fill="#a0a0a0" stroke="none" stroke-width="1.0" />
<line x1="111.00" y1="422.60" x2="112.60" y2="421.40" stroke="#8c8c8c" stroke-width="1.1" />
<rect x="112.40" y="420.40" width="0.90" height="0.90" fill="#a0a0a0" stroke="none" stroke-width="1.0" />
<text x="79.70" y="426.80" font-size="2.8" fill="#8a8a8a" text-anchor="middle">ALexa</text>
<text x="105.40" y="368.00" font-size="8.8" fill="#1a1a1a" text-anchor="end" stroke="#1a1a1a" stroke-width="0.28" >14513 (100nM)</text>
<text x="73.30" y="377.80" font-size="8.8" fill="#1a1a1a" text-anchor="middle" stroke="#1a1a1a" stroke-width="0.28" >(52)</text>
<rect x="131.00" y="355.00" width="101.20" height="63.30" fill="#fff" stroke="#7c7c7c" stroke-width="1.0" />
<polyline points="131.60,417.70 132.10,417.70 132.60,417.70 133.10,417.64 133.60,417.57 134.10,417.58 134.60,417.70 135.10,417.70 135.60,417.70 136.10,417.70 136.60,417.70 137.10,417.70 137.60,417.70 138.10,417.70 138.60,417.70 139.10,417.66 139.60,417.70 140.10,417.66 140.60,417.70 141.10,417.70 141.60,417.70 142.10,417.70 142.60,417.67 143.10,417.70 143.60,417.70 144.10,417.70 144.60,417.70 145.10,417.70 145.60,417.59 146.10,417.70 146.60,417.70 147.10,417.70 147.60,417.69 148.10,417.70 148.60,417.70 149.10,417.62 149.60,417.50 150.10,417.66 150.60,417.29 151.10,417.13 151.60,417.08 152.10,416.37 152.60,416.24 153.10,415.99 153.60,415.65 154.10,415.51 154.60,414.70 155.10,414.17 155.60,414.21 156.10,414.30 156.60,414.33 157.10,413.46 157.60,413.58 158.10,413.11 158.60,412.56 159.10,412.60 159.60,412.17 160.10,411.84 160.60,411.38 161.10,410.24 161.60,409.89 162.10,408.68 162.60,408.57 163.10,407.64 163.60,407.09 164.10,407.09 164.60,405.40 165.10,405.03 165.60,403.69 166.10,403.07 166.60,403.51 167.10,402.23 167.60,401.83 168.10,400.52 168.60,400.57 169.10,399.67 169.60,399.27 170.10,398.40 170.60,397.72 171.10,397.18 171.60,396.25 172.10,396.21 172.60,395.79 173.10,395.98 173.60,395.36 174.10,394.33 174.60,395.05 175.10,394.41 175.60,394.63 176.10,393.67 176.60,392.95 177.10,393.02 177.60,393.17 178.10,392.43 178.60,392.84 179.10,392.15 179.60,392.81 180.10,392.71 180.60,390.43 181.10,392.18 181.60,392.05 182.10,393.13 182.60,393.29 183.10,395.15 183.60,395.06 184.10,395.19 184.60,394.85 185.10,395.98 185.60,397.67 186.10,397.97 186.60,398.59 187.10,400.26 187.60,400.36 188.10,400.29 188.60,401.98 189.10,403.36 189.60,404.50 190.10,404.84 190.60,405.69 191.10,405.09 191.60,406.88 192.10,407.13 192.60,407.95 193.10,408.86 193.60,409.13 194.10,409.44 194.60,409.74 195.10,409.99 195.60,411.63 196.10,411.76 196.60,411.58 197.10,412.37 197.60,412.77 198.10,412.60 198.60,412.96 199.10,413.37 199.60,413.76 200.10,413.79 200.60,414.13 201.10,414.42 201.60,414.55 202.10,415.02 202.60,415.17 203.10,415.38 203.60,415.62 204.10,415.72 204.60,416.20 205.10,416.24 205.60,416.65 206.10,416.56 206.60,416.99 207.10,416.88 207.60,417.23 208.10,417.37 208.60,417.46 209.10,417.50 209.60,417.70 210.10,417.70 210.60,417.70 211.10,417.70 211.60,417.70 212.10,417.67 212.60,417.70 213.10,417.70 213.60,417.70 214.10,417.70 214.60,417.70 215.10,417.70 215.60,417.69 216.10,417.70 216.60,417.68 217.10,417.64 217.60,417.70 218.10,417.70 218.60,417.70 219.10,417.70 219.60,417.70 220.10,417.70 220.60,417.64 221.10,417.70 221.60,417.70 222.10,417.70 222.60,417.69 223.10,417.70 223.60,417.70 224.10,417.70 224.60,417.59 225.10,417.70 225.60,417.70 226.10,417.70 226.60,417.70 227.10,417.70 227.60,417.54 228.10,417.70 228.60,417.63 229.10,417.70 229.60,417.68 230.10,417.65 230.60,417.59 231.10,417.70 231.60,417.70" fill="none" stroke="#cfd8d0" stroke-width="1.0" stroke-opacity="1.0" stroke-linejoin="round"/>
<polyline points="131.60,417.70 132.10,417.68 132.60,417.56 133.10,417.70 133.60,417.70 134.10,417.70 134.60,417.70 135.10,417.70 135.60,417.70 136.10,417.69 136.60,417.65 137.10,417.51 137.60,417.70 138.10,417.60 138.60,417.70 139.10,417.70 139.60,417.68 140.10,417.70 140.60,417.69 141.10,417.70 141.60,417.64 142.10,417.70 142.60,417.70 143.10,417.70 143.60,417.65 144.10,417.57 144.60,417.70 145.10,417.70 145.60,417.70 146.10,417.70 146.60,417.70 147.10,417.53 147.60,417.49 148.10,417.70 148.60,417.40 149.10,417.25 149.60,416.89 150.10,416.56 150.60,416.66 151.10,416.11 151.60,416.40 152.10,415.96 152.60,415.22 153.10,415.63 153.60,415.45 154.10,415.14 154.60,414.86 155.10,414.39 155.60,414.18 156.10,413.81 156.60,413.72 157.10,413.44 157.60,413.22 158.10,412.96 158.60,412.88 159.10,412.16 159.60,411.00 160.10,411.85 160.60,410.87 161.10,410.73 161.60,410.30 162.10,410.18 162.60,408.13 163.10,407.89 163.60,407.84 164.10,406.30 164.60,404.92 165.10,405.39 165.60,405.07 166.10,404.30 166.60,403.10 167.10,401.15 167.60,402.19 168.10,400.68 168.60,401.69 169.10,401.10 169.60,400.32 170.10,399.68 170.60,398.39 171.10,396.89 171.60,396.60 172.10,397.36 172.60,396.82 173.10,396.41 173.60,396.47 174.10,396.38 174.60,394.55 175.10,395.99 175.60,394.66 176.10,395.32 176.60,394.63 177.10,395.08 177.60,393.24 178.10,393.28 178.60,392.91 179.10,393.53 179.60,392.30 180.10,393.43 180.60,393.23 181.10,392.15 181.60,392.68 182.10,393.98 182.60,394.10 183.10,393.85 183.60,396.31 184.10,396.25 184.60,396.54 185.10,398.69 185.60,398.40 186.10,398.18 186.60,400.48 187.10,400.79 187.60,402.24 188.10,402.24 188.60,403.16 189.10,404.04 189.60,404.55 190.10,406.53 190.60,405.99 191.10,406.48 191.60,407.94 192.10,408.08 192.60,409.04 193.10,409.53 193.60,409.68 194.10,410.09 194.60,410.63 195.10,411.62 195.60,411.45 196.10,411.85 196.60,411.87 197.10,412.14 197.60,412.74 198.10,412.79 198.60,413.43 199.10,413.13 199.60,414.09 200.10,414.33 200.60,414.48 201.10,414.87 201.60,415.07 202.10,415.02 202.60,414.73 203.10,415.65 203.60,415.65 204.10,415.96 204.60,415.84 205.10,416.05 205.60,416.62 206.10,416.57 206.60,416.39 207.10,416.71 207.60,417.32 208.10,417.44 208.60,417.41 209.10,417.57 209.60,417.54 210.10,417.60 210.60,417.70 211.10,417.62 211.60,417.59 212.10,417.63 212.60,417.70 213.10,417.54 213.60,417.70 214.10,417.70 214.60,417.70 215.10,417.70 215.60,417.70 216.10,417.70 216.60,417.67 217.10,417.70 217.60,417.70 218.10,417.59 218.60,417.64 219.10,417.70 219.60,417.64 220.10,417.67 220.60,417.68 221.10,417.70 221.60,417.70 222.10,417.68 222.60,417.70 223.10,417.70 223.60,417.61 224.10,417.62 224.60,417.70 225.10,417.63 225.60,417.65 226.10,417.70 226.60,417.56 227.10,417.70 227.60,417.60 228.10,417.70 228.60,417.70 229.10,417.70 229.60,417.70 230.10,417.65 230.60,417.63 231.10,417.65 231.60,417.70" fill="none" stroke="#5048b0" stroke-width="1.1" stroke-opacity="1.0" stroke-linejoin="round" stroke-dasharray="1.3 0.7"/>
<polyline points="131.60,417.60 132.10,417.61 132.60,417.46 133.10,417.39 133.60,417.26 134.10,417.10 134.60,416.57 135.10,416.18 135.60,415.97 136.10,415.70 136.60,415.39 137.10,415.16 137.60,414.67 138.10,414.67 138.60,413.92 139.10,413.42 139.60,412.17 140.10,411.00 140.60,409.18 141.10,407.00 141.60,406.22 142.10,404.81 142.60,402.92 143.10,400.65 143.60,397.95 144.10,395.68 144.60,392.91 145.10,389.89 145.60,386.49 146.10,384.71 146.60,380.43 147.10,379.22 147.60,376.66 148.10,373.30 148.60,372.56 149.10,370.03 149.60,368.94 150.10,366.92 150.60,366.65 151.10,365.75 151.60,367.08 152.10,367.18 152.60,369.48 153.10,371.80 153.60,373.51 154.10,377.75 154.60,378.77 155.10,382.37 155.60,385.47 156.10,388.70 156.60,391.48 157.10,395.31 157.60,398.74 158.10,402.18 158.60,405.07 159.10,407.28 159.60,409.81 160.10,410.72 160.60,412.23 161.10,413.50 161.60,414.56 162.10,415.64 162.60,416.36 163.10,416.46 163.60,416.85 164.10,416.83 164.60,417.17 165.10,417.07 165.60,417.38 166.10,417.70 166.60,417.49 167.10,417.70 167.60,417.70 168.10,417.59 168.60,417.52 169.10,417.54 169.60,417.70 170.10,417.70 170.60,417.67 171.10,417.70 171.60,417.70 172.10,417.64 172.60,417.70 173.10,417.70 173.60,417.70 174.10,417.70 174.60,417.70 175.10,417.70 175.60,417.70 176.10,417.70 176.60,417.70 177.10,417.70 177.60,417.70 178.10,417.70 178.60,417.70 179.10,417.70 179.60,417.70 180.10,417.63 180.60,417.70 181.10,417.70 181.60,417.70 182.10,417.70 182.60,417.70 183.10,417.67 183.60,417.70 184.10,417.70 184.60,417.70 185.10,417.70 185.60,417.70 186.10,417.55 186.60,417.70 187.10,417.70 187.60,417.70 188.10,417.69 188.60,417.70 189.10,417.70 189.60,417.70 190.10,417.65 190.60,417.70 191.10,417.70 191.60,417.70 192.10,417.70 192.60,417.65 193.10,417.70 193.60,417.70 194.10,417.70 194.60,417.70 195.10,417.70 195.60,417.63 196.10,417.70 196.60,417.70 197.10,417.70 197.60,417.70 198.10,417.70 198.60,417.70 199.10,417.70 199.60,417.70 200.10,417.70 200.60,417.70 201.10,417.62 201.60,417.70 202.10,417.70 202.60,417.57 203.10,417.65 203.60,417.70 204.10,417.70 204.60,417.66 205.10,417.70 205.60,417.58 206.10,417.69 206.60,417.68 207.10,417.57 207.60,417.70 208.10,417.67 208.60,417.70 209.10,417.70 209.60,417.70 210.10,417.70 210.60,417.60 211.10,417.70 211.60,417.69 212.10,417.70 212.60,417.70 213.10,417.70 213.60,417.70 214.10,417.70 214.60,417.70 215.10,417.70 215.60,417.70 216.10,417.70 216.60,417.70 217.10,417.65 217.60,417.70 218.10,417.42 218.60,417.65 219.10,417.70 219.60,417.51 220.10,417.70 220.60,417.70 221.10,417.70 221.60,417.58 222.10,417.70 222.60,417.70 223.10,417.64 223.60,417.70 224.10,417.69 224.60,417.70 225.10,417.57 225.60,417.62 226.10,417.70 226.60,417.68 227.10,417.70 227.60,417.70 228.10,417.70 228.60,417.51 229.10,417.70 229.60,417.70 230.10,417.70 230.60,417.70 231.10,417.69 231.60,417.70" fill="none" stroke="#c8101c" stroke-width="1.7" stroke-opacity="1.0" stroke-linejoin="round"/>
<line x1="131.80" y1="417.70" x2="131.80" y2="409.00" stroke="#c8101c" stroke-width="1.0" />
<line x1="131.90" y1="358.00" x2="131.90" y2="418.30" stroke="#808080" stroke-width="0.6" stroke-dasharray="0.5 1.1"/>
<line x1="131.00" y1="417.40" x2="232.20" y2="417.40" stroke="#777" stroke-width="0.6" stroke-dasharray="0.5 1.3"/>
<rect x="126.40" y="354.60" width="1.50" height="2.40" fill="#959595" stroke="none" stroke-width="1.0" />
<rect x="126.40" y="367.00" width="1.50" height="2.40" fill="#959595" stroke="none" stroke-width="1.0" />
<rect x="126.40" y="379.40" width="1.50" height="2.40" fill="#959595" stroke="none" stroke-width="1.0" />
<rect x="126.40" y="391.80" width="1.50" height="2.40" fill="#959595" stroke="none" stroke-width="1.0" />
<rect x="126.40" y="404.20" width="1.50" height="2.40" fill="#959595" stroke="none" stroke-width="1.0" />
<rect x="126.40" y="416.60" width="1.50" height="2.40" fill="#959595" stroke="none" stroke-width="1.0" />
<text x="125.40" y="391.65" font-size="3.2" fill="#8a8a8a" transform="rotate(-90 125.40 391.65)">Counts</text>
<line x1="130.60" y1="422.10" x2="132.20" y2="420.90" stroke="#8c8c8c" stroke-width="1.1" />
<rect x="132.00" y="419.90" width="0.90" height="0.90" fill="#a0a0a0" stroke="none" stroke-width="1.0" />
<line x1="163.60" y1="422.10" x2="165.20" y2="420.90" stroke="#8c8c8c" stroke-width="1.1" />
<rect x="165.00" y="419.90" width="0.90" height="0.90" fill="#a0a0a0" stroke="none" stroke-width="1.0" />
<line x1="196.60" y1="422.10" x2="198.20" y2="420.90" stroke="#8c8c8c" stroke-width="1.1" />
<rect x="198.00" y="419.90" width="0.90" height="0.90" fill="#a0a0a0" stroke="none" stroke-width="1.0" />
<line x1="229.60" y1="422.10" x2="231.20" y2="420.90" stroke="#8c8c8c" stroke-width="1.1" />
<rect x="231.00" y="419.90" width="0.90" height="0.90" fill="#a0a0a0" stroke="none" stroke-width="1.0" />
<text x="197.60" y="426.30" font-size="2.8" fill="#8a8a8a" text-anchor="middle">ALexa</text>
<text x="224.40" y="367.60" font-size="8.8" fill="#1a1a1a" text-anchor="end" stroke="#1a1a1a" stroke-width="0.28" >11988 (100nM)</text>
<text x="190.00" y="377.80" font-size="8.8" fill="#1a1a1a" text-anchor="middle" stroke="#1a1a1a" stroke-width="0.28" >(-9)</text>
<line x1="13.40" y1="437.20" x2="25.80" y2="437.20" stroke="#d01818" stroke-width="2.6" />
<text x="32.30" y="440.50" font-size="7.8" fill="#1a1a1a" text-anchor="start" stroke="#1a1a1a" stroke-width="0.12" >IgG</text>
<line x1="59.50" y1="438.80" x2="72.70" y2="438.80" stroke="#8ccf60" stroke-width="2.0" />
<text x="78.50" y="440.50" font-size="7.8" fill="#1a1a1a" text-anchor="start" stroke="#1a1a1a" stroke-width="0.12" >ICOS ab</text>
<line x1="125.00" y1="440.00" x2="138.70" y2="440.00" stroke="#7a28c8" stroke-width="2.2" />
<text x="145.00" y="442.50" font-size="7.8" fill="#1a1a1a" text-anchor="start" stroke="#1a1a1a" stroke-width="0.12" >ICOS ab/ALKi</text>
<text x="245.80" y="331.50" font-size="10.3" fill="#000" text-anchor="start" font-weight="bold" stroke="#000" stroke-width="0.28" >E</text>
<text x="259.60" y="349.80" font-size="6.6" fill="#1a1a1a" stroke="#1a1a1a" stroke-width="0.2" transform="rotate(-45 259.60 349.80)">NS siRNA</text>
<text x="275.00" y="348.80" font-size="6.6" fill="#1a1a1a" stroke="#1a1a1a" stroke-width="0.2" transform="rotate(-45 275.00 348.80)">ALK siRNA</text>
<text x="257.20" y="416.30" font-size="6.6" fill="#1a1a1a" stroke="#1a1a1a" stroke-width="0.2" transform="rotate(-45 257.20 416.30)">NS siRNA</text>
<text x="273.90" y="416.20" font-size="6.6" fill="#1a1a1a" stroke="#1a1a1a" stroke-width="0.2" transform="rotate(-45 273.90 416.20)">ALK siRNA</text>
<rect x="247.50" y="352.00" width="37.40" height="15.90" fill="none" stroke="#6a6a6a" stroke-width="1.1" />
<rect x="247.50" y="370.40" width="37.40" height="15.50" fill="none" stroke="#6a6a6a" stroke-width="1.1" />
<rect x="247.50" y="418.80" width="37.40" height="16.50" fill="none" stroke="#6a6a6a" stroke-width="1.1" />
<rect x="247.50" y="437.50" width="37.40" height="16.90" fill="none" stroke="#6a6a6a" stroke-width="1.1" />
<polygon points="265.50,360.50 265.46,360.75 265.35,360.92 265.17,361.07 264.91,361.20 264.59,361.32 264.19,361.42 263.72,361.50 263.19,361.57 262.57,361.63 261.88,361.67 261.07,361.69 259.90,361.70 258.73,361.69 257.92,361.67 257.23,361.63 256.61,361.57 256.08,361.50 255.61,361.42 255.21,361.32 254.89,361.20 254.63,361.07 254.45,360.92 254.34,360.75 254.30,360.50 254.34,360.25 254.45,360.08 254.63,359.93 254.89,359.80 255.21,359.68 255.61,359.58 256.08,359.50 256.61,359.43 257.23,359.37 257.92,359.33 258.73,359.31 259.90,359.30 261.07,359.31 261.88,359.33 262.57,359.37 263.19,359.43 263.72,359.50 264.19,359.58 264.59,359.68 264.91,359.80 265.17,359.93 265.35,360.08 265.46,360.25" fill="#0a0a0a" fill-opacity="1.0" filter="url(#bl)"/>
<polygon points="265.50,378.50 265.46,378.75 265.35,378.92 265.17,379.07 264.91,379.20 264.59,379.32 264.19,379.42 263.72,379.50 263.19,379.57 262.57,379.63 261.88,379.67 261.07,379.69 259.90,379.70 258.73,379.69 257.92,379.67 257.23,379.63 256.61,379.57 256.08,379.50 255.61,379.42 255.21,379.32 254.89,379.20 254.63,379.07 254.45,378.92 254.34,378.75 254.30,378.50 254.34,378.25 254.45,378.08 254.63,377.93 254.89,377.80 255.21,377.68 255.61,377.58 256.08,377.50 256.61,377.43 257.23,377.37 257.92,377.33 258.73,377.31 259.90,377.30 261.07,377.31 261.88,377.33 262.57,377.37 263.19,377.43 263.72,377.50 264.19,377.58 264.59,377.68 264.91,377.80 265.17,377.93 265.35,378.08 265.46,378.25" fill="#0a0a0a" fill-opacity="1.0" filter="url(#bl)"/>
<polygon points="279.60,378.50 279.56,378.75 279.45,378.92 279.26,379.07 278.99,379.20 278.65,379.32 278.24,379.42 277.76,379.50 277.20,379.57 276.57,379.63 275.85,379.67 275.01,379.69 273.80,379.70 272.59,379.69 271.75,379.67 271.03,379.63 270.40,379.57 269.84,379.50 269.36,379.42 268.95,379.32 268.61,379.20 268.34,379.07 268.15,378.92 268.04,378.75 268.00,378.50 268.04,378.25 268.15,378.08 268.34,377.93 268.61,377.80 268.95,377.68 269.36,377.58 269.84,377.50 270.40,377.43 271.03,377.37 271.75,377.33 272.59,377.31 273.80,377.30 275.01,377.31 275.85,377.33 276.57,377.37 277.20,377.43 277.76,377.50 278.24,377.58 278.65,377.68 278.99,377.80 279.26,377.93 279.45,378.08 279.56,378.25" fill="#0a0a0a" fill-opacity="1.0" filter="url(#bl)"/>
<polygon points="265.50,427.30 265.46,427.55 265.34,427.72 265.14,427.87 264.86,428.00 264.51,428.12 264.07,428.22 263.56,428.30 262.98,428.37 262.31,428.43 261.56,428.47 260.67,428.49 259.40,428.50 258.13,428.49 257.24,428.47 256.49,428.43 255.82,428.37 255.24,428.30 254.73,428.22 254.29,428.12 253.94,428.00 253.66,427.87 253.46,427.72 253.34,427.55 253.30,427.30 253.34,427.05 253.46,426.88 253.66,426.73 253.94,426.60 254.29,426.48 254.73,426.38 255.24,426.30 255.82,426.23 256.49,426.17 257.24,426.13 258.13,426.11 259.40,426.10 260.67,426.11 261.56,426.13 262.31,426.17 262.98,426.23 263.56,426.30 264.07,426.38 264.51,426.48 264.86,426.60 265.14,426.73 265.34,426.88 265.46,427.05" fill="#0a0a0a" fill-opacity="1.0" filter="url(#bl)"/>
<polygon points="264.90,447.00 264.86,447.25 264.73,447.42 264.53,447.57 264.24,447.70 263.87,447.82 263.43,447.92 262.90,448.00 262.30,448.07 261.61,448.13 260.83,448.17 259.92,448.19 258.60,448.20 257.28,448.19 256.37,448.17 255.59,448.13 254.90,448.07 254.30,448.00 253.77,447.92 253.33,447.82 252.96,447.70 252.67,447.57 252.47,447.42 252.34,447.25 252.30,447.00 252.34,446.75 252.47,446.58 252.67,446.43 252.96,446.30 253.33,446.18 253.77,446.08 254.30,446.00 254.90,445.93 255.59,445.87 256.37,445.83 257.28,445.81 258.60,445.80 259.92,445.81 260.83,445.83 261.61,445.87 262.30,445.93 262.90,446.00 263.43,446.08 263.87,446.18 264.24,446.30 264.53,446.43 264.73,446.58 264.86,446.75" fill="#0a0a0a" fill-opacity="1.0" filter="url(#bl)"/>
<polygon points="280.70,447.00 280.66,447.25 280.53,447.42 280.33,447.57 280.04,447.70 279.67,447.82 279.23,447.92 278.70,448.00 278.10,448.07 277.41,448.13 276.63,448.17 275.72,448.19 274.40,448.20 273.08,448.19 272.17,448.17 271.39,448.13 270.70,448.07 270.10,448.00 269.57,447.92 269.13,447.82 268.76,447.70 268.47,447.57 268.27,447.42 268.14,447.25 268.10,447.00 268.14,446.75 268.27,446.58 268.47,446.43 268.76,446.30 269.13,446.18 269.57,446.08 270.10,446.00 270.70,445.93 271.39,445.87 272.17,445.83 273.08,445.81 274.40,445.80 275.72,445.81 276.63,445.83 277.41,445.87 278.10,445.93 278.70,446.00 279.23,446.08 279.67,446.18 280.04,446.30 280.33,446.43 280.53,446.58 280.66,446.75" fill="#0a0a0a" fill-opacity="1.0" filter="url(#bl)"/>
<text x="291.30" y="362.00" font-size="8.8" fill="#1a1a1a" text-anchor="start" stroke="#1a1a1a" stroke-width="0.28" >NPM-ALK</text>
<text x="290.30" y="381.60" font-size="8.8" fill="#1a1a1a" text-anchor="start" stroke="#1a1a1a" stroke-width="0.28" >ACTB</text>
<text x="290.30" y="432.00" font-size="8.8" fill="#1a1a1a" text-anchor="start" stroke="#1a1a1a" stroke-width="0.28" >NPM-ALK</text>
<text x="289.20" y="449.50" font-size="8.8" fill="#1a1a1a" text-anchor="start" stroke="#1a1a1a" stroke-width="0.28" >ACTB</text>
<rect x="344.70" y="328.70" width="103.90" height="59.40" fill="#fff" stroke="#7c7c7c" stroke-width="1.0" />
<polyline points="345.30,387.20 345.80,387.15 346.30,387.20 346.80,387.20 347.30,387.16 347.80,387.16 348.30,387.18 348.80,387.20 349.30,387.20 349.80,387.20 350.30,387.15 350.80,387.20 351.30,387.20 351.80,387.20 352.30,387.20 352.80,387.20 353.30,387.19 353.80,387.20 354.30,387.20 354.80,387.20 355.30,387.20 355.80,387.13 356.30,387.20 356.80,387.17 357.30,387.20 357.80,387.20 358.30,387.14 358.80,387.20 359.30,387.20 359.80,387.20 360.30,387.20 360.80,387.20 361.30,387.20 361.80,387.13 362.30,387.20 362.80,387.20 363.30,387.20 363.80,387.16 364.30,387.10 364.80,386.72 365.30,386.70 365.80,386.35 366.30,386.10 366.80,385.75 367.30,385.27 367.80,385.00 368.30,384.21 368.80,384.02 369.30,383.02 369.80,381.81 370.30,381.26 370.80,380.52 371.30,380.26 371.80,378.51 372.30,378.35 372.80,376.94 373.30,376.72 373.80,375.69 374.30,373.97 374.80,374.29 375.30,373.45 375.80,372.30 376.30,372.30 376.80,370.57 377.30,369.74 377.80,369.10 378.30,368.59 378.80,367.39 379.30,367.02 379.80,366.34 380.30,366.22 380.80,365.03 381.30,365.22 381.80,364.05 382.30,364.74 382.80,364.04 383.30,364.09 383.80,363.57 384.30,363.65 384.80,364.48 385.30,364.61 385.80,365.86 386.30,367.65 386.80,367.29 387.30,367.47 387.80,368.35 388.30,369.45 388.80,370.22 389.30,371.05 389.80,372.79 390.30,373.13 390.80,373.30 391.30,373.84 391.80,375.52 392.30,376.23 392.80,376.60 393.30,377.30 393.80,378.21 394.30,379.09 394.80,379.18 395.30,379.81 395.80,381.23 396.30,381.90 396.80,381.94 397.30,382.71 397.80,383.65 398.30,384.14 398.80,384.64 399.30,384.91 399.80,385.35 400.30,385.64 400.80,385.93 401.30,386.30 401.80,386.61 402.30,386.90 402.80,387.05 403.30,387.20 403.80,387.20 404.30,387.20 404.80,387.20 405.30,387.05 405.80,387.20 406.30,387.20 406.80,387.20 407.30,387.10 407.80,387.20 408.30,387.20 408.80,387.20 409.30,387.20 409.80,387.17 410.30,387.20 410.80,387.20 411.30,387.20 411.80,387.20 412.30,387.20 412.80,387.20 413.30,387.20 413.80,387.20 414.30,387.20 414.80,387.20 415.30,387.20 415.80,387.20 416.30,387.20 416.80,387.20 417.30,387.20 417.80,387.20 418.30,387.20 418.80,387.17 419.30,387.20 419.80,387.18 420.30,387.18 420.80,387.20 421.30,387.20 421.80,387.20 422.30,387.20 422.80,387.20 423.30,387.20 423.80,387.20 424.30,387.20 424.80,387.20 425.30,387.20 425.80,387.19 426.30,387.20 426.80,387.20 427.30,387.20 427.80,387.20 428.30,387.09 428.80,387.20 429.30,387.19 429.80,387.20 430.30,387.20 430.80,387.20 431.30,387.20 431.80,387.06 432.30,387.20 432.80,387.20 433.30,387.20 433.80,387.07 434.30,386.95 434.80,387.20 435.30,387.20 435.80,387.20 436.30,387.11 436.80,387.20 437.30,387.20 437.80,387.20 438.30,387.20 438.80,387.20 439.30,387.08 439.80,387.20 440.30,387.20 440.80,387.20 441.30,387.20 441.80,387.20 442.30,387.20 442.80,387.13 443.30,387.20 443.80,387.20 444.30,387.19 444.80,387.08 445.30,387.19 445.80,387.19 446.30,387.14 446.80,387.19 447.30,387.19 447.80,387.20" fill="none" stroke="#cacad0" stroke-width="0.9" stroke-opacity="1.0" stroke-linejoin="round"/>
<polyline points="345.30,387.20 345.80,387.20 346.30,387.13 346.80,387.20 347.30,387.20 347.80,387.20 348.30,387.09 348.80,387.08 349.30,387.18 349.80,387.16 350.30,387.20 350.80,387.20 351.30,387.17 351.80,387.13 352.30,387.20 352.80,387.20 353.30,387.20 353.80,387.20 354.30,387.20 354.80,387.14 355.30,387.07 355.80,387.14 356.30,387.20 356.80,387.20 357.30,387.18 357.80,387.20 358.30,387.15 358.80,387.16 359.30,387.20 359.80,387.14 360.30,387.20 360.80,387.16 361.30,387.20 361.80,387.20 362.30,387.18 362.80,387.20 363.30,387.20 363.80,387.20 364.30,387.20 364.80,387.20 365.30,387.20 365.80,387.20 366.30,387.20 366.80,387.18 367.30,387.20 367.80,387.20 368.30,387.20 368.80,387.20 369.30,387.20 369.80,387.12 370.30,387.17 370.80,387.00 371.30,386.97 371.80,386.20 372.30,386.25 372.80,385.65 373.30,385.56 373.80,385.48 374.30,385.27 374.80,384.43 375.30,383.59 375.80,382.78 376.30,381.82 376.80,381.69 377.30,380.68 377.80,379.89 378.30,378.63 378.80,378.06 379.30,377.50 379.80,376.84 380.30,376.54 380.80,375.25 381.30,375.61 381.80,374.45 382.30,373.44 382.80,372.07 383.30,371.25 383.80,370.44 384.30,369.48 384.80,369.41 385.30,368.42 385.80,368.02 386.30,366.49 386.80,366.56 387.30,364.84 387.80,362.57 388.30,362.07 388.80,362.39 389.30,361.66 389.80,359.89 390.30,359.42 390.80,358.35 391.30,355.71 391.80,357.38 392.30,357.24 392.80,358.78 393.30,358.96 393.80,361.02 394.30,362.99 394.80,363.11 395.30,364.83 395.80,366.59 396.30,367.48 396.80,369.13 397.30,369.38 397.80,370.14 398.30,371.35 398.80,372.58 399.30,373.20 399.80,374.34 400.30,374.96 400.80,375.46 401.30,376.32 401.80,377.28 402.30,377.97 402.80,378.13 403.30,379.56 403.80,379.46 404.30,380.12 404.80,381.99 405.30,381.98 405.80,382.16 406.30,383.19 406.80,383.19 407.30,383.73 407.80,384.35 408.30,384.76 408.80,385.02 409.30,385.31 409.80,385.69 410.30,386.09 410.80,386.37 411.30,386.72 411.80,387.17 412.30,387.05 412.80,387.20 413.30,387.20 413.80,387.20 414.30,387.20 414.80,387.20 415.30,387.20 415.80,387.20 416.30,387.18 416.80,387.01 417.30,387.20 417.80,387.20 418.30,387.09 418.80,387.15 419.30,387.20 419.80,387.20 420.30,387.20 420.80,387.20 421.30,387.20 421.80,387.17 422.30,387.20 422.80,387.20 423.30,387.20 423.80,387.09 424.30,387.00 424.80,387.20 425.30,387.20 425.80,387.20 426.30,387.20 426.80,387.20 427.30,387.20 427.80,387.19 428.30,387.20 428.80,387.14 429.30,387.20 429.80,387.20 430.30,387.06 430.80,387.05 431.30,387.20 431.80,387.20 432.30,386.92 432.80,387.06 433.30,387.20 433.80,387.20 434.30,387.20 434.80,387.20 435.30,387.15 435.80,387.16 436.30,386.94 436.80,387.20 437.30,387.20 437.80,387.20 438.30,387.20 438.80,387.20 439.30,387.20 439.80,387.15 440.30,387.20 440.80,387.15 441.30,387.20 441.80,387.20 442.30,387.20 442.80,387.20 443.30,387.12 443.80,387.20 444.30,387.03 444.80,387.20 445.30,387.20 445.80,387.20 446.30,387.01 446.80,387.12 447.30,387.17 447.80,387.01" fill="none" stroke="#9ad888" stroke-width="0.9" stroke-opacity="1.0" stroke-linejoin="round" stroke-dasharray="1.6 1.0"/>
<polyline points="345.30,387.20 345.80,387.09 346.30,387.20 346.80,387.18 347.30,387.18 347.80,387.20 348.30,387.17 348.80,387.20 349.30,387.20 349.80,387.09 350.30,387.20 350.80,387.20 351.30,387.20 351.80,387.01 352.30,386.92 352.80,386.84 353.30,386.18 353.80,386.37 354.30,386.30 354.80,385.45 355.30,385.12 355.80,384.40 356.30,383.90 356.80,382.42 357.30,381.49 357.80,381.01 358.30,379.03 358.80,377.03 359.30,373.51 359.80,371.08 360.30,367.33 360.80,363.51 361.30,361.53 361.80,357.68 362.30,354.62 362.80,350.89 363.30,345.99 363.80,343.44 364.30,341.22 364.80,339.17 365.30,337.03 365.80,335.25 366.30,336.70 366.80,337.62 367.30,340.45 367.80,342.24 368.30,343.51 368.80,346.04 369.30,348.58 369.80,355.15 370.30,358.13 370.80,362.65 371.30,366.88 371.80,369.57 372.30,372.89 372.80,376.07 373.30,379.31 373.80,380.39 374.30,382.32 374.80,383.08 375.30,384.15 375.80,385.21 376.30,385.97 376.80,386.07 377.30,386.69 377.80,386.36 378.30,386.58 378.80,386.55 379.30,386.31 379.80,386.41 380.30,386.66 380.80,386.34 381.30,386.80 381.80,386.81 382.30,386.75 382.80,387.08 383.30,387.11 383.80,386.97 384.30,387.20 384.80,387.20 385.30,387.20 385.80,386.85 386.30,387.20 386.80,387.11 387.30,387.20 387.80,386.89 388.30,387.20 388.80,387.20 389.30,386.83 389.80,387.09 390.30,387.20 390.80,387.00 391.30,387.17 391.80,387.19 392.30,387.20 392.80,387.20 393.30,387.20 393.80,387.20 394.30,387.20 394.80,387.17 395.30,387.18 395.80,387.20 396.30,387.19 396.80,387.20 397.30,387.08 397.80,387.14 398.30,386.95 398.80,387.20 399.30,386.84 399.80,387.15 400.30,387.15 400.80,387.05 401.30,387.20 401.80,387.12 402.30,387.09 402.80,387.15 403.30,387.13 403.80,387.20 404.30,386.92 404.80,387.20 405.30,387.20 405.80,386.92 406.30,387.10 406.80,387.14 407.30,387.20 407.80,387.20 408.30,387.10 408.80,386.82 409.30,387.09 409.80,387.04 410.30,387.18 410.80,387.20 411.30,387.20 411.80,387.20 412.30,387.11 412.80,387.13 413.30,387.20 413.80,387.20 414.30,387.20 414.80,387.20 415.30,387.20 415.80,387.20 416.30,387.04 416.80,387.20 417.30,387.20 417.80,387.20 418.30,387.17 418.80,387.17 419.30,387.19 419.80,387.14 420.30,387.20 420.80,387.20 421.30,387.20 421.80,387.20 422.30,387.20 422.80,387.20 423.30,387.20 423.80,387.20 424.30,386.90 424.80,387.13 425.30,387.13 425.80,387.04 426.30,387.20 426.80,386.90 427.30,387.20 427.80,387.20 428.30,387.17 428.80,387.20 429.30,387.20 429.80,387.20 430.30,387.20 430.80,387.15 431.30,387.20 431.80,387.18 432.30,387.20 432.80,387.20 433.30,387.05 433.80,387.20 434.30,387.02 434.80,387.20 435.30,386.83 435.80,387.20 436.30,387.01 436.80,387.20 437.30,386.96 437.80,387.20 438.30,387.20 438.80,387.20 439.30,387.17 439.80,387.20 440.30,387.20 440.80,387.20 441.30,387.20 441.80,387.20 442.30,387.09 442.80,387.10 443.30,387.20 443.80,387.02 444.30,387.20 444.80,387.14 445.30,387.20 445.80,387.06 446.30,386.91 446.80,387.10 447.30,387.14 447.80,387.20" fill="none" stroke="#c8101c" stroke-width="1.3" stroke-opacity="1.0" stroke-linejoin="round"/>
<polyline points="345.30,387.20 345.80,387.09 346.30,387.20 346.80,387.18 347.30,387.18 347.80,387.20 348.30,387.17 348.80,387.20 349.30,387.20 349.80,387.09 350.30,387.20 350.80,387.20 351.30,387.20 351.80,387.01 352.30,386.92 352.80,386.84 353.30,386.18 353.80,386.37 354.30,386.30 354.80,385.45 355.30,385.12 355.80,384.40 356.30,383.90 356.80,382.42 357.30,381.49 357.80,381.01 358.30,379.03 358.80,377.03 359.30,373.51 359.80,371.08 360.30,367.33 360.80,363.51 361.30,361.53 361.80,357.68 362.30,354.62 362.80,350.89 363.30,345.99 363.80,343.44 364.30,341.22 364.80,339.17 365.30,337.03 365.80,335.25 366.30,336.70 366.80,337.62 367.30,340.45 367.80,342.24 368.30,343.51 368.80,346.04 369.30,348.58 369.80,355.15 370.30,358.13 370.80,362.65 371.30,366.88 371.80,369.57 372.30,372.89 372.80,376.07 373.30,379.31 373.80,380.39 374.30,382.32 374.80,383.08 375.30,384.15 375.80,385.21 376.30,385.97 376.80,386.07 377.30,386.69 377.80,386.36 378.30,386.58 378.80,386.55 379.30,386.31 379.80,386.41 380.30,386.66 380.80,386.34 381.30,386.80 381.80,386.81 382.30,386.75 382.80,387.08 383.30,387.11 383.80,386.97 384.30,387.20 384.80,387.20 385.30,387.20 385.80,386.85 386.30,387.20 386.80,387.11 387.30,387.20 387.80,386.89 388.30,387.20 388.80,387.20 389.30,386.83 389.80,387.09 390.30,387.20 390.80,387.00 391.30,387.17 391.80,387.19 392.30,387.20 392.80,387.20 393.30,387.20 393.80,387.20 394.30,387.20 394.80,387.17 395.30,387.18 395.80,387.20 396.30,387.19 396.80,387.20 397.30,387.08 397.80,387.14 398.30,386.95 398.80,387.20 399.30,386.84 399.80,387.15 400.30,387.15 400.80,387.05 401.30,387.20 401.80,387.12 402.30,387.09 402.80,387.15 403.30,387.13 403.80,387.20 404.30,386.92 404.80,387.20 405.30,387.20 405.80,386.92 406.30,387.10 406.80,387.14 407.30,387.20 407.80,387.20 408.30,387.10 408.80,386.82 409.30,387.09 409.80,387.04 410.30,387.18 410.80,387.20 411.30,387.20 411.80,387.20 412.30,387.11 412.80,387.13 413.30,387.20 413.80,387.20 414.30,387.20 414.80,387.20 415.30,387.20 415.80,387.20 416.30,387.04 416.80,387.20 417.30,387.20 417.80,387.20 418.30,387.17 418.80,387.17 419.30,387.19 419.80,387.14 420.30,387.20 420.80,387.20 421.30,387.20 421.80,387.20 422.30,387.20 422.80,387.20 423.30,387.20 423.80,387.20 424.30,386.90 424.80,387.13 425.30,387.13 425.80,387.04 426.30,387.20 426.80,386.90 427.30,387.20 427.80,387.20 428.30,387.17 428.80,387.20 429.30,387.20 429.80,387.20 430.30,387.20 430.80,387.15 431.30,387.20 431.80,387.18 432.30,387.20 432.80,387.20 433.30,387.05 433.80,387.20 434.30,387.02 434.80,387.20 435.30,386.83 435.80,387.20 436.30,387.01 436.80,387.20 437.30,386.96 437.80,387.20 438.30,387.20 438.80,387.20 439.30,387.17 439.80,387.20 440.30,387.20 440.80,387.20 441.30,387.20 441.80,387.20 442.30,387.09 442.80,387.10 443.30,387.20 443.80,387.02 444.30,387.20 444.80,387.14 445.30,387.20 445.80,387.06 446.30,386.91 446.80,387.10 447.30,387.14 447.80,387.20" fill="none" stroke="#401010" stroke-width="0.7" stroke-opacity="0.5" stroke-dasharray="1.3 1.5"/>
<line x1="345.60" y1="331.70" x2="345.60" y2="388.10" stroke="#808080" stroke-width="0.6" stroke-dasharray="0.5 1.1"/>
<line x1="344.70" y1="387.20" x2="448.60" y2="387.20" stroke="#777" stroke-width="0.6" stroke-dasharray="0.5 1.3"/>
<rect x="340.10" y="328.00" width="1.50" height="2.40" fill="#959595" stroke="none" stroke-width="1.0" />
<rect x="340.10" y="339.68" width="1.50" height="2.40" fill="#959595" stroke="none" stroke-width="1.0" />
<rect x="340.10" y="351.36" width="1.50" height="2.40" fill="#959595" stroke="none" stroke-width="1.0" />
<rect x="340.10" y="363.04" width="1.50" height="2.40" fill="#959595" stroke="none" stroke-width="1.0" />
<rect x="340.10" y="374.72" width="1.50" height="2.40" fill="#959595" stroke="none" stroke-width="1.0" />
<rect x="340.10" y="386.40" width="1.50" height="2.40" fill="#959595" stroke="none" stroke-width="1.0" />
<text x="339.10" y="363.40" font-size="3.2" fill="#8a8a8a" transform="rotate(-90 339.10 363.40)">Counts</text>
<line x1="344.30" y1="391.90" x2="345.90" y2="390.70" stroke="#8c8c8c" stroke-width="1.1" />
<rect x="345.70" y="389.70" width="0.90" height="0.90" fill="#a0a0a0" stroke="none" stroke-width="1.0" />
<line x1="374.30" y1="391.90" x2="375.90" y2="390.70" stroke="#8c8c8c" stroke-width="1.1" />
<rect x="375.70" y="389.70" width="0.90" height="0.90" fill="#a0a0a0" stroke="none" stroke-width="1.0" />
<line x1="404.30" y1="391.90" x2="405.90" y2="390.70" stroke="#8c8c8c" stroke-width="1.1" />
<rect x="405.70" y="389.70" width="0.90" height="0.90" fill="#a0a0a0" stroke="none" stroke-width="1.0" />
<line x1="434.30" y1="391.90" x2="435.90" y2="390.70" stroke="#8c8c8c" stroke-width="1.1" />
<rect x="435.70" y="389.70" width="0.90" height="0.90" fill="#a0a0a0" stroke="none" stroke-width="1.0" />
<text x="405.30" y="396.10" font-size="2.8" fill="#8a8a8a" text-anchor="middle">ALexa</text>
<text x="435.20" y="339.20" font-size="8.8" fill="#1a1a1a" text-anchor="end" stroke="#1a1a1a" stroke-width="0.28" >SUDHL-1</text>
<text x="415.60" y="349.60" font-size="8.8" fill="#1a1a1a" text-anchor="middle" stroke="#1a1a1a" stroke-width="0.28" >(59)</text>
<rect x="344.70" y="399.00" width="103.90" height="58.30" fill="#fff" stroke="#7c7c7c" stroke-width="1.0" />
<polyline points="345.30,455.87 345.80,455.88 346.30,455.82 346.80,455.90 347.30,455.90 347.80,455.90 348.30,455.90 348.80,455.88 349.30,455.90 349.80,455.82 350.30,455.74 350.80,455.80 351.30,455.90 351.80,455.89 352.30,455.86 352.80,455.87 353.30,455.90 353.80,455.90 354.30,455.89 354.80,455.75 355.30,455.86 355.80,455.73 356.30,455.62 356.80,455.33 357.30,455.17 357.80,454.44 358.30,454.48 358.80,453.91 359.30,453.61 359.80,453.59 360.30,452.85 360.80,452.82 361.30,451.92 361.80,451.61 362.30,451.39 362.80,450.87 363.30,450.25 363.80,449.40 364.30,449.11 364.80,447.78 365.30,448.44 365.80,447.30 366.30,446.00 366.80,447.18 367.30,445.92 367.80,444.98 368.30,445.39 368.80,443.54 369.30,444.36 369.80,442.82 370.30,442.23 370.80,441.71 371.30,439.08 371.80,440.00 372.30,437.42 372.80,437.20 373.30,435.70 373.80,435.80 374.30,435.41 374.80,434.24 375.30,432.73 375.80,434.85 376.30,433.88 376.80,433.94 377.30,434.88 377.80,435.90 378.30,435.13 378.80,435.71 379.30,435.96 379.80,436.77 380.30,438.86 380.80,439.35 381.30,440.34 381.80,441.31 382.30,441.97 382.80,443.10 383.30,442.77 383.80,444.05 384.30,445.44 384.80,446.25 385.30,446.03 385.80,447.87 386.30,447.92 386.80,449.48 387.30,449.71 387.80,449.93 388.30,450.78 388.80,452.00 389.30,452.53 389.80,452.99 390.30,453.81 390.80,454.28 391.30,454.07 391.80,454.70 392.30,454.89 392.80,454.79 393.30,455.67 393.80,455.77 394.30,455.88 394.80,455.83 395.30,455.90 395.80,455.75 396.30,455.90 396.80,455.82 397.30,455.77 397.80,455.85 398.30,455.84 398.80,455.75 399.30,455.90 399.80,455.76 400.30,455.88 400.80,455.79 401.30,455.90 401.80,455.90 402.30,455.90 402.80,455.81 403.30,455.74 403.80,455.90 404.30,455.77 404.80,455.90 405.30,455.86 405.80,455.90 406.30,455.90 406.80,455.90 407.30,455.90 407.80,455.87 408.30,455.90 408.80,455.75 409.30,455.88 409.80,455.82 410.30,455.86 410.80,455.90 411.30,455.79 411.80,455.90 412.30,455.88 412.80,455.79 413.30,455.82 413.80,455.80 414.30,455.83 414.80,455.88 415.30,455.90 415.80,455.84 416.30,455.68 416.80,455.81 417.30,455.90 417.80,455.90 418.30,455.78 418.80,455.86 419.30,455.90 419.80,455.90 420.30,455.90 420.80,455.80 421.30,455.90 421.80,455.84 422.30,455.87 422.80,455.90 423.30,455.90 423.80,455.89 424.30,455.85 424.80,455.86 425.30,455.87 425.80,455.89 426.30,455.90 426.80,455.90 427.30,455.90 427.80,455.87 428.30,455.77 428.80,455.90 429.30,455.88 429.80,455.90 430.30,455.87 430.80,455.90 431.30,455.83 431.80,455.90 432.30,455.90 432.80,455.90 433.30,455.76 433.80,455.81 434.30,455.90 434.80,455.90 435.30,455.90 435.80,455.90 436.30,455.77 436.80,455.87 437.30,455.74 437.80,455.66 438.30,455.88 438.80,455.90 439.30,455.90 439.80,455.90 440.30,455.90 440.80,455.71 441.30,455.77 441.80,455.68 442.30,455.90 442.80,455.90 443.30,455.90 443.80,455.90 444.30,455.86 444.80,455.90 445.30,455.90 445.80,455.77 446.30,455.79 446.80,455.85 447.30,455.85 447.80,455.90" fill="none" stroke="#a8e090" stroke-width="0.9" stroke-opacity="1.0" stroke-linejoin="round"/>
<polyline points="345.30,455.90 345.80,455.85 346.30,455.85 346.80,455.85 347.30,455.84 347.80,455.90 348.30,455.85 348.80,455.77 349.30,455.68 349.80,455.90 350.30,455.90 350.80,455.90 351.30,455.86 351.80,455.87 352.30,455.49 352.80,455.68 353.30,455.31 353.80,455.13 354.30,454.68 354.80,454.49 355.30,454.31 355.80,453.83 356.30,452.90 356.80,452.23 357.30,451.81 357.80,451.19 358.30,450.60 358.80,450.41 359.30,449.63 359.80,449.39 360.30,448.19 360.80,448.07 361.30,447.45 361.80,446.34 362.30,445.43 362.80,444.77 363.30,444.14 363.80,443.01 364.30,441.98 364.80,440.57 365.30,439.33 365.80,438.84 366.30,437.42 366.80,438.04 367.30,436.15 367.80,435.71 368.30,436.16 368.80,433.94 369.30,433.96 369.80,432.46 370.30,432.68 370.80,432.86 371.30,433.88 371.80,432.70 372.30,431.04 372.80,430.08 373.30,430.66 373.80,431.04 374.30,429.38 374.80,429.26 375.30,429.11 375.80,427.34 376.30,429.44 376.80,430.25 377.30,432.13 377.80,432.39 378.30,434.63 378.80,436.29 379.30,437.74 379.80,438.90 380.30,441.46 380.80,442.30 381.30,444.65 381.80,444.94 382.30,446.76 382.80,447.47 383.30,447.45 383.80,448.57 384.30,449.69 384.80,450.62 385.30,450.75 385.80,451.99 386.30,452.38 386.80,452.89 387.30,453.08 387.80,453.28 388.30,453.65 388.80,453.42 389.30,453.82 389.80,454.23 390.30,454.51 390.80,454.37 391.30,454.91 391.80,454.72 392.30,455.24 392.80,455.31 393.30,455.22 393.80,455.57 394.30,455.57 394.80,455.85 395.30,455.80 395.80,455.78 396.30,455.63 396.80,455.85 397.30,455.85 397.80,455.85 398.30,455.88 398.80,455.90 399.30,455.84 399.80,455.79 400.30,455.90 400.80,455.75 401.30,455.77 401.80,455.86 402.30,455.90 402.80,455.90 403.30,455.90 403.80,455.80 404.30,455.90 404.80,455.90 405.30,455.90 405.80,455.90 406.30,455.81 406.80,455.70 407.30,455.90 407.80,455.90 408.30,455.86 408.80,455.90 409.30,455.76 409.80,455.87 410.30,455.79 410.80,455.76 411.30,455.90 411.80,455.76 412.30,455.90 412.80,455.87 413.30,455.90 413.80,455.90 414.30,455.90 414.80,455.90 415.30,455.90 415.80,455.86 416.30,455.88 416.80,455.78 417.30,455.90 417.80,455.90 418.30,455.82 418.80,455.90 419.30,455.76 419.80,455.90 420.30,455.90 420.80,455.77 421.30,455.90 421.80,455.86 422.30,455.90 422.80,455.90 423.30,455.90 423.80,455.75 424.30,455.85 424.80,455.77 425.30,455.90 425.80,455.90 426.30,455.90 426.80,455.77 427.30,455.76 427.80,455.86 428.30,455.71 428.80,455.90 429.30,455.90 429.80,455.90 430.30,455.87 430.80,455.85 431.30,455.90 431.80,455.90 432.30,455.86 432.80,455.83 433.30,455.90 433.80,455.90 434.30,455.90 434.80,455.90 435.30,455.90 435.80,455.74 436.30,455.86 436.80,455.88 437.30,455.90 437.80,455.74 438.30,455.74 438.80,455.90 439.30,455.90 439.80,455.90 440.30,455.78 440.80,455.90 441.30,455.85 441.80,455.78 442.30,455.90 442.80,455.81 443.30,455.80 443.80,455.90 444.30,455.90 444.80,455.85 445.30,455.90 445.80,455.90 446.30,455.90 446.80,455.76 447.30,455.82 447.80,455.84" fill="none" stroke="#5050a8" stroke-width="0.9" stroke-opacity="1.0" stroke-linejoin="round" stroke-dasharray="1.2 0.8"/>
<polyline points="345.30,455.90 345.80,455.63 346.30,455.48 346.80,455.17 347.30,454.67 347.80,454.54 348.30,453.24 348.80,451.53 349.30,449.70 349.80,448.66 350.30,446.65 350.80,444.32 351.30,442.06 351.80,439.48 352.30,435.25 352.80,432.41 353.30,429.34 353.80,426.97 354.30,423.82 354.80,423.30 355.30,419.99 355.80,419.74 356.30,418.85 356.80,418.10 357.30,416.96 357.80,416.62 358.30,416.48 358.80,415.44 359.30,416.25 359.80,418.12 360.30,419.22 360.80,419.90 361.30,423.77 361.80,426.45 362.30,430.45 362.80,433.10 363.30,436.34 363.80,438.96 364.30,441.69 364.80,443.83 365.30,446.09 365.80,447.18 366.30,447.74 366.80,449.21 367.30,450.47 367.80,451.58 368.30,452.25 368.80,452.73 369.30,452.49 369.80,453.12 370.30,453.69 370.80,453.88 371.30,454.12 371.80,454.62 372.30,454.64 372.80,455.04 373.30,455.14 373.80,455.32 374.30,455.58 374.80,455.57 375.30,455.76 375.80,455.74 376.30,455.76 376.80,455.64 377.30,455.80 377.80,455.88 378.30,455.80 378.80,455.90 379.30,455.89 379.80,455.90 380.30,455.90 380.80,455.82 381.30,455.90 381.80,455.90 382.30,455.90 382.80,455.90 383.30,455.90 383.80,455.90 384.30,455.90 384.80,455.81 385.30,455.90 385.80,455.90 386.30,455.88 386.80,455.89 387.30,455.88 387.80,455.75 388.30,455.73 388.80,455.87 389.30,455.66 389.80,455.71 390.30,455.90 390.80,455.85 391.30,455.90 391.80,455.89 392.30,455.72 392.80,455.90 393.30,455.90 393.80,455.90 394.30,455.90 394.80,455.90 395.30,455.80 395.80,455.74 396.30,455.81 396.80,455.76 397.30,455.82 397.80,455.85 398.30,455.72 398.80,455.90 399.30,455.87 399.80,455.86 400.30,455.90 400.80,455.90 401.30,455.90 401.80,455.79 402.30,455.90 402.80,455.83 403.30,455.90 403.80,455.90 404.30,455.83 404.80,455.90 405.30,455.78 405.80,455.81 406.30,455.81 406.80,455.84 407.30,455.70 407.80,455.90 408.30,455.87 408.80,455.88 409.30,455.90 409.80,455.84 410.30,455.84 410.80,455.90 411.30,455.84 411.80,455.82 412.30,455.71 412.80,455.83 413.30,455.87 413.80,455.71 414.30,455.90 414.80,455.89 415.30,455.83 415.80,455.87 416.30,455.90 416.80,455.88 417.30,455.88 417.80,455.90 418.30,455.90 418.80,455.90 419.30,455.90 419.80,455.75 420.30,455.86 420.80,455.88 421.30,455.90 421.80,455.90 422.30,455.87 422.80,455.87 423.30,455.90 423.80,455.85 424.30,455.90 424.80,455.88 425.30,455.78 425.80,455.90 426.30,455.90 426.80,455.77 427.30,455.88 427.80,455.90 428.30,455.86 428.80,455.90 429.30,455.79 429.80,455.90 430.30,455.80 430.80,455.72 431.30,455.84 431.80,455.90 432.30,455.67 432.80,455.90 433.30,455.85 433.80,455.90 434.30,455.90 434.80,455.85 435.30,455.90 435.80,455.76 436.30,455.89 436.80,455.87 437.30,455.90 437.80,455.80 438.30,455.83 438.80,455.90 439.30,455.90 439.80,455.83 440.30,455.90 440.80,455.90 441.30,455.85 441.80,455.89 442.30,455.90 442.80,455.90 443.30,455.90 443.80,455.86 444.30,455.82 444.80,455.90 445.30,455.82 445.80,455.90 446.30,455.80 446.80,455.75 447.30,455.85 447.80,455.90" fill="none" stroke="#c05868" stroke-width="0.9" stroke-opacity="1.0" stroke-linejoin="round"/>
<polyline points="345.30,455.90 345.80,455.63 346.30,455.48 346.80,455.17 347.30,454.67 347.80,454.54 348.30,453.24 348.80,451.53 349.30,449.70 349.80,448.66 350.30,446.65 350.80,444.32 351.30,442.06 351.80,439.48 352.30,435.25 352.80,432.41 353.30,429.34 353.80,426.97 354.30,423.82 354.80,423.30 355.30,419.99 355.80,419.74 356.30,418.85 356.80,418.10 357.30,416.96 357.80,416.62 358.30,416.48 358.80,415.44 359.30,416.25 359.80,418.12 360.30,419.22 360.80,419.90 361.30,423.77 361.80,426.45 362.30,430.45 362.80,433.10 363.30,436.34 363.80,438.96 364.30,441.69 364.80,443.83 365.30,446.09 365.80,447.18 366.30,447.74 366.80,449.21 367.30,450.47 367.80,451.58 368.30,452.25 368.80,452.73 369.30,452.49 369.80,453.12 370.30,453.69 370.80,453.88 371.30,454.12 371.80,454.62 372.30,454.64 372.80,455.04 373.30,455.14 373.80,455.32 374.30,455.58 374.80,455.57 375.30,455.76 375.80,455.74 376.30,455.76 376.80,455.64 377.30,455.80 377.80,455.88 378.30,455.80 378.80,455.90 379.30,455.89 379.80,455.90 380.30,455.90 380.80,455.82 381.30,455.90 381.80,455.90 382.30,455.90 382.80,455.90 383.30,455.90 383.80,455.90 384.30,455.90 384.80,455.81 385.30,455.90 385.80,455.90 386.30,455.88 386.80,455.89 387.30,455.88 387.80,455.75 388.30,455.73 388.80,455.87 389.30,455.66 389.80,455.71 390.30,455.90 390.80,455.85 391.30,455.90 391.80,455.89 392.30,455.72 392.80,455.90 393.30,455.90 393.80,455.90 394.30,455.90 394.80,455.90 395.30,455.80 395.80,455.74 396.30,455.81 396.80,455.76 397.30,455.82 397.80,455.85 398.30,455.72 398.80,455.90 399.30,455.87 399.80,455.86 400.30,455.90 400.80,455.90 401.30,455.90 401.80,455.79 402.30,455.90 402.80,455.83 403.30,455.90 403.80,455.90 404.30,455.83 404.80,455.90 405.30,455.78 405.80,455.81 406.30,455.81 406.80,455.84 407.30,455.70 407.80,455.90 408.30,455.87 408.80,455.88 409.30,455.90 409.80,455.84 410.30,455.84 410.80,455.90 411.30,455.84 411.80,455.82 412.30,455.71 412.80,455.83 413.30,455.87 413.80,455.71 414.30,455.90 414.80,455.89 415.30,455.83 415.80,455.87 416.30,455.90 416.80,455.88 417.30,455.88 417.80,455.90 418.30,455.90 418.80,455.90 419.30,455.90 419.80,455.75 420.30,455.86 420.80,455.88 421.30,455.90 421.80,455.90 422.30,455.87 422.80,455.87 423.30,455.90 423.80,455.85 424.30,455.90 424.80,455.88 425.30,455.78 425.80,455.90 426.30,455.90 426.80,455.77 427.30,455.88 427.80,455.90 428.30,455.86 428.80,455.90 429.30,455.79 429.80,455.90 430.30,455.80 430.80,455.72 431.30,455.84 431.80,455.90 432.30,455.67 432.80,455.90 433.30,455.85 433.80,455.90 434.30,455.90 434.80,455.85 435.30,455.90 435.80,455.76 436.30,455.89 436.80,455.87 437.30,455.90 437.80,455.80 438.30,455.83 438.80,455.90 439.30,455.90 439.80,455.83 440.30,455.90 440.80,455.90 441.30,455.85 441.80,455.89 442.30,455.90 442.80,455.90 443.30,455.90 443.80,455.86 444.30,455.82 444.80,455.90 445.30,455.82 445.80,455.90 446.30,455.80 446.80,455.75 447.30,455.85 447.80,455.90" fill="none" stroke="#501018" stroke-width="0.7" stroke-opacity="0.6" stroke-dasharray="1.3 1.5"/>
<line x1="345.60" y1="402.00" x2="345.60" y2="457.30" stroke="#808080" stroke-width="0.6" stroke-dasharray="0.5 1.1"/>
<line x1="344.70" y1="456.40" x2="448.60" y2="456.40" stroke="#777" stroke-width="0.6" stroke-dasharray="0.5 1.3"/>
<rect x="340.10" y="398.30" width="1.50" height="2.40" fill="#959595" stroke="none" stroke-width="1.0" />
<rect x="340.10" y="409.76" width="1.50" height="2.40" fill="#959595" stroke="none" stroke-width="1.0" />
<rect x="340.10" y="421.22" width="1.50" height="2.40" fill="#959595" stroke="none" stroke-width="1.0" />
<rect x="340.10" y="432.68" width="1.50" height="2.40" fill="#959595" stroke="none" stroke-width="1.0" />
<rect x="340.10" y="444.14" width="1.50" height="2.40" fill="#959595" stroke="none" stroke-width="1.0" />
<rect x="340.10" y="455.60" width="1.50" height="2.40" fill="#959595" stroke="none" stroke-width="1.0" />
<text x="339.10" y="433.15" font-size="3.2" fill="#8a8a8a" transform="rotate(-90 339.10 433.15)">Counts</text>
<line x1="344.30" y1="461.10" x2="345.90" y2="459.90" stroke="#8c8c8c" stroke-width="1.1" />
<rect x="345.70" y="458.90" width="0.90" height="0.90" fill="#a0a0a0" stroke="none" stroke-width="1.0" />
<line x1="374.30" y1="461.10" x2="375.90" y2="459.90" stroke="#8c8c8c" stroke-width="1.1" />
<rect x="375.70" y="458.90" width="0.90" height="0.90" fill="#a0a0a0" stroke="none" stroke-width="1.0" />
<line x1="404.30" y1="461.10" x2="405.90" y2="459.90" stroke="#8c8c8c" stroke-width="1.1" />
<rect x="405.70" y="458.90" width="0.90" height="0.90" fill="#a0a0a0" stroke="none" stroke-width="1.0" />
<line x1="434.30" y1="461.10" x2="435.90" y2="459.90" stroke="#8c8c8c" stroke-width="1.1" />
<rect x="435.70" y="458.90" width="0.90" height="0.90" fill="#a0a0a0" stroke="none" stroke-width="1.0" />
<text x="405.30" y="465.30" font-size="2.8" fill="#8a8a8a" text-anchor="middle">ALexa</text>
<text x="434.20" y="409.20" font-size="8.8" fill="#1a1a1a" text-anchor="end" stroke="#1a1a1a" stroke-width="0.28" >SR786</text>
<text x="418.80" y="419.60" font-size="8.8" fill="#1a1a1a" text-anchor="middle" stroke="#1a1a1a" stroke-width="0.28" >(38)</text>
<line x1="454.60" y1="375.40" x2="471.90" y2="375.40" stroke="#b8141c" stroke-width="1.6" />
<text x="455.60" y="387.70" font-size="7.8" fill="#1a1a1a" text-anchor="start" stroke="#1a1a1a" stroke-width="0.12" >IgG /NS siRNA</text>
<line x1="455.00" y1="408.80" x2="471.90" y2="408.80" stroke="#88cc44" stroke-width="1.6" />
<text x="455.60" y="421.70" font-size="7.8" fill="#1a1a1a" text-anchor="start" stroke="#1a1a1a" stroke-width="0.12" >ICOS /NS siRNA</text>
<line x1="455.30" y1="443.40" x2="471.90" y2="443.40" stroke="#b838c8" stroke-width="1.6" />
<text x="455.60" y="455.00" font-size="7.8" fill="#1a1a1a" text-anchor="start" stroke="#1a1a1a" stroke-width="0.12" >ICOS /ALK siRNA</text>
</svg></body></html>
